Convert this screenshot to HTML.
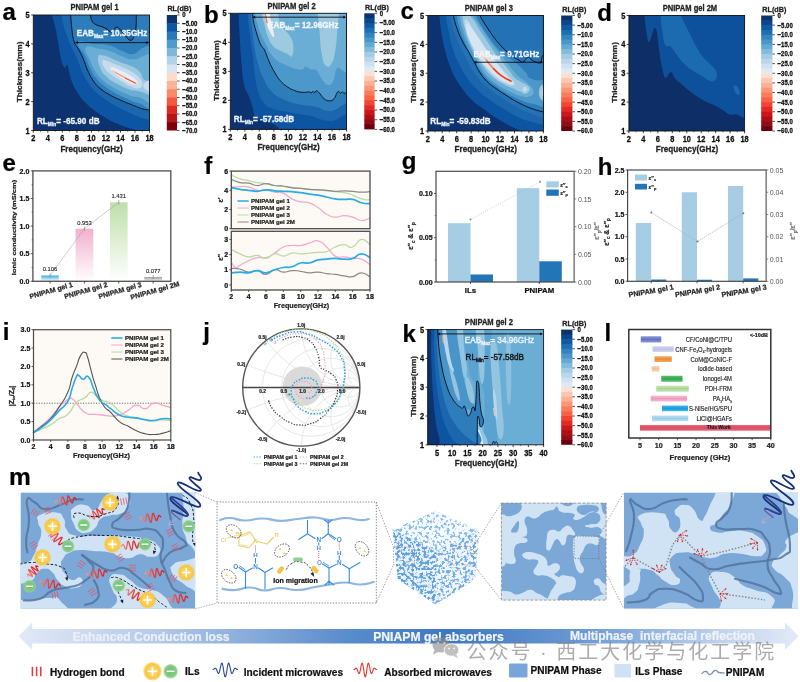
<!DOCTYPE html>
<html lang="en"><head><meta charset="utf-8"><title>PNIPAM gel absorbers figure</title>
<style>
html,body{margin:0;padding:0;background:#fff;}
body{width:800px;height:682px;overflow:hidden;}
svg{display:block;font-family:"Liberation Sans","Noto Sans CJK SC",sans-serif;}
</style></head><body>
<svg width="800" height="682" viewBox="0 0 800 682">
<defs>
<filter id="soft" x="-2%" y="-2%" width="104%" height="104%"><feGaussianBlur stdDeviation="0.45"/></filter>
</defs>
<rect width="800" height="682" fill="#fff"/>
<g filter="url(#soft)">
<g>
<clipPath id="ca"><rect x="33.3" y="15" width="116.2" height="115.5"/></clipPath>
<g clip-path="url(#ca)">
<rect x="33.3" y="15" width="116.2" height="115.5" fill="#0a3070" stroke="none" stroke-width="1" />
<path d="M52 2.7 C23.6 6 51.3 9.3 52 15.1 C52.7 21 53.2 17.7 54.7 24.7 C56.3 31.6 56.2 32.4 57.9 41.2 C59.5 50 59.3 51 60.8 57.7 C62.3 64.3 62.1 63.5 63.4 66.1 C64.6 68.6 64.5 67.5 65.6 67.2 C66.6 66.9 66.4 63.6 67.4 65 C68.4 66.4 67.9 67.4 69.2 72.3 C70.6 77.2 70.1 77.5 72.5 83.3 C75 89.1 75 88.8 78.4 93.9 C81.8 99.1 81.1 98.2 85.4 102.6 C89.6 106.9 88.4 106 94.1 110.3 C99.9 114.6 100.1 114.8 107 118.7 C113.8 122.5 113 122 119.8 124.7 C126.7 127.5 125.8 127.1 132.6 129.1 C139.5 131.2 138.6 131.9 145.5 132.4 C152.3 132.9 154.9 165.6 158.3 131 C161.7 96.4 186.6 36.9 158.3 2.7 C130 -31.5 80.3 -0.7 52 2.7Z" fill="#0d54a2" />
<path d="M61.2 2.7 C35.4 6 60.8 8.8 61.5 15.1 C62.3 21.5 62.3 20.5 63.9 26.5 C65.5 32.5 65.6 32.1 67.6 37.5 C69.5 42.9 69 41.8 71.2 46.7 C73.4 51.5 73.6 50.9 75.8 55.8 C78 60.7 77.5 60.1 79.5 65 C81.4 69.9 80.7 69.3 83.2 74.1 C85.6 79 85.7 78.9 88.7 83.3 C91.6 87.7 90.2 86.7 94.1 90.6 C98.1 94.6 97.9 94.1 103.3 98 C108.7 101.9 108 101.6 114.3 105.3 C120.7 109 120.3 108.5 127.1 111.7 C134 114.9 134.1 115 140 117.2 C145.8 119.4 144.2 118.7 149.1 120 C154 121.2 155.9 153.1 158.3 121.8 C160.7 90.5 184.2 34.4 158.3 2.7 C132.4 -29.1 87 -0.7 61.2 2.7Z" fill="#1a66ae" />
<path d="M70.5 2.7 C47.1 6 70.3 8.3 70.7 15.1 C71 22 70.9 21.4 71.8 28.3 C72.7 35.3 72.2 35.5 74 41.2 C75.8 46.8 76.1 44.8 78.6 49.4 C81 54 80.7 52.9 83.2 58.6 C85.6 64.2 85 64.6 87.7 70.5 C90.4 76.3 90.1 75.9 93.2 80.6 C96.4 85.2 95.5 84.2 99.6 87.9 C103.8 91.6 103.4 91.1 108.8 94.3 C114.2 97.5 113.9 97.1 119.8 99.8 C125.7 102.5 124.9 102 130.8 104.4 C136.7 106.7 136.9 107.1 141.8 108.6 C146.7 110.1 144.7 109.1 149.1 109.9 C153.5 110.7 155.9 140.3 158.3 111.7 C160.7 83.1 181.7 31.7 158.3 2.7 C134.9 -26.4 93.9 -0.7 70.5 2.7Z" fill="#2f7dbb" />
<path d="M90.5 2.7 C79.8 5.6 90.1 10.9 90.5 15.1 C90.8 19.4 90.7 18.8 92 21 C93.2 23.2 93.5 23.3 96 24.7 C98.4 26 99.8 25.8 102.4 26.9 C105 27.9 105.1 28 107 29.2 C108.9 30.4 109.1 31.8 110.6 32 C112.1 32.2 112.1 31.2 113.4 30.2 C114.7 29.1 114.6 27.6 116.1 27.4 C117.6 27.2 117.7 27.3 119.8 29.2 C121.9 31.2 123 33.1 125.3 35.7 C127.7 38.2 128 39.8 129.9 40.2 C131.8 40.7 132.1 40.3 133.6 37.5 C135 34.7 135.3 33.5 135.9 28.3 C136.6 23.1 136.2 21.1 136.3 15.1 C136.4 9.1 147 5.6 136.3 2.7 C125.6 -0.2 101.2 -0.2 90.5 2.7Z" fill="#1a66ae" />
<path d="M78 42.1 C75.6 45.3 81.7 48.7 85 55.8 C88.3 62.9 87.6 62.8 90.5 68.7 C93.4 74.5 92.6 73.4 96 77.8 C99.4 82.2 98.9 81.5 103.3 85.1 C107.7 88.8 106.6 88.1 112.5 91.6 C118.3 95 118 94.8 125.3 98 C132.6 101.2 131.2 101.3 140 103.5 C148.8 105.7 153.4 121.9 158.3 106.2 C163.2 90.6 160.7 61 158.3 44.8 C155.9 28.7 153.5 44.8 149.1 45.7 C144.7 46.7 146.2 46.3 141.8 48.5 C137.4 50.7 138 53.4 132.6 54 C127.3 54.6 128 53 121.6 50.7 C115.3 48.3 116.1 47 108.8 45.2 C101.5 43.4 102.4 44.7 94.1 43.9 C85.9 43.1 80.5 38.9 78 42.1Z" fill="#4d98ca" />
<path d="M85.9 47.6 C83.5 50.9 87.8 54.7 90.5 61.3 C93.2 67.9 92.6 67.2 96 72.3 C99.4 77.4 98.9 76.7 103.3 80.6 C107.7 84.5 106.6 83.6 112.5 87 C118.3 90.4 118.5 90.7 125.3 93.4 C132.2 96.1 129.3 95.3 138.1 97.1 C146.9 98.8 152.9 111.5 158.3 99.8 C163.7 88.1 160.7 65.3 158.3 53.1 C155.9 40.9 153.5 53 149.1 54 C144.7 55 146.2 55.3 141.8 56.7 C137.4 58.2 138 59.6 132.6 59.5 C127.3 59.3 127.5 58.4 121.6 56.2 C115.8 54 116.5 53.2 110.6 51.2 C104.8 49.3 106.2 49.8 99.6 48.9 C93 47.9 88.3 44.2 85.9 47.6Z" fill="#6baed6" />
<path d="M98.2 56.7 C97.4 60.3 98.2 63.3 100.6 68.7 C102.9 74 102.8 73 107 76.9 C111.1 80.8 110.3 80 116.1 83.3 C122 86.6 122.6 87 129 89.2 C135.3 91.4 132.2 89.7 140 91.6 C147.8 93.4 153.4 98.3 158.3 96.1 C163.2 93.9 161.7 87.5 158.3 83.3 C154.9 79.2 150.4 83.5 145.5 80.6 C140.6 77.6 143.4 76 140 72.3 C136.5 68.7 137.5 69.4 132.6 66.8 C127.8 64.3 127.5 65.1 121.6 62.8 C115.8 60.4 115.5 60 110.6 58 C105.8 56.1 106.6 55.8 103.3 55.5 C100 55.1 98.9 53.2 98.2 56.7Z" fill="#9ecae1" />
<path d="M102.4 61.3 C101.9 63.4 102.5 64.8 105.1 68.7 C107.8 72.5 108.1 72.2 112.5 75.6 C116.9 79 116.8 78.5 121.6 81.5 C126.5 84.4 126.4 84.8 130.8 86.6 C135.2 88.5 135.1 88.8 138.1 88.4 C141.2 88.1 141.7 87.7 142.2 85.1 C142.7 82.6 142.5 82.2 140 78.7 C137.4 75.3 137 75.2 132.6 72.3 C128.2 69.4 128.4 69.9 123.5 67.7 C118.6 65.5 118.7 65.9 114.3 64.1 C109.9 62.3 110.2 61.7 107 61 C103.8 60.2 102.9 59.3 102.4 61.3Z" fill="#c6dbef" />
<path d="M110.6 68.3 C110.8 69.7 111.3 70.2 113.9 72.7 C116.6 75.1 116.7 74.8 120.7 77.4 C124.7 80.1 125.1 80.6 129 82.6 C132.9 84.5 133 84.7 135.4 84.8 C137.7 84.9 137.9 84.5 137.8 82.9 C137.6 81.4 137.6 81.3 134.8 78.9 C132.1 76.6 131.8 76.6 127.5 74.1 C123.3 71.7 122.7 71.5 118.9 69.8 C115.1 68 115.6 67.9 113.4 67.6 C111.2 67.2 110.5 66.9 110.6 68.3Z" fill="#e6eff8" />
<path d="M144 83.3 C146.2 81.1 155.4 77.3 158.3 79.6 C161.2 82 160.5 93 158.3 95.2 C156.1 97.4 150.2 93 147.3 90.6 C144.4 88.3 141.8 85.5 144 83.3Z" fill="#c6dbef" />
<path d="M112.84 71.03 L136.3 83.68" stroke="#f9c6ae" stroke-width="1.8" stroke-linecap="round" fill="none"/>
<path d="M115.23 72.5 L135.76 83.31" stroke="#f6906a" stroke-width="0.9" stroke-linecap="round" fill="none"/>
<path d="M125.31 78.18 L135.39 83.13" stroke="#ea5535" stroke-width="1.0" stroke-linecap="round" fill="none"/>
<path d="M70.7 15.1 C71 18.7 70.9 21.4 71.8 28.3 C72.7 35.3 72.2 35.5 74 41.2 C75.8 46.8 76.1 44.8 78.6 49.4 C81 54 80.7 52.9 83.2 58.6 C85.6 64.2 85 64.6 87.7 70.5 C90.4 76.3 90.1 75.9 93.2 80.6 C96.4 85.2 95.5 84.2 99.6 87.9 C103.8 91.6 103.4 91.1 108.8 94.3 C114.2 97.5 113.9 97.1 119.8 99.8 C125.7 102.5 124.9 102 130.8 104.4 C136.7 106.7 136.9 107.1 141.8 108.6 C146.7 110.1 147.2 109.5 149.1 109.9" fill="none" stroke="#0a0a14" stroke-width="0.9" stroke-linejoin="round" stroke-linecap="round" />
<path d="M90.5 15.1 C90.8 16.5 90.7 18.8 92 21 C93.2 23.2 93.5 23.3 96 24.7 C98.4 26 99.8 25.8 102.4 26.9 C105 27.9 105.1 28 107 29.2 C108.9 30.4 109.1 31.8 110.6 32 C112.1 32.2 112.1 31.2 113.4 30.2 C114.7 29.1 114.6 27.6 116.1 27.4 C117.6 27.2 117.7 27.3 119.8 29.2 C121.9 31.2 123 33.1 125.3 35.7 C127.7 38.2 128 39.8 129.9 40.2 C131.8 40.7 132.1 40.3 133.6 37.5 C135 34.7 135.3 33.5 135.9 28.3 C136.6 23.1 136.2 18.2 136.3 15.1" fill="none" stroke="#0a0a14" stroke-width="0.9" stroke-linejoin="round" stroke-linecap="round" />
</g>
<line x1="76.19" y1="42.62" x2="148.22" y2="42.62" stroke="#0a0a14" stroke-width="0.9" />
<polygon points="75.09,42.62 78.02,41.12 78.02,44.12" fill="#0a0a14" />
<polygon points="149.13,42.62 146.2,41.12 146.2,44.12" fill="#0a0a14" />
<text transform="translate(76.74 36.21) scale(0.87 1)" font-size="9.4" font-weight="bold" fill="#f2f6fb" stroke="#f2f6fb" stroke-width="0.3" text-anchor="start">EAB<tspan font-size="5.6" dy="1.96">Max</tspan><tspan dy="-1.96">&#8203;</tspan>= 10.35GHz</text>
<text transform="translate(36.96 123.64) scale(0.87 1)" font-size="9.4" font-weight="bold" fill="#f2f6fb" stroke="#f2f6fb" stroke-width="0.3" text-anchor="start">RL<tspan font-size="5.6" dy="1.96">Min</tspan><tspan dy="-1.96">&#8203;</tspan>= -65.90 dB</text>
<rect x="33.3" y="15" width="116.2" height="115.5" fill="none" stroke="#111" stroke-width="0.9" />
<line x1="33.3" y1="130.5" x2="33.3" y2="132.7" stroke="#111" stroke-width="0.8" />
<text transform="translate(33.3 141.4) scale(0.86 1)" font-size="8.6" font-weight="bold" fill="#111" stroke="#111" stroke-width="0.3" text-anchor="middle">2</text>
<line x1="47.82" y1="130.5" x2="47.82" y2="132.7" stroke="#111" stroke-width="0.8" />
<text transform="translate(47.82 141.4) scale(0.86 1)" font-size="8.6" font-weight="bold" fill="#111" stroke="#111" stroke-width="0.3" text-anchor="middle">4</text>
<line x1="62.35" y1="130.5" x2="62.35" y2="132.7" stroke="#111" stroke-width="0.8" />
<text transform="translate(62.35 141.4) scale(0.86 1)" font-size="8.6" font-weight="bold" fill="#111" stroke="#111" stroke-width="0.3" text-anchor="middle">6</text>
<line x1="76.88" y1="130.5" x2="76.88" y2="132.7" stroke="#111" stroke-width="0.8" />
<text transform="translate(76.88 141.4) scale(0.86 1)" font-size="8.6" font-weight="bold" fill="#111" stroke="#111" stroke-width="0.3" text-anchor="middle">8</text>
<line x1="91.4" y1="130.5" x2="91.4" y2="132.7" stroke="#111" stroke-width="0.8" />
<text transform="translate(91.4 141.4) scale(0.86 1)" font-size="8.6" font-weight="bold" fill="#111" stroke="#111" stroke-width="0.3" text-anchor="middle">10</text>
<line x1="105.92" y1="130.5" x2="105.92" y2="132.7" stroke="#111" stroke-width="0.8" />
<text transform="translate(105.92 141.4) scale(0.86 1)" font-size="8.6" font-weight="bold" fill="#111" stroke="#111" stroke-width="0.3" text-anchor="middle">12</text>
<line x1="120.45" y1="130.5" x2="120.45" y2="132.7" stroke="#111" stroke-width="0.8" />
<text transform="translate(120.45 141.4) scale(0.86 1)" font-size="8.6" font-weight="bold" fill="#111" stroke="#111" stroke-width="0.3" text-anchor="middle">14</text>
<line x1="134.97" y1="130.5" x2="134.97" y2="132.7" stroke="#111" stroke-width="0.8" />
<text transform="translate(134.97 141.4) scale(0.86 1)" font-size="8.6" font-weight="bold" fill="#111" stroke="#111" stroke-width="0.3" text-anchor="middle">16</text>
<line x1="149.5" y1="130.5" x2="149.5" y2="132.7" stroke="#111" stroke-width="0.8" />
<text transform="translate(149.5 141.4) scale(0.86 1)" font-size="8.6" font-weight="bold" fill="#111" stroke="#111" stroke-width="0.3" text-anchor="middle">18</text>
<line x1="40.56" y1="130.5" x2="40.56" y2="131.8" stroke="#111" stroke-width="0.6" />
<line x1="55.09" y1="130.5" x2="55.09" y2="131.8" stroke="#111" stroke-width="0.6" />
<line x1="69.61" y1="130.5" x2="69.61" y2="131.8" stroke="#111" stroke-width="0.6" />
<line x1="84.14" y1="130.5" x2="84.14" y2="131.8" stroke="#111" stroke-width="0.6" />
<line x1="98.66" y1="130.5" x2="98.66" y2="131.8" stroke="#111" stroke-width="0.6" />
<line x1="113.19" y1="130.5" x2="113.19" y2="131.8" stroke="#111" stroke-width="0.6" />
<line x1="127.71" y1="130.5" x2="127.71" y2="131.8" stroke="#111" stroke-width="0.6" />
<line x1="142.24" y1="130.5" x2="142.24" y2="131.8" stroke="#111" stroke-width="0.6" />
<line x1="31.1" y1="130.5" x2="33.3" y2="130.5" stroke="#111" stroke-width="0.8" />
<text transform="translate(29.7 133.5) scale(0.86 1)" font-size="8.6" font-weight="bold" fill="#111" stroke="#111" stroke-width="0.3" text-anchor="end">1</text>
<line x1="31.1" y1="101.62" x2="33.3" y2="101.62" stroke="#111" stroke-width="0.8" />
<text transform="translate(29.7 104.62) scale(0.86 1)" font-size="8.6" font-weight="bold" fill="#111" stroke="#111" stroke-width="0.3" text-anchor="end">2</text>
<line x1="31.1" y1="72.75" x2="33.3" y2="72.75" stroke="#111" stroke-width="0.8" />
<text transform="translate(29.7 75.75) scale(0.86 1)" font-size="8.6" font-weight="bold" fill="#111" stroke="#111" stroke-width="0.3" text-anchor="end">3</text>
<line x1="31.1" y1="43.88" x2="33.3" y2="43.88" stroke="#111" stroke-width="0.8" />
<text transform="translate(29.7 46.88) scale(0.86 1)" font-size="8.6" font-weight="bold" fill="#111" stroke="#111" stroke-width="0.3" text-anchor="end">4</text>
<line x1="31.1" y1="15" x2="33.3" y2="15" stroke="#111" stroke-width="0.8" />
<text transform="translate(29.7 18) scale(0.86 1)" font-size="8.6" font-weight="bold" fill="#111" stroke="#111" stroke-width="0.3" text-anchor="end">5</text>
<text transform="translate(91.6 151.5) scale(0.87 1)" font-size="9.3" font-weight="bold" fill="#222" stroke="#222" stroke-width="0.3" text-anchor="middle">Frequency(GHz)</text>
<text transform="translate(21.5 71.95) scale(0.84 1) rotate(-90)" font-size="8.3" font-weight="bold" fill="#222" stroke="#222" stroke-width="0.3" text-anchor="middle">Thickness(mm)</text>
<text transform="translate(94.6 10.2) scale(0.86 1)" font-size="8.8" font-weight="bold" fill="#222" stroke="#222" stroke-width="0.3" text-anchor="middle">PNIPAM gel 1</text>
<text x="2.4" y="20" font-size="24" font-weight="bold" fill="#000" text-anchor="start"  stroke="#000" stroke-width="0.22">a</text>
<rect x="166.8" y="15" width="10.2" height="8.85" fill="#08306b" stroke="none" stroke-width="1" />
<rect x="166.8" y="23.25" width="10.2" height="8.85" fill="#0b57a3" stroke="none" stroke-width="1" />
<rect x="166.8" y="31.5" width="10.2" height="8.85" fill="#2a7aba" stroke="none" stroke-width="1" />
<rect x="166.8" y="39.75" width="10.2" height="8.85" fill="#4f9bcb" stroke="none" stroke-width="1" />
<rect x="166.8" y="48" width="10.2" height="8.85" fill="#7db8da" stroke="none" stroke-width="1" />
<rect x="166.8" y="56.25" width="10.2" height="8.85" fill="#b3d3e8" stroke="none" stroke-width="1" />
<rect x="166.8" y="64.5" width="10.2" height="8.85" fill="#d6e5f4" stroke="none" stroke-width="1" />
<rect x="166.8" y="72.75" width="10.2" height="8.85" fill="#fddbc9" stroke="none" stroke-width="1" />
<rect x="166.8" y="81" width="10.2" height="8.85" fill="#fcb499" stroke="none" stroke-width="1" />
<rect x="166.8" y="89.25" width="10.2" height="8.85" fill="#fb8a6a" stroke="none" stroke-width="1" />
<rect x="166.8" y="97.5" width="10.2" height="8.85" fill="#f6583e" stroke="none" stroke-width="1" />
<rect x="166.8" y="105.75" width="10.2" height="8.85" fill="#dd2a25" stroke="none" stroke-width="1" />
<rect x="166.8" y="114" width="10.2" height="8.85" fill="#b51218" stroke="none" stroke-width="1" />
<rect x="166.8" y="122.25" width="10.2" height="8.25" fill="#7a0510" stroke="none" stroke-width="1" />
<line x1="177" y1="15" x2="179.6" y2="15" stroke="#111" stroke-width="0.7" />
<text transform="translate(182.2 17.4) scale(0.88 1)" font-size="6.8" font-weight="bold" fill="#111" stroke="#111" stroke-width="0.3" text-anchor="start">0</text>
<line x1="177" y1="23.25" x2="179.6" y2="23.25" stroke="#111" stroke-width="0.7" />
<text transform="translate(182.2 25.65) scale(0.88 1)" font-size="6.8" font-weight="bold" fill="#111" stroke="#111" stroke-width="0.3" text-anchor="start">−5.00</text>
<line x1="177" y1="31.5" x2="179.6" y2="31.5" stroke="#111" stroke-width="0.7" />
<text transform="translate(182.2 33.9) scale(0.88 1)" font-size="6.8" font-weight="bold" fill="#111" stroke="#111" stroke-width="0.3" text-anchor="start">−10.0</text>
<line x1="177" y1="39.75" x2="179.6" y2="39.75" stroke="#111" stroke-width="0.7" />
<text transform="translate(182.2 42.15) scale(0.88 1)" font-size="6.8" font-weight="bold" fill="#111" stroke="#111" stroke-width="0.3" text-anchor="start">−15.0</text>
<line x1="177" y1="48" x2="179.6" y2="48" stroke="#111" stroke-width="0.7" />
<text transform="translate(182.2 50.4) scale(0.88 1)" font-size="6.8" font-weight="bold" fill="#111" stroke="#111" stroke-width="0.3" text-anchor="start">−20.0</text>
<line x1="177" y1="56.25" x2="179.6" y2="56.25" stroke="#111" stroke-width="0.7" />
<text transform="translate(182.2 58.65) scale(0.88 1)" font-size="6.8" font-weight="bold" fill="#111" stroke="#111" stroke-width="0.3" text-anchor="start">−25.0</text>
<line x1="177" y1="64.5" x2="179.6" y2="64.5" stroke="#111" stroke-width="0.7" />
<text transform="translate(182.2 66.9) scale(0.88 1)" font-size="6.8" font-weight="bold" fill="#111" stroke="#111" stroke-width="0.3" text-anchor="start">−30.0</text>
<line x1="177" y1="72.75" x2="179.6" y2="72.75" stroke="#111" stroke-width="0.7" />
<text transform="translate(182.2 75.15) scale(0.88 1)" font-size="6.8" font-weight="bold" fill="#111" stroke="#111" stroke-width="0.3" text-anchor="start">−35.0</text>
<line x1="177" y1="81" x2="179.6" y2="81" stroke="#111" stroke-width="0.7" />
<text transform="translate(182.2 83.4) scale(0.88 1)" font-size="6.8" font-weight="bold" fill="#111" stroke="#111" stroke-width="0.3" text-anchor="start">−40.0</text>
<line x1="177" y1="89.25" x2="179.6" y2="89.25" stroke="#111" stroke-width="0.7" />
<text transform="translate(182.2 91.65) scale(0.88 1)" font-size="6.8" font-weight="bold" fill="#111" stroke="#111" stroke-width="0.3" text-anchor="start">−45.0</text>
<line x1="177" y1="97.5" x2="179.6" y2="97.5" stroke="#111" stroke-width="0.7" />
<text transform="translate(182.2 99.9) scale(0.88 1)" font-size="6.8" font-weight="bold" fill="#111" stroke="#111" stroke-width="0.3" text-anchor="start">−50.0</text>
<line x1="177" y1="105.75" x2="179.6" y2="105.75" stroke="#111" stroke-width="0.7" />
<text transform="translate(182.2 108.15) scale(0.88 1)" font-size="6.8" font-weight="bold" fill="#111" stroke="#111" stroke-width="0.3" text-anchor="start">−55.0</text>
<line x1="177" y1="114" x2="179.6" y2="114" stroke="#111" stroke-width="0.7" />
<text transform="translate(182.2 116.4) scale(0.88 1)" font-size="6.8" font-weight="bold" fill="#111" stroke="#111" stroke-width="0.3" text-anchor="start">−60.0</text>
<line x1="177" y1="122.25" x2="179.6" y2="122.25" stroke="#111" stroke-width="0.7" />
<text transform="translate(182.2 124.65) scale(0.88 1)" font-size="6.8" font-weight="bold" fill="#111" stroke="#111" stroke-width="0.3" text-anchor="start">−65.0</text>
<line x1="177" y1="130.5" x2="179.6" y2="130.5" stroke="#111" stroke-width="0.7" />
<text transform="translate(182.2 132.9) scale(0.88 1)" font-size="6.8" font-weight="bold" fill="#111" stroke="#111" stroke-width="0.3" text-anchor="start">−70.0</text>
<text transform="translate(179.4 11.2) scale(0.9 1)" font-size="8" font-weight="bold" fill="#222" stroke="#222" stroke-width="0.3" text-anchor="middle">RL(dB)</text>
</g>
<g>
<clipPath id="cb"><rect x="230.3" y="13.3" width="116.2" height="116.1"/></clipPath>
<g clip-path="url(#cb)">
<rect x="230.3" y="13.3" width="116.2" height="116.1" fill="#0a3070" stroke="none" stroke-width="1" />
<path d="M238.7 0.7 C207.2 4.1 238.5 4.2 238.7 13.5 C239 22.8 238.9 22.3 239.7 35.5 C240.4 48.7 240.3 49.8 241.5 63 C242.7 76.2 242.3 76.2 244.2 85 C246.2 93.8 246.6 90.1 248.8 96 C251 101.8 250.8 101.6 252.5 107 C254.2 112.3 252.8 112.7 255.2 116.1 C257.7 119.6 257.5 118.1 261.7 119.8 C265.8 121.5 265.9 119.9 270.8 122.6 C275.7 125.2 277.5 126.2 280 129.9 C282.4 133.5 259.5 134.6 280 136.3 C300.5 138 336.4 172.5 357 136.3 C377.5 100.1 388.5 36.8 357 0.7 C325.4 -35.5 270.3 -2.8 238.7 0.7Z" fill="#0d54a2" />
<path d="M247.9 0.7 C218.8 4.1 247.6 5.7 247.9 13.5 C248.3 21.3 248 19.2 249.2 30 C250.4 40.7 250.9 41.1 252.5 53.8 C254.1 66.5 253.5 66.9 255.2 77.6 C257 88.4 256.5 87.3 258.9 94.1 C261.4 101 260.7 99.4 264.4 103.3 C268.1 107.2 267 106.6 272.7 108.8 C278.3 111 278.6 110.2 285.5 111.6 C292.3 112.9 291.5 112.7 298.3 113.9 C305.2 115.2 304.3 114.5 311.1 116.1 C318 117.8 317.6 119.1 324 120.2 C330.3 121.2 329.1 121.7 335 120.2 C340.8 118.6 340.1 116.4 346 114.3 C351.8 112.3 354 142.8 357 112.5 C359.9 82.2 386 30.5 357 0.7 C327.9 -29.1 277 -2.8 247.9 0.7Z" fill="#1a66ae" />
<path d="M250.7 0.7 C222.3 4.1 250.3 6.2 250.7 13.5 C251.1 20.8 251.1 18.9 252.1 28.2 C253.2 37.4 253 38.5 254.7 48.3 C256.4 58.1 255.9 56.5 258.4 64.8 C260.8 73.1 260.5 72.6 263.9 79.5 C267.2 86.3 266.5 85.6 270.8 90.5 C275.1 95.4 274.6 94.6 280 97.8 C285.4 101 284.6 100.4 291 102.4 C297.3 104.3 297 103.9 303.8 105.1 C310.7 106.4 310.8 105.5 316.6 107 C322.5 108.4 320.9 109.9 325.8 110.6 C330.7 111.4 329.6 111.7 335 109.7 C340.3 107.8 340.1 105.5 346 103.3 C351.8 101.1 354 128.8 357 101.5 C359.9 74.1 385.3 27.6 357 0.7 C328.6 -26.2 279 -2.8 250.7 0.7Z" fill="#2f7dbb" />
<path d="M252.5 0.7 C228.1 3.7 252.3 8.8 252.5 13.5 C252.7 18.2 252.6 16.6 253.4 20.8 C254.3 25.1 254.4 26.3 256.2 31.8 C257.9 37.4 258.8 40.5 260.7 44.7 C262.7 48.8 262.5 45.9 264.4 49.8 C266.3 53.6 266.6 55.9 269 61.2 C271.3 66.4 271.9 67.7 274.5 72.1 C277.1 76.6 277 77 280 80.4 C283 83.8 283.9 84.5 287.3 86.8 C290.7 89.2 291.2 89.2 294.6 90.5 C298.1 91.8 298.6 92 302 92.3 C305.4 92.7 307.2 91.8 309.3 91.9 C311.4 92.1 310.3 93.2 311.1 93 C312 92.9 312.1 91.5 313 91.4 C313.8 91.3 314 92.8 314.8 92.7 C315.7 92.5 315.4 90.5 316.6 90.8 C317.9 91.2 318.6 92.3 320.3 94.1 C322 96 321.8 97.1 324 98.7 C326.1 100.3 327.1 100.9 329.5 100.9 C331.8 100.9 332.3 100.5 334.1 98.7 C335.8 96.9 335.7 94.9 336.8 93.2 C337.9 91.5 337.8 91.4 338.6 91.4 C339.5 91.4 339.6 93.1 340.5 93.2 C341.3 93.4 341.4 91.9 342.3 91.9 C343.2 92 343.3 93.3 344.1 93.4 C345 93.5 343 92.6 346 92.3 C349 92.1 354.4 113.7 357 92.3 C359.5 70.9 381.3 22.1 357 0.7 C332.6 -20.7 276.9 -2.3 252.5 0.7Z" fill="#4d98ca" />
<path d="M255.2 0.7 C231.5 3.7 254.8 8.4 255.2 13.5 C255.7 18.6 255.8 18 257.1 22.7 C258.4 27.4 258.6 28.5 260.7 33.7 C262.9 38.8 263.9 40 266.2 44.7 C268.6 49.4 268 50 270.8 53.8 C273.6 57.7 274.7 58.6 278.2 61.2 C281.6 63.7 281.6 63.1 285.5 64.8 C289.3 66.5 290.8 67.4 294.6 68.5 C298.5 69.6 299.4 69.8 302 69.4 C304.5 69 303.5 66.7 305.6 66.7 C307.8 66.7 308.6 68.5 311.1 69.4 C313.7 70.3 314.1 68 316.6 70.3 C319.2 72.7 319.6 76.1 322.1 79.5 C324.7 82.9 325.1 84.6 327.6 85 C330.2 85.4 331 85.2 333.1 81.3 C335.3 77.5 334.7 71 336.8 68.5 C338.9 65.9 340.2 69.5 342.3 70.3 C344.4 71.2 342.5 71.7 346 72.1 C349.4 72.6 354.4 88.8 357 72.1 C359.5 55.5 380.7 17.3 357 0.7 C333.2 -16 279 -2.3 255.2 0.7Z" fill="#6baed6" />
<path d="M261.7 4.3 C257.8 6.5 261 8.8 261.7 13.5 C262.3 18.2 262.9 18.9 264.4 24.5 C265.9 30.1 265.9 32.2 268.1 37.3 C270.2 42.5 270.8 43.4 273.6 46.5 C276.4 49.6 276.8 48.8 280 50.5 C283.2 52.2 284.5 52.5 287.3 53.8 C290.1 55.1 290.5 58.2 291.9 56 C293.3 53.9 293.7 49.4 293.2 44.7 C292.6 39.9 291.7 39 289.5 35.5 C287.4 32 286.2 32.3 284 29.6 C281.9 27 281.7 27.9 280.4 24.1 C279 20.4 278.7 18.1 278.2 13.5 C277.6 8.9 282 6.5 278.2 4.3 C274.3 2.2 265.5 2.2 261.7 4.3Z" fill="#9ecae1" />
<path d="M319.9 4.3 C315.9 11.6 319.4 23.5 319.9 35.5 C320.5 47.5 320.8 48.6 322.1 55.7 C323.5 62.7 323.7 63.8 325.8 65.7 C327.9 67.7 329.2 67.1 331.3 63.9 C333.4 60.7 333.6 59.9 335 52 C336.3 44.1 336.7 41.1 337.2 30 C337.7 18.9 341.2 10.3 337.2 4.3 C333.2 -1.7 324 -2.9 319.9 4.3Z" fill="#9ecae1" />
<path d="M264 4.3 C262.8 6.5 263.9 9.2 264.4 13.5 C264.9 17.8 264.7 18 266.2 22.7 C267.7 27.4 269 30.5 270.8 33.7 C272.7 36.9 273.8 38.1 274.1 36.4 C274.5 34.7 273.4 31.7 272.3 26.3 C271.2 21 270.2 18.6 269.5 13.5 C268.9 8.4 270.8 6.5 269.5 4.3 C268.3 2.2 265.2 2.2 264 4.3Z" fill="#e6eff8" />
<path d="M265.32 13.87 L266.97 22.66" stroke="#f47a50" stroke-width="1.4" stroke-linecap="round" fill="none"/>
<path d="M252.5 13.5 C252.7 15.2 252.6 16.6 253.4 20.8 C254.3 25.1 254.4 26.3 256.2 31.8 C257.9 37.4 258.8 40.5 260.7 44.7 C262.7 48.8 262.5 45.9 264.4 49.8 C266.3 53.6 266.6 55.9 269 61.2 C271.3 66.4 271.9 67.7 274.5 72.1 C277.1 76.6 277 77 280 80.4 C283 83.8 283.9 84.5 287.3 86.8 C290.7 89.2 291.2 89.2 294.6 90.5 C298.1 91.8 298.6 92 302 92.3 C305.4 92.7 307.2 91.8 309.3 91.9 C311.4 92.1 310.3 93.2 311.1 93 C312 92.9 312.1 91.5 313 91.4 C313.8 91.3 314 92.8 314.8 92.7 C315.7 92.5 315.4 90.5 316.6 90.8 C317.9 91.2 318.6 92.3 320.3 94.1 C322 96 321.8 97.1 324 98.7 C326.1 100.3 327.1 100.9 329.5 100.9 C331.8 100.9 332.3 100.5 334.1 98.7 C335.8 96.9 335.7 94.9 336.8 93.2 C337.9 91.5 337.8 91.4 338.6 91.4 C339.5 91.4 339.6 93.1 340.5 93.2 C341.3 93.4 341.4 91.9 342.3 91.9 C343.2 92 343.3 93.3 344.1 93.4 C345 93.5 345.5 92.6 346 92.3" fill="none" stroke="#0a0a14" stroke-width="0.9" stroke-linejoin="round" stroke-linecap="round" />
</g>
<line x1="253.41" y1="17.16" x2="345.05" y2="17.16" stroke="#0a0a14" stroke-width="0.9" />
<polygon points="252.49,17.16 255.06,15.76 255.06,18.56" fill="#0a0a14" />
<polygon points="345.97,17.16 343.4,15.76 343.4,18.56" fill="#0a0a14" />
<text transform="translate(268.07 27.79) scale(0.87 1)" font-size="9.4" font-weight="bold" fill="#f2f6fb" stroke="#f2f6fb" stroke-width="0.3" text-anchor="start">EAB<tspan font-size="5.6" dy="1.96">Max</tspan><tspan dy="-1.96">&#8203;</tspan>= 12.96GHz</text>
<text transform="translate(233.8 122) scale(0.87 1)" font-size="9.4" font-weight="bold" fill="#f2f6fb" stroke="#f2f6fb" stroke-width="0.3" text-anchor="start">RL<tspan font-size="5.6" dy="1.96">Min</tspan><tspan dy="-1.96">&#8203;</tspan>= -57.58dB</text>
<rect x="230.3" y="13.3" width="116.2" height="116.1" fill="none" stroke="#111" stroke-width="0.9" />
<line x1="230.3" y1="129.4" x2="230.3" y2="131.6" stroke="#111" stroke-width="0.8" />
<text transform="translate(230.3 140.3) scale(0.86 1)" font-size="8.6" font-weight="bold" fill="#111" stroke="#111" stroke-width="0.3" text-anchor="middle">2</text>
<line x1="244.83" y1="129.4" x2="244.83" y2="131.6" stroke="#111" stroke-width="0.8" />
<text transform="translate(244.83 140.3) scale(0.86 1)" font-size="8.6" font-weight="bold" fill="#111" stroke="#111" stroke-width="0.3" text-anchor="middle">4</text>
<line x1="259.35" y1="129.4" x2="259.35" y2="131.6" stroke="#111" stroke-width="0.8" />
<text transform="translate(259.35 140.3) scale(0.86 1)" font-size="8.6" font-weight="bold" fill="#111" stroke="#111" stroke-width="0.3" text-anchor="middle">6</text>
<line x1="273.88" y1="129.4" x2="273.88" y2="131.6" stroke="#111" stroke-width="0.8" />
<text transform="translate(273.88 140.3) scale(0.86 1)" font-size="8.6" font-weight="bold" fill="#111" stroke="#111" stroke-width="0.3" text-anchor="middle">8</text>
<line x1="288.4" y1="129.4" x2="288.4" y2="131.6" stroke="#111" stroke-width="0.8" />
<text transform="translate(288.4 140.3) scale(0.86 1)" font-size="8.6" font-weight="bold" fill="#111" stroke="#111" stroke-width="0.3" text-anchor="middle">10</text>
<line x1="302.93" y1="129.4" x2="302.93" y2="131.6" stroke="#111" stroke-width="0.8" />
<text transform="translate(302.93 140.3) scale(0.86 1)" font-size="8.6" font-weight="bold" fill="#111" stroke="#111" stroke-width="0.3" text-anchor="middle">12</text>
<line x1="317.45" y1="129.4" x2="317.45" y2="131.6" stroke="#111" stroke-width="0.8" />
<text transform="translate(317.45 140.3) scale(0.86 1)" font-size="8.6" font-weight="bold" fill="#111" stroke="#111" stroke-width="0.3" text-anchor="middle">14</text>
<line x1="331.98" y1="129.4" x2="331.98" y2="131.6" stroke="#111" stroke-width="0.8" />
<text transform="translate(331.98 140.3) scale(0.86 1)" font-size="8.6" font-weight="bold" fill="#111" stroke="#111" stroke-width="0.3" text-anchor="middle">16</text>
<line x1="346.5" y1="129.4" x2="346.5" y2="131.6" stroke="#111" stroke-width="0.8" />
<text transform="translate(346.5 140.3) scale(0.86 1)" font-size="8.6" font-weight="bold" fill="#111" stroke="#111" stroke-width="0.3" text-anchor="middle">18</text>
<line x1="237.56" y1="129.4" x2="237.56" y2="130.7" stroke="#111" stroke-width="0.6" />
<line x1="252.09" y1="129.4" x2="252.09" y2="130.7" stroke="#111" stroke-width="0.6" />
<line x1="266.61" y1="129.4" x2="266.61" y2="130.7" stroke="#111" stroke-width="0.6" />
<line x1="281.14" y1="129.4" x2="281.14" y2="130.7" stroke="#111" stroke-width="0.6" />
<line x1="295.66" y1="129.4" x2="295.66" y2="130.7" stroke="#111" stroke-width="0.6" />
<line x1="310.19" y1="129.4" x2="310.19" y2="130.7" stroke="#111" stroke-width="0.6" />
<line x1="324.71" y1="129.4" x2="324.71" y2="130.7" stroke="#111" stroke-width="0.6" />
<line x1="339.24" y1="129.4" x2="339.24" y2="130.7" stroke="#111" stroke-width="0.6" />
<line x1="228.1" y1="129.4" x2="230.3" y2="129.4" stroke="#111" stroke-width="0.8" />
<text transform="translate(226.7 132.4) scale(0.86 1)" font-size="8.6" font-weight="bold" fill="#111" stroke="#111" stroke-width="0.3" text-anchor="end">1</text>
<line x1="228.1" y1="100.38" x2="230.3" y2="100.38" stroke="#111" stroke-width="0.8" />
<text transform="translate(226.7 103.38) scale(0.86 1)" font-size="8.6" font-weight="bold" fill="#111" stroke="#111" stroke-width="0.3" text-anchor="end">2</text>
<line x1="228.1" y1="71.35" x2="230.3" y2="71.35" stroke="#111" stroke-width="0.8" />
<text transform="translate(226.7 74.35) scale(0.86 1)" font-size="8.6" font-weight="bold" fill="#111" stroke="#111" stroke-width="0.3" text-anchor="end">3</text>
<line x1="228.1" y1="42.33" x2="230.3" y2="42.33" stroke="#111" stroke-width="0.8" />
<text transform="translate(226.7 45.33) scale(0.86 1)" font-size="8.6" font-weight="bold" fill="#111" stroke="#111" stroke-width="0.3" text-anchor="end">4</text>
<line x1="228.1" y1="13.3" x2="230.3" y2="13.3" stroke="#111" stroke-width="0.8" />
<text transform="translate(226.7 16.3) scale(0.86 1)" font-size="8.6" font-weight="bold" fill="#111" stroke="#111" stroke-width="0.3" text-anchor="end">5</text>
<text transform="translate(288.6 150.4) scale(0.87 1)" font-size="9.3" font-weight="bold" fill="#222" stroke="#222" stroke-width="0.3" text-anchor="middle">Frequency(GHz)</text>
<text transform="translate(218.5 70.55) scale(0.84 1) rotate(-90)" font-size="8.3" font-weight="bold" fill="#222" stroke="#222" stroke-width="0.3" text-anchor="middle">Thickness(mm)</text>
<text transform="translate(291.6 8.5) scale(0.86 1)" font-size="8.8" font-weight="bold" fill="#222" stroke="#222" stroke-width="0.3" text-anchor="middle">PNIPAM gel 2</text>
<text x="204" y="23.3" font-size="24" font-weight="bold" fill="#000" text-anchor="start"  stroke="#000" stroke-width="0.22">b</text>
<rect x="364.3" y="13.3" width="10.3" height="5.44" fill="#08306b" stroke="none" stroke-width="1" />
<rect x="364.3" y="18.14" width="10.3" height="5.44" fill="#08458a" stroke="none" stroke-width="1" />
<rect x="364.3" y="22.98" width="10.3" height="5.44" fill="#0f5aa3" stroke="none" stroke-width="1" />
<rect x="364.3" y="27.81" width="10.3" height="5.44" fill="#1f6eb3" stroke="none" stroke-width="1" />
<rect x="364.3" y="32.65" width="10.3" height="5.44" fill="#3383be" stroke="none" stroke-width="1" />
<rect x="364.3" y="37.49" width="10.3" height="5.44" fill="#4997c9" stroke="none" stroke-width="1" />
<rect x="364.3" y="42.33" width="10.3" height="5.44" fill="#64a9d3" stroke="none" stroke-width="1" />
<rect x="364.3" y="47.16" width="10.3" height="5.44" fill="#82bbdb" stroke="none" stroke-width="1" />
<rect x="364.3" y="52" width="10.3" height="5.44" fill="#a2cce2" stroke="none" stroke-width="1" />
<rect x="364.3" y="56.84" width="10.3" height="5.44" fill="#bbd6eb" stroke="none" stroke-width="1" />
<rect x="364.3" y="61.67" width="10.3" height="5.44" fill="#cfe1f2" stroke="none" stroke-width="1" />
<rect x="364.3" y="66.51" width="10.3" height="5.44" fill="#deebf7" stroke="none" stroke-width="1" />
<rect x="364.3" y="71.35" width="10.3" height="5.44" fill="#fee0d2" stroke="none" stroke-width="1" />
<rect x="364.3" y="76.19" width="10.3" height="5.44" fill="#fdc8b3" stroke="none" stroke-width="1" />
<rect x="364.3" y="81.03" width="10.3" height="5.44" fill="#fcb094" stroke="none" stroke-width="1" />
<rect x="364.3" y="85.86" width="10.3" height="5.44" fill="#fc9676" stroke="none" stroke-width="1" />
<rect x="364.3" y="90.7" width="10.3" height="5.44" fill="#fb7c5c" stroke="none" stroke-width="1" />
<rect x="364.3" y="95.54" width="10.3" height="5.44" fill="#f96145" stroke="none" stroke-width="1" />
<rect x="364.3" y="100.38" width="10.3" height="5.44" fill="#f14431" stroke="none" stroke-width="1" />
<rect x="364.3" y="105.21" width="10.3" height="5.44" fill="#df2b25" stroke="none" stroke-width="1" />
<rect x="364.3" y="110.05" width="10.3" height="5.44" fill="#c8171c" stroke="none" stroke-width="1" />
<rect x="364.3" y="114.89" width="10.3" height="5.44" fill="#af1117" stroke="none" stroke-width="1" />
<rect x="364.3" y="119.73" width="10.3" height="5.44" fill="#8e0a12" stroke="none" stroke-width="1" />
<rect x="364.3" y="124.56" width="10.3" height="4.84" fill="#67000d" stroke="none" stroke-width="1" />
<line x1="374.6" y1="13.3" x2="377.2" y2="13.3" stroke="#111" stroke-width="0.7" />
<text transform="translate(379.8 15.7) scale(0.88 1)" font-size="6.8" font-weight="bold" fill="#111" stroke="#111" stroke-width="0.3" text-anchor="start">0</text>
<line x1="374.6" y1="22.98" x2="377.2" y2="22.98" stroke="#111" stroke-width="0.7" />
<text transform="translate(379.8 25.38) scale(0.88 1)" font-size="6.8" font-weight="bold" fill="#111" stroke="#111" stroke-width="0.3" text-anchor="start">−5.00</text>
<line x1="374.6" y1="32.65" x2="377.2" y2="32.65" stroke="#111" stroke-width="0.7" />
<text transform="translate(379.8 35.05) scale(0.88 1)" font-size="6.8" font-weight="bold" fill="#111" stroke="#111" stroke-width="0.3" text-anchor="start">−10.0</text>
<line x1="374.6" y1="42.33" x2="377.2" y2="42.33" stroke="#111" stroke-width="0.7" />
<text transform="translate(379.8 44.73) scale(0.88 1)" font-size="6.8" font-weight="bold" fill="#111" stroke="#111" stroke-width="0.3" text-anchor="start">−15.0</text>
<line x1="374.6" y1="52" x2="377.2" y2="52" stroke="#111" stroke-width="0.7" />
<text transform="translate(379.8 54.4) scale(0.88 1)" font-size="6.8" font-weight="bold" fill="#111" stroke="#111" stroke-width="0.3" text-anchor="start">−20.0</text>
<line x1="374.6" y1="61.67" x2="377.2" y2="61.67" stroke="#111" stroke-width="0.7" />
<text transform="translate(379.8 64.08) scale(0.88 1)" font-size="6.8" font-weight="bold" fill="#111" stroke="#111" stroke-width="0.3" text-anchor="start">−25.0</text>
<line x1="374.6" y1="71.35" x2="377.2" y2="71.35" stroke="#111" stroke-width="0.7" />
<text transform="translate(379.8 73.75) scale(0.88 1)" font-size="6.8" font-weight="bold" fill="#111" stroke="#111" stroke-width="0.3" text-anchor="start">−30.0</text>
<line x1="374.6" y1="81.03" x2="377.2" y2="81.03" stroke="#111" stroke-width="0.7" />
<text transform="translate(379.8 83.43) scale(0.88 1)" font-size="6.8" font-weight="bold" fill="#111" stroke="#111" stroke-width="0.3" text-anchor="start">−35.0</text>
<line x1="374.6" y1="90.7" x2="377.2" y2="90.7" stroke="#111" stroke-width="0.7" />
<text transform="translate(379.8 93.1) scale(0.88 1)" font-size="6.8" font-weight="bold" fill="#111" stroke="#111" stroke-width="0.3" text-anchor="start">−40.0</text>
<line x1="374.6" y1="100.38" x2="377.2" y2="100.38" stroke="#111" stroke-width="0.7" />
<text transform="translate(379.8 102.78) scale(0.88 1)" font-size="6.8" font-weight="bold" fill="#111" stroke="#111" stroke-width="0.3" text-anchor="start">−45.0</text>
<line x1="374.6" y1="110.05" x2="377.2" y2="110.05" stroke="#111" stroke-width="0.7" />
<text transform="translate(379.8 112.45) scale(0.88 1)" font-size="6.8" font-weight="bold" fill="#111" stroke="#111" stroke-width="0.3" text-anchor="start">−50.0</text>
<line x1="374.6" y1="119.73" x2="377.2" y2="119.73" stroke="#111" stroke-width="0.7" />
<text transform="translate(379.8 122.13) scale(0.88 1)" font-size="6.8" font-weight="bold" fill="#111" stroke="#111" stroke-width="0.3" text-anchor="start">−55.0</text>
<line x1="374.6" y1="129.4" x2="377.2" y2="129.4" stroke="#111" stroke-width="0.7" />
<text transform="translate(379.8 131.8) scale(0.88 1)" font-size="6.8" font-weight="bold" fill="#111" stroke="#111" stroke-width="0.3" text-anchor="start">−60.0</text>
<text transform="translate(376.95 9.5) scale(0.9 1)" font-size="8" font-weight="bold" fill="#222" stroke="#222" stroke-width="0.3" text-anchor="middle">RL(dB)</text>
</g>
<g>
<clipPath id="cc"><rect x="427.8" y="15.5" width="115.6" height="115.5"/></clipPath>
<g clip-path="url(#cc)">
<rect x="427.8" y="15.5" width="115.6" height="115.5" fill="#0a3070" stroke="none" stroke-width="1" />
<path d="M439.5 2.7 C408.7 6.1 439 7.7 439.5 15.5 C440 23.3 439.9 22.7 441.3 32 C442.8 41.3 442.8 41.5 445 50.3 C447.2 59.1 446.9 57.7 449.6 65 C452.3 72.3 451.7 71.5 455.1 77.8 C458.5 84.2 458 82.9 462.4 88.8 C466.8 94.7 465.9 94.4 471.6 99.8 C477.2 105.2 476.9 104.1 483.5 109 C490.1 113.9 489.5 113.7 496.3 118.1 C503.2 122.5 502.3 121.8 509.1 125.5 C516 129.1 518.6 128.5 522 131.9 C525.4 135.3 513.2 136.6 522 138.3 C530.8 140 546.2 174.5 555 138.3 C563.8 102.1 585.8 38.8 555 2.7 C524.2 -33.5 470.3 -0.8 439.5 2.7Z" fill="#0d54a2" />
<path d="M445.9 2.7 C416.8 6.1 445.2 7.7 445.9 15.5 C446.6 23.3 446.7 22.7 448.7 32 C450.6 41.3 450.6 42 453.2 50.3 C455.9 58.6 455.1 55.8 458.7 63.2 C462.4 70.5 461.9 70.5 467 77.8 C472.1 85.1 471.6 84.5 478 90.6 C484.3 96.8 483.5 95.6 490.8 100.7 C498.1 105.9 497.7 105.2 505.5 109.9 C513.3 114.5 512.3 114.7 520.1 118.1 C528 121.6 528.4 121 534.8 122.7 C541.2 124.4 538.6 123.8 544 124.6 C549.3 125.3 552 158 555 125.5 C557.9 93 584 35.4 555 2.7 C525.9 -30.1 475 -0.8 445.9 2.7Z" fill="#1a66ae" />
<path d="M450.1 2.7 C422.2 6.1 449.1 8.2 450.1 15.5 C451.1 22.8 451.3 22.3 453.8 30.2 C456.2 38 456.1 37.5 459.3 44.8 C462.5 52.2 462.1 50.8 465.7 57.7 C469.3 64.5 468.7 64.1 472.9 70.5 C477 76.8 476.6 76.3 481.3 81.5 C486 86.6 485.1 85.4 490.4 89.7 C495.8 94 495.1 93.4 501.4 97.6 C507.8 101.9 507.3 101.8 514.3 105.7 C521.2 109.6 519.6 109 527.5 112.3 C535.4 115.5 536.6 116.2 544 117.8 C551.3 119.3 552 148.8 555 118.1 C557.9 87.4 582.9 33.5 555 2.7 C527 -28.1 478.1 -0.8 450.1 2.7Z" fill="#2472b5" />
<path d="M453.2 2.7 C426.1 6.1 452.3 8.7 453.2 15.5 C454.2 22.3 454.5 21.5 456.9 28.3 C459.4 35.2 459.2 34.8 462.4 41.2 C465.6 47.5 465.6 46.5 468.8 52.2 C472 57.8 471.4 56.9 474.3 62.2 C477.3 67.6 476.4 67.2 479.8 72.3 C483.2 77.4 482.8 77.1 487.1 81.5 C491.5 85.9 490.9 84.9 496.3 88.8 C501.7 92.7 501 92.2 507.3 96.1 C513.7 100.1 513.3 100.1 520.1 103.5 C527 106.9 526.6 106.7 533 109 C539.3 111.3 538.1 111.1 544 112.1 C549.8 113.1 552 141.8 555 112.6 C557.9 83.5 582.1 32 555 2.7 C527.8 -26.7 480.4 -0.8 453.2 2.7Z" fill="#2f7dbb" />
<path d="M456.9 6.3 C451.8 8.8 456.2 9.6 456.9 15.5 C457.6 21.4 457.5 21 459.7 28.3 C461.9 35.7 462 35.7 465.2 43 C468.3 50.3 468.1 49.5 471.6 55.8 C475 62.2 474.3 61.2 478 66.8 C481.7 72.4 480.9 72 485.3 76.9 C489.7 81.8 489.1 81 494.5 85.1 C499.9 89.3 499.1 88.8 505.5 92.5 C511.8 96.1 511 95.9 518.3 98.9 C525.6 101.9 523.2 101.9 533 103.8 C542.7 105.8 549.1 111.7 555 106.2 C560.8 100.8 560.8 90.4 555 83.3 C549.1 76.2 540.8 82.6 533 79.6 C525.2 76.7 529.5 76.2 525.6 72.3 C521.7 68.4 522.2 68.4 518.3 65 C514.4 61.6 514.9 62.4 511 59.5 C507.1 56.6 507.6 57.4 503.6 54 C499.7 50.6 500.2 51.1 496.3 46.7 C492.4 42.3 492.9 42.9 489 37.5 C485.1 32.1 485.1 32.4 481.7 26.5 C478.2 20.6 477.6 20.9 476.2 15.5 C474.7 10.1 481.3 8.8 476.2 6.3 C471 3.9 462 3.9 456.9 6.3Z" fill="#4d98ca" />
<path d="M459.7 6.3 C456 8.8 458.9 9.6 459.7 15.5 C460.4 21.4 460.2 21 462.4 28.3 C464.6 35.7 464.7 35.7 467.9 43 C471.1 50.3 470.7 49 474.3 55.8 C478 62.7 477.7 62.8 481.7 68.7 C485.6 74.5 484.6 73.4 489 77.8 C493.4 82.2 492.8 81.6 498.1 85.1 C503.5 88.7 503.3 88.2 509.1 91 C515 93.8 514.8 94.3 520.1 95.8 C525.5 97.2 525.8 97.8 529.3 96.5 C532.8 95.2 533.8 94.5 533.3 91 C532.8 87.5 531 86.8 527.5 83.3 C524 79.8 523.6 80.7 520.1 77.8 C516.7 74.9 518.1 76.2 514.6 72.3 C511.2 68.4 511.2 68 507.3 63.2 C503.4 58.3 503.9 58.9 500 54 C496.1 49.1 496.6 50.2 492.6 44.8 C488.7 39.4 489.2 39.7 485.3 33.8 C481.4 28 481.2 27.7 478 22.8 C474.8 17.9 474.6 19.9 473.4 15.5 C472.2 11.1 477.1 8.8 473.4 6.3 C469.7 3.9 463.3 3.9 459.7 6.3Z" fill="#6baed6" />
<path d="M462.4 6.3 C460.2 8.8 461.8 9.6 462.4 15.5 C463 21.4 462.8 21 464.8 28.3 C466.7 35.7 466.7 35.7 469.7 43 C472.8 50.3 472.5 49.5 476.2 55.8 C479.8 62.2 479.3 61.4 483.5 66.8 C487.6 72.2 486.8 71.6 491.7 76 C496.6 80.4 496.2 80 501.8 83.3 C507.4 86.6 507.4 86 512.8 88.3 C518.2 90.6 517.7 91.2 522 91.9 C526.3 92.7 527.4 92.6 528.9 91 C530.5 89.4 530.2 88.6 527.8 86.1 C525.5 83.5 523.7 83.7 520.1 81.5 C516.6 79.3 517.6 80.7 514.6 77.8 C511.7 74.9 512.6 74.9 509.1 70.5 C505.7 66.1 505.7 66.2 501.8 61.3 C497.9 56.4 498.4 57.5 494.5 52.2 C490.6 46.8 491.1 47 487.1 41.2 C483.2 35.3 483.2 35.5 479.8 30.2 C476.4 24.8 476.8 24.9 474.3 21 C471.9 17.1 471.6 19.4 470.7 15.5 C469.7 11.6 472.9 8.8 470.7 6.3 C468.5 3.9 464.6 3.9 462.4 6.3Z" fill="#9ecae1" />
<path d="M464.8 21 C464.5 24.4 464.9 27 467 33.8 C469 40.7 469.1 39.8 472.5 46.7 C475.9 53.5 475.9 53.6 479.8 59.5 C483.7 65.4 482.8 63.8 487.1 68.7 C491.5 73.5 491.4 73.9 496.3 77.8 C501.2 81.7 501.1 81.3 505.5 83.3 C509.9 85.4 510.5 85.7 512.8 85.5 C515.1 85.3 515.1 84.9 514.1 82.6 C513.1 80.3 512.4 80.6 509.1 76.9 C505.9 73.2 505.7 73.3 501.8 68.7 C497.9 64 498.4 64.4 494.5 59.5 C490.6 54.6 491.1 55.7 487.1 50.3 C483.2 44.9 483.7 45.2 479.8 39.3 C475.9 33.5 475.7 33.2 472.5 28.3 C469.3 23.4 470 23 467.9 21 C465.9 19 465 17.6 464.8 21Z" fill="#c6dbef" />
<path d="M466.4 26.5 C466.5 29.9 466.7 31.6 468.8 37.5 C470.9 43.4 470.9 42.4 474.3 48.5 C477.7 54.6 477.7 54.9 481.7 60.4 C485.6 65.9 484.6 64.5 489 69 C493.4 73.6 493.5 73.9 498.1 77.4 C502.8 81 502.7 80.7 506.4 82.4 C510.1 84.1 510.3 84 511.9 83.9 C513.5 83.7 513.7 83.9 512.4 81.8 C511.2 79.8 510.6 80.1 507.3 76.3 C504 72.6 503.9 72.5 500 67.7 C496.1 63 496.6 63.7 492.6 58.6 C488.7 53.4 489.2 54.1 485.3 48.5 C481.4 42.9 481.7 42.9 478 37.5 C474.3 32.1 474.1 31.7 471.6 28.3 C469 24.9 469.8 25.2 468.5 24.7 C467.1 24.2 466.3 23.1 466.4 26.5Z" fill="#d6e4f3" />
<ellipse cx="524.91" cy="89.18" rx="4.2" ry="4.6" fill="#9ecae1" stroke="none" stroke-width="1" />
<ellipse cx="524.91" cy="89.18" rx="2.2" ry="2.6" fill="#c6dbef" stroke="none" stroke-width="1" />
<ellipse cx="544.33" cy="92.48" rx="5.5" ry="8.5" fill="#9ecae1" stroke="none" stroke-width="1" />
<ellipse cx="544.7" cy="92.48" rx="3" ry="5.5" fill="#c6dbef" stroke="none" stroke-width="1" />
<path d="M479.8 2.7 C462.3 5.7 478.5 10.4 479.8 15.5 C481.1 20.6 482.3 20 485.3 24.7 C488.3 29.4 489.2 31 492.6 35.7 C496.1 40.4 496.6 41 500 44.8 C503.4 48.7 503.9 49.2 507.3 52.2 C510.7 55.1 511.6 55.6 514.6 57.7 C517.6 59.7 518.2 59.8 520.1 61 C522.1 62.1 521.6 62.8 522.9 62.4 C524.2 62.1 524.4 60.8 525.6 59.5 C526.8 58.2 526.8 56.8 528 56.7 C529.2 56.7 529.4 58.1 530.8 59.1 C532.1 60.2 531.7 60.5 533.9 61.3 C536.1 62.2 538.4 63.9 540.3 62.8 C542.2 61.7 541.3 58.8 542.1 56.7 C543 54.7 541 54.6 544 54 C547 53.3 552.4 66 555 54 C557.5 42 572.5 14.6 555 2.7 C537.4 -9.3 497.4 -0.3 479.8 2.7Z" fill="#2472b5" />
<path d="M481.3 52.5 C482.6 54.5 483 55.6 486.2 59.9 C489.5 64.2 489.4 64.3 493.6 68.7 C497.7 73 497.2 72.7 501.8 76 C506.5 79.3 508.5 79.7 511 81.1" fill="none" stroke="#f9c4aa" stroke-width="2.2" stroke-linejoin="round" stroke-linecap="round" />
<path d="M486.2 59.9 C488.2 62.2 489.4 64.3 493.6 68.7 C497.7 73 497.2 72.7 501.8 76 C506.5 79.3 508.5 79.7 511 81.1" fill="none" stroke="#f47a50" stroke-width="1.3" stroke-linejoin="round" stroke-linecap="round" />
<path d="M493.6 68.7 C495.8 70.6 497.2 72.7 501.8 76 C506.5 79.3 508.5 79.7 511 81.1" fill="none" stroke="#e23822" stroke-width="1.3" stroke-linejoin="round" stroke-linecap="round" />
<path d="M453.2 15.5 C454.2 18.9 454.5 21.5 456.9 28.3 C459.4 35.2 459.2 34.8 462.4 41.2 C465.6 47.5 465.6 46.5 468.8 52.2 C472 57.8 471.4 56.9 474.3 62.2 C477.3 67.6 476.4 67.2 479.8 72.3 C483.2 77.4 482.8 77.1 487.1 81.5 C491.5 85.9 490.9 84.9 496.3 88.8 C501.7 92.7 501 92.2 507.3 96.1 C513.7 100.1 513.3 100.1 520.1 103.5 C527 106.9 526.6 106.7 533 109 C539.3 111.3 541 111.3 544 112.1" fill="none" stroke="#0a0a14" stroke-width="0.9" stroke-linejoin="round" stroke-linecap="round" />
<path d="M479.8 15.5 C480.9 17.3 482.8 20.6 485.3 24.7 C487.9 28.7 489.7 31.6 492.6 35.7 C495.6 39.7 497 41.5 500 44.8 C502.9 48.1 504.4 49.6 507.3 52.2 C510.2 54.7 512.1 55.9 514.6 57.7 C517.2 59.4 518.5 60 520.1 61 C521.8 61.9 521.8 62.7 522.9 62.4 C524 62.1 524.6 60.6 525.6 59.5 C526.7 58.4 527 56.8 528 56.7 C529 56.7 529.6 58.2 530.8 59.1 C531.9 60 532 60.6 533.9 61.3 C535.8 62.1 538.7 63.7 540.3 62.8 C542 61.9 541.4 58.5 542.1 56.7 C542.9 55 543.6 54.5 544 54" fill="none" stroke="#0a0a14" stroke-width="0.9" stroke-linejoin="round" stroke-linecap="round" />
</g>
<line x1="474.69" y1="62.24" x2="542.13" y2="62.24" stroke="#0a0a14" stroke-width="0.9" />
<polygon points="473.59,62.24 476.34,60.84 476.34,63.64" fill="#0a0a14" />
<polygon points="543.05,62.24 540.3,60.84 540.3,63.64" fill="#0a0a14" />
<text transform="translate(473.4 56.74) scale(0.87 1)" font-size="9.4" font-weight="bold" fill="#f2f6fb" stroke="#f2f6fb" stroke-width="0.3" text-anchor="start">EAB<tspan font-size="5.6" dy="1.96">Max</tspan><tspan dy="-1.96">&#8203;</tspan>= 9.71GHz</text>
<text transform="translate(430.33 124) scale(0.87 1)" font-size="9.4" font-weight="bold" fill="#f2f6fb" stroke="#f2f6fb" stroke-width="0.3" text-anchor="start">RL<tspan font-size="5.6" dy="1.96">Min</tspan><tspan dy="-1.96">&#8203;</tspan>= -59.83dB</text>
<rect x="427.8" y="15.5" width="115.6" height="115.5" fill="none" stroke="#111" stroke-width="0.9" />
<line x1="427.8" y1="131" x2="427.8" y2="133.2" stroke="#111" stroke-width="0.8" />
<text transform="translate(427.8 141.9) scale(0.86 1)" font-size="8.6" font-weight="bold" fill="#111" stroke="#111" stroke-width="0.3" text-anchor="middle">2</text>
<line x1="442.25" y1="131" x2="442.25" y2="133.2" stroke="#111" stroke-width="0.8" />
<text transform="translate(442.25 141.9) scale(0.86 1)" font-size="8.6" font-weight="bold" fill="#111" stroke="#111" stroke-width="0.3" text-anchor="middle">4</text>
<line x1="456.7" y1="131" x2="456.7" y2="133.2" stroke="#111" stroke-width="0.8" />
<text transform="translate(456.7 141.9) scale(0.86 1)" font-size="8.6" font-weight="bold" fill="#111" stroke="#111" stroke-width="0.3" text-anchor="middle">6</text>
<line x1="471.15" y1="131" x2="471.15" y2="133.2" stroke="#111" stroke-width="0.8" />
<text transform="translate(471.15 141.9) scale(0.86 1)" font-size="8.6" font-weight="bold" fill="#111" stroke="#111" stroke-width="0.3" text-anchor="middle">8</text>
<line x1="485.6" y1="131" x2="485.6" y2="133.2" stroke="#111" stroke-width="0.8" />
<text transform="translate(485.6 141.9) scale(0.86 1)" font-size="8.6" font-weight="bold" fill="#111" stroke="#111" stroke-width="0.3" text-anchor="middle">10</text>
<line x1="500.05" y1="131" x2="500.05" y2="133.2" stroke="#111" stroke-width="0.8" />
<text transform="translate(500.05 141.9) scale(0.86 1)" font-size="8.6" font-weight="bold" fill="#111" stroke="#111" stroke-width="0.3" text-anchor="middle">12</text>
<line x1="514.5" y1="131" x2="514.5" y2="133.2" stroke="#111" stroke-width="0.8" />
<text transform="translate(514.5 141.9) scale(0.86 1)" font-size="8.6" font-weight="bold" fill="#111" stroke="#111" stroke-width="0.3" text-anchor="middle">14</text>
<line x1="528.95" y1="131" x2="528.95" y2="133.2" stroke="#111" stroke-width="0.8" />
<text transform="translate(528.95 141.9) scale(0.86 1)" font-size="8.6" font-weight="bold" fill="#111" stroke="#111" stroke-width="0.3" text-anchor="middle">16</text>
<line x1="543.4" y1="131" x2="543.4" y2="133.2" stroke="#111" stroke-width="0.8" />
<text transform="translate(543.4 141.9) scale(0.86 1)" font-size="8.6" font-weight="bold" fill="#111" stroke="#111" stroke-width="0.3" text-anchor="middle">18</text>
<line x1="435.03" y1="131" x2="435.03" y2="132.3" stroke="#111" stroke-width="0.6" />
<line x1="449.48" y1="131" x2="449.48" y2="132.3" stroke="#111" stroke-width="0.6" />
<line x1="463.93" y1="131" x2="463.93" y2="132.3" stroke="#111" stroke-width="0.6" />
<line x1="478.38" y1="131" x2="478.38" y2="132.3" stroke="#111" stroke-width="0.6" />
<line x1="492.82" y1="131" x2="492.82" y2="132.3" stroke="#111" stroke-width="0.6" />
<line x1="507.27" y1="131" x2="507.27" y2="132.3" stroke="#111" stroke-width="0.6" />
<line x1="521.73" y1="131" x2="521.73" y2="132.3" stroke="#111" stroke-width="0.6" />
<line x1="536.17" y1="131" x2="536.17" y2="132.3" stroke="#111" stroke-width="0.6" />
<line x1="425.6" y1="131" x2="427.8" y2="131" stroke="#111" stroke-width="0.8" />
<text transform="translate(424.2 134) scale(0.86 1)" font-size="8.6" font-weight="bold" fill="#111" stroke="#111" stroke-width="0.3" text-anchor="end">1</text>
<line x1="425.6" y1="102.12" x2="427.8" y2="102.12" stroke="#111" stroke-width="0.8" />
<text transform="translate(424.2 105.12) scale(0.86 1)" font-size="8.6" font-weight="bold" fill="#111" stroke="#111" stroke-width="0.3" text-anchor="end">2</text>
<line x1="425.6" y1="73.25" x2="427.8" y2="73.25" stroke="#111" stroke-width="0.8" />
<text transform="translate(424.2 76.25) scale(0.86 1)" font-size="8.6" font-weight="bold" fill="#111" stroke="#111" stroke-width="0.3" text-anchor="end">3</text>
<line x1="425.6" y1="44.38" x2="427.8" y2="44.38" stroke="#111" stroke-width="0.8" />
<text transform="translate(424.2 47.38) scale(0.86 1)" font-size="8.6" font-weight="bold" fill="#111" stroke="#111" stroke-width="0.3" text-anchor="end">4</text>
<line x1="425.6" y1="15.5" x2="427.8" y2="15.5" stroke="#111" stroke-width="0.8" />
<text transform="translate(424.2 18.5) scale(0.86 1)" font-size="8.6" font-weight="bold" fill="#111" stroke="#111" stroke-width="0.3" text-anchor="end">5</text>
<text transform="translate(485.8 152) scale(0.87 1)" font-size="9.3" font-weight="bold" fill="#222" stroke="#222" stroke-width="0.3" text-anchor="middle">Frequency(GHz)</text>
<text transform="translate(416 72.45) scale(0.84 1) rotate(-90)" font-size="8.3" font-weight="bold" fill="#222" stroke="#222" stroke-width="0.3" text-anchor="middle">Thickness(mm)</text>
<text transform="translate(488.8 10.7) scale(0.86 1)" font-size="8.8" font-weight="bold" fill="#222" stroke="#222" stroke-width="0.3" text-anchor="middle">PNIPAM gel 3</text>
<text x="400.4" y="18.5" font-size="24" font-weight="bold" fill="#000" text-anchor="start"  stroke="#000" stroke-width="0.22">c</text>
<rect x="561.2" y="15.5" width="11.2" height="5.41" fill="#08306b" stroke="none" stroke-width="1" />
<rect x="561.2" y="20.31" width="11.2" height="5.41" fill="#08458a" stroke="none" stroke-width="1" />
<rect x="561.2" y="25.12" width="11.2" height="5.41" fill="#0f5aa3" stroke="none" stroke-width="1" />
<rect x="561.2" y="29.94" width="11.2" height="5.41" fill="#1f6eb3" stroke="none" stroke-width="1" />
<rect x="561.2" y="34.75" width="11.2" height="5.41" fill="#3383be" stroke="none" stroke-width="1" />
<rect x="561.2" y="39.56" width="11.2" height="5.41" fill="#4997c9" stroke="none" stroke-width="1" />
<rect x="561.2" y="44.38" width="11.2" height="5.41" fill="#64a9d3" stroke="none" stroke-width="1" />
<rect x="561.2" y="49.19" width="11.2" height="5.41" fill="#82bbdb" stroke="none" stroke-width="1" />
<rect x="561.2" y="54" width="11.2" height="5.41" fill="#a2cce2" stroke="none" stroke-width="1" />
<rect x="561.2" y="58.81" width="11.2" height="5.41" fill="#bbd6eb" stroke="none" stroke-width="1" />
<rect x="561.2" y="63.62" width="11.2" height="5.41" fill="#cfe1f2" stroke="none" stroke-width="1" />
<rect x="561.2" y="68.44" width="11.2" height="5.41" fill="#deebf7" stroke="none" stroke-width="1" />
<rect x="561.2" y="73.25" width="11.2" height="5.41" fill="#fee0d2" stroke="none" stroke-width="1" />
<rect x="561.2" y="78.06" width="11.2" height="5.41" fill="#fdc8b3" stroke="none" stroke-width="1" />
<rect x="561.2" y="82.88" width="11.2" height="5.41" fill="#fcb094" stroke="none" stroke-width="1" />
<rect x="561.2" y="87.69" width="11.2" height="5.41" fill="#fc9676" stroke="none" stroke-width="1" />
<rect x="561.2" y="92.5" width="11.2" height="5.41" fill="#fb7c5c" stroke="none" stroke-width="1" />
<rect x="561.2" y="97.31" width="11.2" height="5.41" fill="#f96145" stroke="none" stroke-width="1" />
<rect x="561.2" y="102.12" width="11.2" height="5.41" fill="#f14431" stroke="none" stroke-width="1" />
<rect x="561.2" y="106.94" width="11.2" height="5.41" fill="#df2b25" stroke="none" stroke-width="1" />
<rect x="561.2" y="111.75" width="11.2" height="5.41" fill="#c8171c" stroke="none" stroke-width="1" />
<rect x="561.2" y="116.56" width="11.2" height="5.41" fill="#af1117" stroke="none" stroke-width="1" />
<rect x="561.2" y="121.38" width="11.2" height="5.41" fill="#8e0a12" stroke="none" stroke-width="1" />
<rect x="561.2" y="126.19" width="11.2" height="4.81" fill="#67000d" stroke="none" stroke-width="1" />
<line x1="572.4" y1="15.5" x2="575" y2="15.5" stroke="#111" stroke-width="0.7" />
<text transform="translate(577.6 17.9) scale(0.88 1)" font-size="6.8" font-weight="bold" fill="#111" stroke="#111" stroke-width="0.3" text-anchor="start">0</text>
<line x1="572.4" y1="25.12" x2="575" y2="25.12" stroke="#111" stroke-width="0.7" />
<text transform="translate(577.6 27.52) scale(0.88 1)" font-size="6.8" font-weight="bold" fill="#111" stroke="#111" stroke-width="0.3" text-anchor="start">−5.00</text>
<line x1="572.4" y1="34.75" x2="575" y2="34.75" stroke="#111" stroke-width="0.7" />
<text transform="translate(577.6 37.15) scale(0.88 1)" font-size="6.8" font-weight="bold" fill="#111" stroke="#111" stroke-width="0.3" text-anchor="start">−10.0</text>
<line x1="572.4" y1="44.38" x2="575" y2="44.38" stroke="#111" stroke-width="0.7" />
<text transform="translate(577.6 46.77) scale(0.88 1)" font-size="6.8" font-weight="bold" fill="#111" stroke="#111" stroke-width="0.3" text-anchor="start">−15.0</text>
<line x1="572.4" y1="54" x2="575" y2="54" stroke="#111" stroke-width="0.7" />
<text transform="translate(577.6 56.4) scale(0.88 1)" font-size="6.8" font-weight="bold" fill="#111" stroke="#111" stroke-width="0.3" text-anchor="start">−20.0</text>
<line x1="572.4" y1="63.62" x2="575" y2="63.62" stroke="#111" stroke-width="0.7" />
<text transform="translate(577.6 66.03) scale(0.88 1)" font-size="6.8" font-weight="bold" fill="#111" stroke="#111" stroke-width="0.3" text-anchor="start">−25.0</text>
<line x1="572.4" y1="73.25" x2="575" y2="73.25" stroke="#111" stroke-width="0.7" />
<text transform="translate(577.6 75.65) scale(0.88 1)" font-size="6.8" font-weight="bold" fill="#111" stroke="#111" stroke-width="0.3" text-anchor="start">−30.0</text>
<line x1="572.4" y1="82.88" x2="575" y2="82.88" stroke="#111" stroke-width="0.7" />
<text transform="translate(577.6 85.28) scale(0.88 1)" font-size="6.8" font-weight="bold" fill="#111" stroke="#111" stroke-width="0.3" text-anchor="start">−35.0</text>
<line x1="572.4" y1="92.5" x2="575" y2="92.5" stroke="#111" stroke-width="0.7" />
<text transform="translate(577.6 94.9) scale(0.88 1)" font-size="6.8" font-weight="bold" fill="#111" stroke="#111" stroke-width="0.3" text-anchor="start">−40.0</text>
<line x1="572.4" y1="102.12" x2="575" y2="102.12" stroke="#111" stroke-width="0.7" />
<text transform="translate(577.6 104.53) scale(0.88 1)" font-size="6.8" font-weight="bold" fill="#111" stroke="#111" stroke-width="0.3" text-anchor="start">−45.0</text>
<line x1="572.4" y1="111.75" x2="575" y2="111.75" stroke="#111" stroke-width="0.7" />
<text transform="translate(577.6 114.15) scale(0.88 1)" font-size="6.8" font-weight="bold" fill="#111" stroke="#111" stroke-width="0.3" text-anchor="start">−50.0</text>
<line x1="572.4" y1="121.38" x2="575" y2="121.38" stroke="#111" stroke-width="0.7" />
<text transform="translate(577.6 123.78) scale(0.88 1)" font-size="6.8" font-weight="bold" fill="#111" stroke="#111" stroke-width="0.3" text-anchor="start">−55.0</text>
<line x1="572.4" y1="131" x2="575" y2="131" stroke="#111" stroke-width="0.7" />
<text transform="translate(577.6 133.4) scale(0.88 1)" font-size="6.8" font-weight="bold" fill="#111" stroke="#111" stroke-width="0.3" text-anchor="start">−60.0</text>
<text transform="translate(574.3 11.7) scale(0.9 1)" font-size="8" font-weight="bold" fill="#222" stroke="#222" stroke-width="0.3" text-anchor="middle">RL(dB)</text>
</g>
<g>
<clipPath id="cd"><rect x="628.9" y="15.5" width="115.7" height="115.5"/></clipPath>
<g clip-path="url(#cd)">
<rect x="628.9" y="15.5" width="115.7" height="115.5" fill="#0a2e66" stroke="none" stroke-width="1" />
<path d="M644.6 2.7 C622.6 5.2 644.4 10.4 644.6 15.5 C644.9 20.6 645.1 23 645.9 28.3 C646.7 33.6 647.4 41 648.7 42.1 C649.9 43.2 651.2 36.6 652.3 33.8 C653.5 31.1 653.6 28.7 654.5 28.3 C655.4 28 656.1 28.3 656.9 32 C657.8 35.7 657.8 40.1 658.7 46.7 C659.7 53.3 660.2 58.8 661.5 65 C662.8 71.2 663.7 76 665.2 77.8 C666.6 79.6 667.5 75.2 668.8 74.1 C670.1 73 670.3 71.4 671.6 72.3 C672.9 73.2 673.2 76.3 675.2 78.7 C677.3 81.1 678.9 81.8 681.7 84.2 C684.4 86.6 686 88.3 689 90.6 C691.9 93 693 93.9 696.3 96.1 C699.6 98.3 701.4 99.6 705.5 101.6 C709.5 103.7 712.8 104.4 716.5 106.2 C720.1 108.1 721.2 109.2 723.8 110.8 C726.4 112.5 726.7 113.7 729.3 114.5 C731.9 115.2 733.6 113.7 736.6 114.5 C739.6 115.2 740.7 117 744.3 118.1 C748 119.2 752.8 143.1 755 120 C757.1 96.9 777 26.1 755 2.7 C732.9 -20.8 666.7 0.1 644.6 2.7Z" fill="#0b519c" />
<path d="M660.6 4.5 C655.7 7.1 660.1 9.1 660.6 15.5 C661 21.9 661.3 25.2 662.4 32 C663.5 38.8 663.2 41.4 665.2 44.8 C667.1 48.2 668.1 44.5 670.7 46.7 C673.2 48.8 673.2 50.1 676.2 54 C679.1 57.8 679.6 59.3 683.5 63.2 C687.3 67 688.4 67.5 692.6 70.5 C696.9 73.5 698 73.6 701.8 76 C705.7 78.3 706.2 79.5 709.1 80.6 C712.1 81.6 712.9 82.5 714.6 80.6 C716.4 78.6 717.3 76 716.5 72.3 C715.6 68.7 714 68.4 711 65 C708 61.6 707.1 61.9 703.6 57.7 C700.2 53.4 699.3 51.8 696.3 46.7 C693.3 41.5 693.4 40.8 690.8 35.7 C688.2 30.5 687.5 29.4 685.3 24.7 C683.1 20 682.2 20.2 681.3 15.5 C680.3 10.8 686.1 7.1 681.3 4.5 C676.5 1.9 665.4 1.9 660.6 4.5Z" fill="#1d6ab0" />
<ellipse cx="736.64" cy="90.1" rx="2.2" ry="5.2" fill="#1d6ab0" transform="rotate(-25 736.64 90.1)"/>
</g>
<rect x="628.9" y="15.5" width="115.7" height="115.5" fill="none" stroke="#111" stroke-width="0.9" />
<line x1="628.9" y1="131" x2="628.9" y2="133.2" stroke="#111" stroke-width="0.8" />
<text transform="translate(628.9 141.9) scale(0.86 1)" font-size="8.6" font-weight="bold" fill="#111" stroke="#111" stroke-width="0.3" text-anchor="middle">2</text>
<line x1="643.36" y1="131" x2="643.36" y2="133.2" stroke="#111" stroke-width="0.8" />
<text transform="translate(643.36 141.9) scale(0.86 1)" font-size="8.6" font-weight="bold" fill="#111" stroke="#111" stroke-width="0.3" text-anchor="middle">4</text>
<line x1="657.83" y1="131" x2="657.83" y2="133.2" stroke="#111" stroke-width="0.8" />
<text transform="translate(657.83 141.9) scale(0.86 1)" font-size="8.6" font-weight="bold" fill="#111" stroke="#111" stroke-width="0.3" text-anchor="middle">6</text>
<line x1="672.29" y1="131" x2="672.29" y2="133.2" stroke="#111" stroke-width="0.8" />
<text transform="translate(672.29 141.9) scale(0.86 1)" font-size="8.6" font-weight="bold" fill="#111" stroke="#111" stroke-width="0.3" text-anchor="middle">8</text>
<line x1="686.75" y1="131" x2="686.75" y2="133.2" stroke="#111" stroke-width="0.8" />
<text transform="translate(686.75 141.9) scale(0.86 1)" font-size="8.6" font-weight="bold" fill="#111" stroke="#111" stroke-width="0.3" text-anchor="middle">10</text>
<line x1="701.21" y1="131" x2="701.21" y2="133.2" stroke="#111" stroke-width="0.8" />
<text transform="translate(701.21 141.9) scale(0.86 1)" font-size="8.6" font-weight="bold" fill="#111" stroke="#111" stroke-width="0.3" text-anchor="middle">12</text>
<line x1="715.67" y1="131" x2="715.67" y2="133.2" stroke="#111" stroke-width="0.8" />
<text transform="translate(715.67 141.9) scale(0.86 1)" font-size="8.6" font-weight="bold" fill="#111" stroke="#111" stroke-width="0.3" text-anchor="middle">14</text>
<line x1="730.14" y1="131" x2="730.14" y2="133.2" stroke="#111" stroke-width="0.8" />
<text transform="translate(730.14 141.9) scale(0.86 1)" font-size="8.6" font-weight="bold" fill="#111" stroke="#111" stroke-width="0.3" text-anchor="middle">16</text>
<line x1="744.6" y1="131" x2="744.6" y2="133.2" stroke="#111" stroke-width="0.8" />
<text transform="translate(744.6 141.9) scale(0.86 1)" font-size="8.6" font-weight="bold" fill="#111" stroke="#111" stroke-width="0.3" text-anchor="middle">18</text>
<line x1="636.13" y1="131" x2="636.13" y2="132.3" stroke="#111" stroke-width="0.6" />
<line x1="650.59" y1="131" x2="650.59" y2="132.3" stroke="#111" stroke-width="0.6" />
<line x1="665.06" y1="131" x2="665.06" y2="132.3" stroke="#111" stroke-width="0.6" />
<line x1="679.52" y1="131" x2="679.52" y2="132.3" stroke="#111" stroke-width="0.6" />
<line x1="693.98" y1="131" x2="693.98" y2="132.3" stroke="#111" stroke-width="0.6" />
<line x1="708.44" y1="131" x2="708.44" y2="132.3" stroke="#111" stroke-width="0.6" />
<line x1="722.91" y1="131" x2="722.91" y2="132.3" stroke="#111" stroke-width="0.6" />
<line x1="737.37" y1="131" x2="737.37" y2="132.3" stroke="#111" stroke-width="0.6" />
<line x1="626.7" y1="131" x2="628.9" y2="131" stroke="#111" stroke-width="0.8" />
<text transform="translate(625.3 134) scale(0.86 1)" font-size="8.6" font-weight="bold" fill="#111" stroke="#111" stroke-width="0.3" text-anchor="end">1</text>
<line x1="626.7" y1="102.12" x2="628.9" y2="102.12" stroke="#111" stroke-width="0.8" />
<text transform="translate(625.3 105.12) scale(0.86 1)" font-size="8.6" font-weight="bold" fill="#111" stroke="#111" stroke-width="0.3" text-anchor="end">2</text>
<line x1="626.7" y1="73.25" x2="628.9" y2="73.25" stroke="#111" stroke-width="0.8" />
<text transform="translate(625.3 76.25) scale(0.86 1)" font-size="8.6" font-weight="bold" fill="#111" stroke="#111" stroke-width="0.3" text-anchor="end">3</text>
<line x1="626.7" y1="44.38" x2="628.9" y2="44.38" stroke="#111" stroke-width="0.8" />
<text transform="translate(625.3 47.38) scale(0.86 1)" font-size="8.6" font-weight="bold" fill="#111" stroke="#111" stroke-width="0.3" text-anchor="end">4</text>
<line x1="626.7" y1="15.5" x2="628.9" y2="15.5" stroke="#111" stroke-width="0.8" />
<text transform="translate(625.3 18.5) scale(0.86 1)" font-size="8.6" font-weight="bold" fill="#111" stroke="#111" stroke-width="0.3" text-anchor="end">5</text>
<text transform="translate(686.95 152) scale(0.87 1)" font-size="9.3" font-weight="bold" fill="#222" stroke="#222" stroke-width="0.3" text-anchor="middle">Frequency(GHz)</text>
<text transform="translate(617.1 72.45) scale(0.84 1) rotate(-90)" font-size="8.3" font-weight="bold" fill="#222" stroke="#222" stroke-width="0.3" text-anchor="middle">Thickness(mm)</text>
<text transform="translate(689.95 10.7) scale(0.86 1)" font-size="8.8" font-weight="bold" fill="#222" stroke="#222" stroke-width="0.3" text-anchor="middle">PNIPAM gel 2M</text>
<text x="597.3" y="20.7" font-size="24" font-weight="bold" fill="#000" text-anchor="start"  stroke="#000" stroke-width="0.22">d</text>
<rect x="761.2" y="15.5" width="11.2" height="5.41" fill="#08306b" stroke="none" stroke-width="1" />
<rect x="761.2" y="20.31" width="11.2" height="5.41" fill="#08458a" stroke="none" stroke-width="1" />
<rect x="761.2" y="25.12" width="11.2" height="5.41" fill="#0f5aa3" stroke="none" stroke-width="1" />
<rect x="761.2" y="29.94" width="11.2" height="5.41" fill="#1f6eb3" stroke="none" stroke-width="1" />
<rect x="761.2" y="34.75" width="11.2" height="5.41" fill="#3383be" stroke="none" stroke-width="1" />
<rect x="761.2" y="39.56" width="11.2" height="5.41" fill="#4997c9" stroke="none" stroke-width="1" />
<rect x="761.2" y="44.38" width="11.2" height="5.41" fill="#64a9d3" stroke="none" stroke-width="1" />
<rect x="761.2" y="49.19" width="11.2" height="5.41" fill="#82bbdb" stroke="none" stroke-width="1" />
<rect x="761.2" y="54" width="11.2" height="5.41" fill="#a2cce2" stroke="none" stroke-width="1" />
<rect x="761.2" y="58.81" width="11.2" height="5.41" fill="#bbd6eb" stroke="none" stroke-width="1" />
<rect x="761.2" y="63.62" width="11.2" height="5.41" fill="#cfe1f2" stroke="none" stroke-width="1" />
<rect x="761.2" y="68.44" width="11.2" height="5.41" fill="#deebf7" stroke="none" stroke-width="1" />
<rect x="761.2" y="73.25" width="11.2" height="5.41" fill="#fee0d2" stroke="none" stroke-width="1" />
<rect x="761.2" y="78.06" width="11.2" height="5.41" fill="#fdc8b3" stroke="none" stroke-width="1" />
<rect x="761.2" y="82.88" width="11.2" height="5.41" fill="#fcb094" stroke="none" stroke-width="1" />
<rect x="761.2" y="87.69" width="11.2" height="5.41" fill="#fc9676" stroke="none" stroke-width="1" />
<rect x="761.2" y="92.5" width="11.2" height="5.41" fill="#fb7c5c" stroke="none" stroke-width="1" />
<rect x="761.2" y="97.31" width="11.2" height="5.41" fill="#f96145" stroke="none" stroke-width="1" />
<rect x="761.2" y="102.12" width="11.2" height="5.41" fill="#f14431" stroke="none" stroke-width="1" />
<rect x="761.2" y="106.94" width="11.2" height="5.41" fill="#df2b25" stroke="none" stroke-width="1" />
<rect x="761.2" y="111.75" width="11.2" height="5.41" fill="#c8171c" stroke="none" stroke-width="1" />
<rect x="761.2" y="116.56" width="11.2" height="5.41" fill="#af1117" stroke="none" stroke-width="1" />
<rect x="761.2" y="121.38" width="11.2" height="5.41" fill="#8e0a12" stroke="none" stroke-width="1" />
<rect x="761.2" y="126.19" width="11.2" height="4.81" fill="#67000d" stroke="none" stroke-width="1" />
<line x1="772.4" y1="15.5" x2="775" y2="15.5" stroke="#111" stroke-width="0.7" />
<text transform="translate(777.6 17.9) scale(0.88 1)" font-size="6.8" font-weight="bold" fill="#111" stroke="#111" stroke-width="0.3" text-anchor="start">0</text>
<line x1="772.4" y1="25.12" x2="775" y2="25.12" stroke="#111" stroke-width="0.7" />
<text transform="translate(777.6 27.52) scale(0.88 1)" font-size="6.8" font-weight="bold" fill="#111" stroke="#111" stroke-width="0.3" text-anchor="start">−5.00</text>
<line x1="772.4" y1="34.75" x2="775" y2="34.75" stroke="#111" stroke-width="0.7" />
<text transform="translate(777.6 37.15) scale(0.88 1)" font-size="6.8" font-weight="bold" fill="#111" stroke="#111" stroke-width="0.3" text-anchor="start">−10.0</text>
<line x1="772.4" y1="44.38" x2="775" y2="44.38" stroke="#111" stroke-width="0.7" />
<text transform="translate(777.6 46.77) scale(0.88 1)" font-size="6.8" font-weight="bold" fill="#111" stroke="#111" stroke-width="0.3" text-anchor="start">−15.0</text>
<line x1="772.4" y1="54" x2="775" y2="54" stroke="#111" stroke-width="0.7" />
<text transform="translate(777.6 56.4) scale(0.88 1)" font-size="6.8" font-weight="bold" fill="#111" stroke="#111" stroke-width="0.3" text-anchor="start">−20.0</text>
<line x1="772.4" y1="63.62" x2="775" y2="63.62" stroke="#111" stroke-width="0.7" />
<text transform="translate(777.6 66.03) scale(0.88 1)" font-size="6.8" font-weight="bold" fill="#111" stroke="#111" stroke-width="0.3" text-anchor="start">−25.0</text>
<line x1="772.4" y1="73.25" x2="775" y2="73.25" stroke="#111" stroke-width="0.7" />
<text transform="translate(777.6 75.65) scale(0.88 1)" font-size="6.8" font-weight="bold" fill="#111" stroke="#111" stroke-width="0.3" text-anchor="start">−30.0</text>
<line x1="772.4" y1="82.88" x2="775" y2="82.88" stroke="#111" stroke-width="0.7" />
<text transform="translate(777.6 85.28) scale(0.88 1)" font-size="6.8" font-weight="bold" fill="#111" stroke="#111" stroke-width="0.3" text-anchor="start">−35.0</text>
<line x1="772.4" y1="92.5" x2="775" y2="92.5" stroke="#111" stroke-width="0.7" />
<text transform="translate(777.6 94.9) scale(0.88 1)" font-size="6.8" font-weight="bold" fill="#111" stroke="#111" stroke-width="0.3" text-anchor="start">−40.0</text>
<line x1="772.4" y1="102.12" x2="775" y2="102.12" stroke="#111" stroke-width="0.7" />
<text transform="translate(777.6 104.53) scale(0.88 1)" font-size="6.8" font-weight="bold" fill="#111" stroke="#111" stroke-width="0.3" text-anchor="start">−45.0</text>
<line x1="772.4" y1="111.75" x2="775" y2="111.75" stroke="#111" stroke-width="0.7" />
<text transform="translate(777.6 114.15) scale(0.88 1)" font-size="6.8" font-weight="bold" fill="#111" stroke="#111" stroke-width="0.3" text-anchor="start">−50.0</text>
<line x1="772.4" y1="121.38" x2="775" y2="121.38" stroke="#111" stroke-width="0.7" />
<text transform="translate(777.6 123.78) scale(0.88 1)" font-size="6.8" font-weight="bold" fill="#111" stroke="#111" stroke-width="0.3" text-anchor="start">−55.0</text>
<line x1="772.4" y1="131" x2="775" y2="131" stroke="#111" stroke-width="0.7" />
<text transform="translate(777.6 133.4) scale(0.88 1)" font-size="6.8" font-weight="bold" fill="#111" stroke="#111" stroke-width="0.3" text-anchor="start">−60.0</text>
<text transform="translate(774.3 11.7) scale(0.9 1)" font-size="8" font-weight="bold" fill="#222" stroke="#222" stroke-width="0.3" text-anchor="middle">RL(dB)</text>
</g>
<g>
<clipPath id="ck"><rect x="427.8" y="329.6" width="115.8" height="115.2"/></clipPath>
<g clip-path="url(#ck)">
<rect x="427.8" y="329.6" width="115.8" height="115.2" fill="#6aaed6" stroke="none" stroke-width="1" />
<path d="M438.6 327.5 C442.6 322.4 451.8 320.2 456.9 327.5 C462 334.8 458.9 346.3 460.6 358.7 C462.3 371.1 461.9 371.2 464.2 380.7 C466.6 390.1 468.1 392.6 470.7 399 C473.2 405.4 477.2 406.2 475.2 408.1 C473.3 410.1 468.2 410.4 462.4 407.2 C456.6 404 455 402.7 450.5 394.4 C446 386.1 445.6 382 443.2 371.5 C440.7 361 440.9 359.8 439.9 349.5 C438.8 339.2 434.6 332.6 438.6 327.5Z" fill="#4a94c8" />
<path d="M462.4 327.5 C465.2 323.6 472.6 322.4 476.2 327.5 C479.7 332.6 477.2 337.1 477.6 349.5 C478 361.9 478.3 373 478 380.7 C477.6 388.3 477.8 383.3 476.2 382.5 C474.5 381.6 473.2 382.5 471 377 C468.9 371.4 468.6 366.4 467 358.7 C465.4 351 465.3 351.3 464.2 344 C463.2 336.7 459.6 331.3 462.4 327.5Z" fill="#5aa2d0" />
<path d="M483.5 327.5 C485.1 320.2 489.4 320.2 491.2 327.5 C493 334.8 490.6 342.8 491.2 358.7 C491.7 374.5 492.2 379.9 493.6 395.3 C495 410.7 496.8 413.2 497.2 424.6 C497.7 436.1 498.2 439.8 495.4 444.4 C492.6 449.1 487.9 450.8 485.3 444.4 C482.8 438.1 484.6 428.8 484.4 417.3 C484.2 405.8 485 403.4 484.4 395.3 C483.8 387.2 481.7 391 481.7 382.5 C481.7 373.9 484 371.5 484.4 358.7 C484.8 345.8 481.9 334.8 483.5 327.5Z" fill="#5aa2d0" />
<path d="M442.2 327.5 C442.3 322.4 443.4 320.2 445.4 327.5 C447.3 334.8 448.5 348.7 450.5 358.7 C452.5 368.6 453.8 367.4 453.8 370 C453.8 372.7 452.5 374.8 450.5 370 C448.4 365.2 446.9 359.4 445 349.5 C443.1 339.6 442.2 332.6 442.2 327.5Z" fill="#b8d6eb" />
<path d="M456.9 327.5 C457.3 320.2 460.7 322.4 462.4 327.5 C464.1 332.6 463.2 339.6 464.2 349.5 C465.3 359.4 467 363.6 467 370 C467 376.4 465.7 379.6 464.2 377 C462.7 374.3 462.3 370.2 460.6 358.7 C458.9 347.1 456.5 334.8 456.9 327.5Z" fill="#93c4e0" />
<path d="M449.6 367.8 C450 366.1 452 369.6 454.2 375.2 C456.3 380.7 457.5 385.7 458.7 391.6 C460 397.6 460.3 400 459.7 400.8 C459 401.7 457.7 399.6 456 395.3 C454.3 391 453.8 388.9 452.3 382.5 C450.8 376.1 449.1 369.5 449.6 367.8Z" fill="#93c4e0" />
<path d="M476.2 327.5 C477.4 322.4 481.5 320.2 483.5 327.5 C485.5 334.8 484.6 346.2 484.6 358.7 C484.6 371.1 484.5 376.5 483.5 381 C482.5 385.5 481.5 385.3 480.2 377.9 C478.9 370.5 478.9 361.3 478 349.5 C477 337.7 474.9 332.6 476.2 327.5Z" fill="#93c4e0" />
<path d="M465.5 377 C466.4 374.8 468.6 377.4 470.7 382.5 C472.7 387.6 474.2 394.3 474.3 399 C474.4 403.7 472.7 404.4 471 402.6 C469.3 400.9 468.3 397.6 467 391.6 C465.7 385.7 464.7 379.1 465.5 377Z" fill="#93c4e0" />
<path d="M490.8 345.8 C491.9 338.1 494.2 336.7 496.3 344 C498.5 351.3 498.7 362.9 500 377 C501.3 391.1 501 391.6 501.8 404.5 C502.7 417.3 504.5 424.6 503.6 432 C502.8 439.3 500.3 442.4 498.1 436 C496 429.6 496 418.2 494.5 404.5 C493 390.7 492.6 390.7 491.7 377 C490.9 363.3 489.7 353.5 490.8 345.8Z" fill="#93c4e0" />
<path d="M493 391.6 C493.2 387.4 494.6 389.3 495.6 395.3 C496.6 401.3 497.4 413 497.2 417.3 C497.1 421.6 495.8 419.6 494.8 413.6 C493.9 407.7 492.8 395.9 493 391.6Z" fill="#b8d6eb" />
<path d="M506.4 340.3 C507.3 329.6 509.1 329.6 510.2 340.3 C511.4 351 511.4 371.1 511.2 386.1 C510.9 401.2 510.3 404.8 509.1 404.8 C508 404.8 507 401.2 506.4 386.1 C505.8 371.1 505.5 351 506.4 340.3Z" fill="#8cc0de" />
<path d="M478 424.6 C479.5 421.6 481.3 427.3 483.5 432 C485.7 436.7 489 441.8 487.5 444.8 C486 447.8 479.3 449.5 477.1 444.8 C474.8 440.1 476.5 427.6 478 424.6Z" fill="#93c4e0" />
<path d="M478 430.1 C478.9 428 480.2 432.2 481.3 435.6 C482.4 439.1 483.5 442.7 482.6 444.8 C481.7 446.9 478.5 448.2 477.4 444.8 C476.4 441.4 477.1 432.3 478 430.1Z" fill="#e6eff8" />
<path d="M442.79 335.75 L443.34 342.53" stroke="#f8b090" stroke-width="1.2" stroke-linecap="round" fill="none"/>
<path d="M493.56 408.14 L494.48 415.48" stroke="#f9c9b0" stroke-width="1.0" stroke-linecap="round" fill="none"/>
<path d="M423 327.5 C425.7 306.4 434.8 326.7 437.7 329.7 C440.5 332.7 438.1 338.7 438.6 344 C439.1 349.3 439.6 353.3 440.4 358.7 C441.3 364 442 368.3 443.2 373.3 C444.3 378.4 445.5 382.1 446.8 386.1 C448.2 390.2 448.8 392.1 450.5 395.3 C452.2 398.5 454.1 401.4 456 403.6 C457.8 405.7 459.3 406.4 460.6 407.2 C461.9 408.1 462.3 408.4 463 408.1 C463.6 407.9 463.7 405.6 464.2 405.9 C464.8 406.3 465.4 408.2 466.1 410 C466.7 411.8 467.1 415.2 467.9 415.8 C468.7 416.5 469.5 415.1 470.3 413.6 C471.1 412.2 471.4 409.3 472.1 408.1 C472.8 407 473.4 406.8 474 407.2 C474.5 407.6 474.8 412.5 475.2 410.3 C475.6 408.2 475.9 400.4 476.2 395.3 C476.4 390.2 476.2 385 476.5 382.5 C476.9 380 477.5 381.1 478 381.6 C478.4 382.1 478.6 382.7 478.9 385.2 C479.2 387.8 479.2 392.1 479.5 395.3 C479.7 398.5 479.6 399.4 480 402.8 C480.4 406.2 480.8 410.7 481.5 413.8 C482.1 417 483.3 417.9 483.5 420.1 C483.7 422.2 483 424.4 482.4 425.6 C481.7 426.7 480.6 427.6 480 426.3 C479.4 425 479.5 420.3 479.1 418.6 C478.6 416.9 478 415.2 477.6 416.9 C477.3 418.7 477.4 422.8 477.3 427.9 C477.2 433 487 441.7 477.1 444.8 C467.1 447.9 432.9 466.3 423 444.8 C413.1 423.3 420.3 348.6 423 327.5Z" fill="#2f7dbb" />
<path d="M423 327.5 C426 300 432.6 323.6 435.8 327.5 C439 331.3 436.1 334.6 436.7 344 C437.4 353.4 437.5 358 438.6 367.8 C439.6 377.7 439.4 376.7 441.3 386.1 C443.3 395.6 443.8 399.6 446.8 408.1 C449.8 416.7 450.3 416.8 454.2 422.8 C458 428.8 459 429.5 463.3 433.8 C467.6 438.1 469.2 438.5 472.5 441.1 C475.7 443.8 488.8 444.2 477.3 445.2 C465.7 446.1 435.7 472.6 423 445.2 C410.3 417.7 420 355 423 327.5Z" fill="#1a66ae" />
<path d="M423 327.5 C425.4 300 430.5 322.4 433.1 327.5 C435.6 332.6 433.4 337.9 434 349.5 C434.6 361 434.5 364.2 435.8 377 C437.1 389.8 437.4 393.4 439.5 404.5 C441.6 415.6 442 416.5 445 424.6 C448 432.8 449.7 434.5 452.3 439.3 C455 444.1 463.2 443.8 456.4 445.2 C449.5 446.5 430.8 472.6 423 445.2 C415.2 417.7 420.6 355 423 327.5Z" fill="#0d54a2" />
<path d="M423 327.5 C424.7 300 428.4 320.2 430.3 327.5 C432.3 334.8 430.6 342.8 431.2 358.7 C431.9 374.5 432 380.3 433.1 395.3 C434.1 410.3 434.5 411.2 435.8 422.8 C437.2 434.4 441.8 439.9 438.8 445.2 C435.8 450.4 426.7 472.6 423 445.2 C419.3 417.7 421.3 355 423 327.5Z" fill="#0a3070" />
<path d="M437.7 329.7 C437.8 332.3 438.1 338.7 438.6 344 C439.1 349.3 439.6 353.3 440.4 358.7 C441.3 364 442 368.3 443.2 373.3 C444.3 378.4 445.5 382.1 446.8 386.1 C448.2 390.2 448.8 392.1 450.5 395.3 C452.2 398.5 454.1 401.4 456 403.6 C457.8 405.7 459.3 406.4 460.6 407.2 C461.9 408.1 462.3 408.4 463 408.1 C463.6 407.9 463.7 405.6 464.2 405.9 C464.8 406.3 465.4 408.2 466.1 410 C466.7 411.8 467.1 415.2 467.9 415.8 C468.7 416.5 469.5 415.1 470.3 413.6 C471.1 412.2 471.4 409.3 472.1 408.1 C472.8 407 473.4 406.8 474 407.2 C474.5 407.6 474.8 412.5 475.2 410.3 C475.6 408.2 475.9 400.4 476.2 395.3 C476.4 390.2 476.2 385 476.5 382.5 C476.9 380 477.5 381.1 478 381.6 C478.4 382.1 478.6 382.7 478.9 385.2 C479.2 387.8 479.2 392.1 479.5 395.3 C479.7 398.5 479.6 399.4 480 402.8 C480.4 406.2 480.8 410.7 481.5 413.8 C482.1 417 483.3 417.9 483.5 420.1 C483.7 422.2 483 424.4 482.4 425.6 C481.7 426.7 480.6 427.6 480 426.3 C479.4 425 479.5 420.3 479.1 418.6 C478.6 416.9 478 415.2 477.6 416.9 C477.3 418.7 477.4 422.8 477.3 427.9 C477.2 433 477.1 441.7 477.1 444.8" fill="none" stroke="#0a0a14" stroke-width="0.9" stroke-linejoin="round" stroke-linecap="round" />
<path d="M492.3 444.4 C492.5 443.9 493.1 441.3 493.6 441.1 C494 441 494.4 443.6 494.8 443.7 C495.3 443.8 495.8 441.4 496.3 441.5 C496.8 441.6 497.5 443.9 497.8 444.4" fill="none" stroke="#0a0a14" stroke-width="0.8" stroke-linejoin="round" stroke-linecap="round" />
</g>
<line x1="438.4" y1="333.91" x2="541.77" y2="333.91" stroke="#0a0a14" stroke-width="0.9" />
<polygon points="437.3,333.91 440.05,332.51 440.05,335.31" fill="#0a0a14" />
<polygon points="542.87,333.91 540.12,332.51 540.12,335.31" fill="#0a0a14" />
<text transform="translate(464.79 343.44) scale(0.87 1)" font-size="9.4" font-weight="normal" fill="#eef3fa" stroke="#eef3fa" stroke-width="0.42" text-anchor="start">EAB<tspan font-size="5.6" dy="1.96">Max</tspan><tspan dy="-1.96">&#8203;</tspan>= 34.96GHz</text>
<text transform="translate(465.52 359.94) scale(0.87 1)" font-size="9.4" font-weight="normal" fill="#1a1a1a" stroke="#1a1a1a" stroke-width="0.48" text-anchor="start">RL<tspan font-size="5.6" dy="1.96">Min</tspan><tspan dy="-1.96">&#8203;</tspan>= -57.58dB</text>
<rect x="427.8" y="329.6" width="115.8" height="115.2" fill="none" stroke="#111" stroke-width="0.9" />
<line x1="436.94" y1="444.8" x2="436.94" y2="447" stroke="#111" stroke-width="0.8" />
<text transform="translate(436.94 455.7) scale(0.86 1)" font-size="8.6" font-weight="bold" fill="#111" stroke="#111" stroke-width="0.3" text-anchor="middle">5</text>
<line x1="452.18" y1="444.8" x2="452.18" y2="447" stroke="#111" stroke-width="0.8" />
<text transform="translate(452.18 455.7) scale(0.86 1)" font-size="8.6" font-weight="bold" fill="#111" stroke="#111" stroke-width="0.3" text-anchor="middle">10</text>
<line x1="467.42" y1="444.8" x2="467.42" y2="447" stroke="#111" stroke-width="0.8" />
<text transform="translate(467.42 455.7) scale(0.86 1)" font-size="8.6" font-weight="bold" fill="#111" stroke="#111" stroke-width="0.3" text-anchor="middle">15</text>
<line x1="482.65" y1="444.8" x2="482.65" y2="447" stroke="#111" stroke-width="0.8" />
<text transform="translate(482.65 455.7) scale(0.86 1)" font-size="8.6" font-weight="bold" fill="#111" stroke="#111" stroke-width="0.3" text-anchor="middle">20</text>
<line x1="497.89" y1="444.8" x2="497.89" y2="447" stroke="#111" stroke-width="0.8" />
<text transform="translate(497.89 455.7) scale(0.86 1)" font-size="8.6" font-weight="bold" fill="#111" stroke="#111" stroke-width="0.3" text-anchor="middle">25</text>
<line x1="513.13" y1="444.8" x2="513.13" y2="447" stroke="#111" stroke-width="0.8" />
<text transform="translate(513.13 455.7) scale(0.86 1)" font-size="8.6" font-weight="bold" fill="#111" stroke="#111" stroke-width="0.3" text-anchor="middle">30</text>
<line x1="528.36" y1="444.8" x2="528.36" y2="447" stroke="#111" stroke-width="0.8" />
<text transform="translate(528.36 455.7) scale(0.86 1)" font-size="8.6" font-weight="bold" fill="#111" stroke="#111" stroke-width="0.3" text-anchor="middle">35</text>
<line x1="543.6" y1="444.8" x2="543.6" y2="447" stroke="#111" stroke-width="0.8" />
<text transform="translate(543.6 455.7) scale(0.86 1)" font-size="8.6" font-weight="bold" fill="#111" stroke="#111" stroke-width="0.3" text-anchor="middle">40</text>
<line x1="444.56" y1="444.8" x2="444.56" y2="446.1" stroke="#111" stroke-width="0.6" />
<line x1="459.8" y1="444.8" x2="459.8" y2="446.1" stroke="#111" stroke-width="0.6" />
<line x1="475.03" y1="444.8" x2="475.03" y2="446.1" stroke="#111" stroke-width="0.6" />
<line x1="490.27" y1="444.8" x2="490.27" y2="446.1" stroke="#111" stroke-width="0.6" />
<line x1="505.51" y1="444.8" x2="505.51" y2="446.1" stroke="#111" stroke-width="0.6" />
<line x1="520.74" y1="444.8" x2="520.74" y2="446.1" stroke="#111" stroke-width="0.6" />
<line x1="535.98" y1="444.8" x2="535.98" y2="446.1" stroke="#111" stroke-width="0.6" />
<line x1="425.6" y1="444.8" x2="427.8" y2="444.8" stroke="#111" stroke-width="0.8" />
<text transform="translate(424.2 447.8) scale(0.86 1)" font-size="8.6" font-weight="bold" fill="#111" stroke="#111" stroke-width="0.3" text-anchor="end">1</text>
<line x1="425.6" y1="416" x2="427.8" y2="416" stroke="#111" stroke-width="0.8" />
<text transform="translate(424.2 419) scale(0.86 1)" font-size="8.6" font-weight="bold" fill="#111" stroke="#111" stroke-width="0.3" text-anchor="end">2</text>
<line x1="425.6" y1="387.2" x2="427.8" y2="387.2" stroke="#111" stroke-width="0.8" />
<text transform="translate(424.2 390.2) scale(0.86 1)" font-size="8.6" font-weight="bold" fill="#111" stroke="#111" stroke-width="0.3" text-anchor="end">3</text>
<line x1="425.6" y1="358.4" x2="427.8" y2="358.4" stroke="#111" stroke-width="0.8" />
<text transform="translate(424.2 361.4) scale(0.86 1)" font-size="8.6" font-weight="bold" fill="#111" stroke="#111" stroke-width="0.3" text-anchor="end">4</text>
<line x1="425.6" y1="329.6" x2="427.8" y2="329.6" stroke="#111" stroke-width="0.8" />
<text transform="translate(424.2 332.6) scale(0.86 1)" font-size="8.6" font-weight="bold" fill="#111" stroke="#111" stroke-width="0.3" text-anchor="end">5</text>
<text transform="translate(485.9 465.8) scale(0.87 1)" font-size="9.3" font-weight="bold" fill="#222" stroke="#222" stroke-width="0.3" text-anchor="middle">Frequency(GHz)</text>
<text transform="translate(416 386.4) scale(0.84 1) rotate(-90)" font-size="8.3" font-weight="bold" fill="#222" stroke="#222" stroke-width="0.3" text-anchor="middle">Thickness(mm)</text>
<text transform="translate(488.9 324.8) scale(0.86 1)" font-size="8.8" font-weight="bold" fill="#222" stroke="#222" stroke-width="0.3" text-anchor="middle">PNIPAM gel 2</text>
<text x="402.4" y="342" font-size="24" font-weight="bold" fill="#000" text-anchor="start"  stroke="#000" stroke-width="0.22">k</text>
<rect x="561.2" y="329.6" width="11.2" height="5.4" fill="#08306b" stroke="none" stroke-width="1" />
<rect x="561.2" y="334.4" width="11.2" height="5.4" fill="#08458a" stroke="none" stroke-width="1" />
<rect x="561.2" y="339.2" width="11.2" height="5.4" fill="#0f5aa3" stroke="none" stroke-width="1" />
<rect x="561.2" y="344" width="11.2" height="5.4" fill="#1f6eb3" stroke="none" stroke-width="1" />
<rect x="561.2" y="348.8" width="11.2" height="5.4" fill="#3383be" stroke="none" stroke-width="1" />
<rect x="561.2" y="353.6" width="11.2" height="5.4" fill="#4997c9" stroke="none" stroke-width="1" />
<rect x="561.2" y="358.4" width="11.2" height="5.4" fill="#64a9d3" stroke="none" stroke-width="1" />
<rect x="561.2" y="363.2" width="11.2" height="5.4" fill="#82bbdb" stroke="none" stroke-width="1" />
<rect x="561.2" y="368" width="11.2" height="5.4" fill="#a2cce2" stroke="none" stroke-width="1" />
<rect x="561.2" y="372.8" width="11.2" height="5.4" fill="#bbd6eb" stroke="none" stroke-width="1" />
<rect x="561.2" y="377.6" width="11.2" height="5.4" fill="#cfe1f2" stroke="none" stroke-width="1" />
<rect x="561.2" y="382.4" width="11.2" height="5.4" fill="#deebf7" stroke="none" stroke-width="1" />
<rect x="561.2" y="387.2" width="11.2" height="5.4" fill="#fee0d2" stroke="none" stroke-width="1" />
<rect x="561.2" y="392" width="11.2" height="5.4" fill="#fdc8b3" stroke="none" stroke-width="1" />
<rect x="561.2" y="396.8" width="11.2" height="5.4" fill="#fcb094" stroke="none" stroke-width="1" />
<rect x="561.2" y="401.6" width="11.2" height="5.4" fill="#fc9676" stroke="none" stroke-width="1" />
<rect x="561.2" y="406.4" width="11.2" height="5.4" fill="#fb7c5c" stroke="none" stroke-width="1" />
<rect x="561.2" y="411.2" width="11.2" height="5.4" fill="#f96145" stroke="none" stroke-width="1" />
<rect x="561.2" y="416" width="11.2" height="5.4" fill="#f14431" stroke="none" stroke-width="1" />
<rect x="561.2" y="420.8" width="11.2" height="5.4" fill="#df2b25" stroke="none" stroke-width="1" />
<rect x="561.2" y="425.6" width="11.2" height="5.4" fill="#c8171c" stroke="none" stroke-width="1" />
<rect x="561.2" y="430.4" width="11.2" height="5.4" fill="#af1117" stroke="none" stroke-width="1" />
<rect x="561.2" y="435.2" width="11.2" height="5.4" fill="#8e0a12" stroke="none" stroke-width="1" />
<rect x="561.2" y="440" width="11.2" height="4.8" fill="#67000d" stroke="none" stroke-width="1" />
<line x1="572.4" y1="329.6" x2="575" y2="329.6" stroke="#111" stroke-width="0.7" />
<text transform="translate(577.6 332) scale(0.88 1)" font-size="6.8" font-weight="bold" fill="#111" stroke="#111" stroke-width="0.3" text-anchor="start">0</text>
<line x1="572.4" y1="339.2" x2="575" y2="339.2" stroke="#111" stroke-width="0.7" />
<text transform="translate(577.6 341.6) scale(0.88 1)" font-size="6.8" font-weight="bold" fill="#111" stroke="#111" stroke-width="0.3" text-anchor="start">−5.00</text>
<line x1="572.4" y1="348.8" x2="575" y2="348.8" stroke="#111" stroke-width="0.7" />
<text transform="translate(577.6 351.2) scale(0.88 1)" font-size="6.8" font-weight="bold" fill="#111" stroke="#111" stroke-width="0.3" text-anchor="start">−10.0</text>
<line x1="572.4" y1="358.4" x2="575" y2="358.4" stroke="#111" stroke-width="0.7" />
<text transform="translate(577.6 360.8) scale(0.88 1)" font-size="6.8" font-weight="bold" fill="#111" stroke="#111" stroke-width="0.3" text-anchor="start">−15.0</text>
<line x1="572.4" y1="368" x2="575" y2="368" stroke="#111" stroke-width="0.7" />
<text transform="translate(577.6 370.4) scale(0.88 1)" font-size="6.8" font-weight="bold" fill="#111" stroke="#111" stroke-width="0.3" text-anchor="start">−20.0</text>
<line x1="572.4" y1="377.6" x2="575" y2="377.6" stroke="#111" stroke-width="0.7" />
<text transform="translate(577.6 380) scale(0.88 1)" font-size="6.8" font-weight="bold" fill="#111" stroke="#111" stroke-width="0.3" text-anchor="start">−25.0</text>
<line x1="572.4" y1="387.2" x2="575" y2="387.2" stroke="#111" stroke-width="0.7" />
<text transform="translate(577.6 389.6) scale(0.88 1)" font-size="6.8" font-weight="bold" fill="#111" stroke="#111" stroke-width="0.3" text-anchor="start">−30.0</text>
<line x1="572.4" y1="396.8" x2="575" y2="396.8" stroke="#111" stroke-width="0.7" />
<text transform="translate(577.6 399.2) scale(0.88 1)" font-size="6.8" font-weight="bold" fill="#111" stroke="#111" stroke-width="0.3" text-anchor="start">−35.0</text>
<line x1="572.4" y1="406.4" x2="575" y2="406.4" stroke="#111" stroke-width="0.7" />
<text transform="translate(577.6 408.8) scale(0.88 1)" font-size="6.8" font-weight="bold" fill="#111" stroke="#111" stroke-width="0.3" text-anchor="start">−40.0</text>
<line x1="572.4" y1="416" x2="575" y2="416" stroke="#111" stroke-width="0.7" />
<text transform="translate(577.6 418.4) scale(0.88 1)" font-size="6.8" font-weight="bold" fill="#111" stroke="#111" stroke-width="0.3" text-anchor="start">−45.0</text>
<line x1="572.4" y1="425.6" x2="575" y2="425.6" stroke="#111" stroke-width="0.7" />
<text transform="translate(577.6 428) scale(0.88 1)" font-size="6.8" font-weight="bold" fill="#111" stroke="#111" stroke-width="0.3" text-anchor="start">−50.0</text>
<line x1="572.4" y1="435.2" x2="575" y2="435.2" stroke="#111" stroke-width="0.7" />
<text transform="translate(577.6 437.6) scale(0.88 1)" font-size="6.8" font-weight="bold" fill="#111" stroke="#111" stroke-width="0.3" text-anchor="start">−55.0</text>
<line x1="572.4" y1="444.8" x2="575" y2="444.8" stroke="#111" stroke-width="0.7" />
<text transform="translate(577.6 447.2) scale(0.88 1)" font-size="6.8" font-weight="bold" fill="#111" stroke="#111" stroke-width="0.3" text-anchor="start">−60.0</text>
<text transform="translate(574.3 325.8) scale(0.9 1)" font-size="8" font-weight="bold" fill="#222" stroke="#222" stroke-width="0.3" text-anchor="middle">RL(dB)</text>
</g>
<g>
<defs><linearGradient id="ge1" x1="0" y1="0" x2="0" y2="1"><stop offset="0" stop-color="#3daee6" stop-opacity="1"/><stop offset="1" stop-color="#ffffff" stop-opacity="1"/></linearGradient><linearGradient id="ge2" x1="0" y1="0" x2="0" y2="1"><stop offset="0" stop-color="#f3b0ce" stop-opacity="1"/><stop offset="1" stop-color="#ffffff" stop-opacity="1"/></linearGradient><linearGradient id="ge3" x1="0" y1="0" x2="0" y2="1"><stop offset="0" stop-color="#bfdfaa" stop-opacity="1"/><stop offset="1" stop-color="#ffffff" stop-opacity="1"/></linearGradient><linearGradient id="ge4" x1="0" y1="0" x2="0" y2="1"><stop offset="0" stop-color="#9a9a9a" stop-opacity="1"/><stop offset="1" stop-color="#ffffff" stop-opacity="1"/></linearGradient></defs>
<rect x="41.3" y="275.45" width="17.5" height="5.85" fill="url(#ge1)" stroke="none" stroke-width="1" />
<rect x="75.6" y="228.69" width="17.7" height="52.61" fill="url(#ge2)" stroke="none" stroke-width="1" />
<rect x="110" y="202.31" width="17.6" height="78.99" fill="url(#ge3)" stroke="none" stroke-width="1" />
<rect x="144.3" y="277.05" width="17.7" height="4.25" fill="url(#ge4)" stroke="none" stroke-width="1" />
<polyline points="50.05,275.45 84.45,228.69 118.8,202.31" fill="none" stroke="#9a9a9a" stroke-width="0.5" stroke-linejoin="round" stroke-linecap="round" />
<line x1="50.05" y1="273.25" x2="50.05" y2="277.65" stroke="#777" stroke-width="0.6" />
<text x="50.05" y="271.45" font-size="5.8" font-weight="normal" fill="#111" text-anchor="middle"  stroke="#111" stroke-width="0.1">0.106</text>
<line x1="84.45" y1="226.49" x2="84.45" y2="230.89" stroke="#777" stroke-width="0.6" />
<text x="84.45" y="224.69" font-size="5.8" font-weight="normal" fill="#111" text-anchor="middle"  stroke="#111" stroke-width="0.1">0.953</text>
<line x1="118.8" y1="200.11" x2="118.8" y2="204.51" stroke="#777" stroke-width="0.6" />
<text x="118.8" y="198.31" font-size="5.8" font-weight="normal" fill="#111" text-anchor="middle"  stroke="#111" stroke-width="0.1">1.431</text>
<line x1="153.15" y1="274.85" x2="153.15" y2="279.25" stroke="#777" stroke-width="0.6" />
<text x="153.15" y="273.05" font-size="5.8" font-weight="normal" fill="#111" text-anchor="middle"  stroke="#111" stroke-width="0.1">0.077</text>
<rect x="32.9" y="170.9" width="137.9" height="110.4" fill="none" stroke="#5a5a5a" stroke-width="1.4" />
<line x1="30.7" y1="281.3" x2="32.9" y2="281.3" stroke="#333" stroke-width="0.8" />
<text x="29.3" y="283.9" font-size="7" font-weight="bold" fill="#111" text-anchor="end"  stroke="#111" stroke-width="0.22">0.0</text>
<line x1="31.6" y1="267.5" x2="32.9" y2="267.5" stroke="#333" stroke-width="0.6" />
<line x1="30.7" y1="253.7" x2="32.9" y2="253.7" stroke="#333" stroke-width="0.8" />
<text x="29.3" y="256.3" font-size="7" font-weight="bold" fill="#111" text-anchor="end"  stroke="#111" stroke-width="0.22">0.5</text>
<line x1="31.6" y1="239.9" x2="32.9" y2="239.9" stroke="#333" stroke-width="0.6" />
<line x1="30.7" y1="226.1" x2="32.9" y2="226.1" stroke="#333" stroke-width="0.8" />
<text x="29.3" y="228.7" font-size="7" font-weight="bold" fill="#111" text-anchor="end"  stroke="#111" stroke-width="0.22">1.0</text>
<line x1="31.6" y1="212.3" x2="32.9" y2="212.3" stroke="#333" stroke-width="0.6" />
<line x1="30.7" y1="198.5" x2="32.9" y2="198.5" stroke="#333" stroke-width="0.8" />
<text x="29.3" y="201.1" font-size="7" font-weight="bold" fill="#111" text-anchor="end"  stroke="#111" stroke-width="0.22">1.5</text>
<line x1="31.6" y1="184.7" x2="32.9" y2="184.7" stroke="#333" stroke-width="0.6" />
<line x1="30.7" y1="170.9" x2="32.9" y2="170.9" stroke="#333" stroke-width="0.8" />
<text x="29.3" y="173.5" font-size="7" font-weight="bold" fill="#111" text-anchor="end"  stroke="#111" stroke-width="0.22">2.0</text>
<line x1="50.05" y1="281.3" x2="50.05" y2="283.5" stroke="#333" stroke-width="0.8" />
<line x1="84.45" y1="281.3" x2="84.45" y2="283.5" stroke="#333" stroke-width="0.8" />
<line x1="118.8" y1="281.3" x2="118.8" y2="283.5" stroke="#333" stroke-width="0.8" />
<line x1="153.15" y1="281.3" x2="153.15" y2="283.5" stroke="#333" stroke-width="0.8" />
<text transform="translate(16 227.5) scale(0.8 1) rotate(-90)" font-size="7.5" font-weight="bold" fill="#222" stroke="#222" stroke-width="0.3" text-anchor="middle">Ionic conductivity (mS/cm)</text>
<text transform="translate(51.8 292.8) rotate(-16)" font-size="7" font-weight="bold" fill="#222" stroke="#222" stroke-width="0.22" text-anchor="middle">PNIPAM gel 1</text>
<text transform="translate(86.5 292.8) rotate(-16)" font-size="7" font-weight="bold" fill="#222" stroke="#222" stroke-width="0.22" text-anchor="middle">PNIPAM gel 2</text>
<text transform="translate(120.6 292.8) rotate(-16)" font-size="7" font-weight="bold" fill="#222" stroke="#222" stroke-width="0.22" text-anchor="middle">PNIPAM gel 3</text>
<text transform="translate(155.6 292.8) rotate(-16)" font-size="7" font-weight="bold" fill="#222" stroke="#222" stroke-width="0.22" text-anchor="middle">PNIPAM gel 2M</text>
<text x="2.6" y="170.8" font-size="24" font-weight="bold" fill="#000" text-anchor="start"  stroke="#000" stroke-width="0.22">e</text>
</g>
<g>
<rect x="231.3" y="171.1" width="138.7" height="57.6" fill="#fdf9f4" stroke="none" stroke-width="1" />
<rect x="231.3" y="231.3" width="138.7" height="58.7" fill="#fdf9f4" stroke="none" stroke-width="1" />
<clipPath id="cfa"><rect x="231.3" y="171.1" width="138.7" height="118.9"/></clipPath>
<g clip-path="url(#cfa)">
<path d="M231.3 174.9 C233.9 176.1 234.8 177.1 240 178.8 C245.2 180.5 243.4 179.5 248.6 180.7 C253.8 181.9 252.1 181.8 257.3 182.6 C262.5 183.5 260.8 182.7 266 183.6 C271.2 184.4 269.4 184.6 274.6 185.5 C279.8 186.4 278.1 185.9 283.3 186.5 C288.5 187 286.8 186.8 292 187.4 C297.2 188 295.4 187.8 300.6 188.4 C305.9 189 304.1 188.9 309.3 189.3 C314.5 189.8 312.8 189.4 318 189.8 C323.2 190.3 321.5 190.2 326.7 190.8 C331.9 191.4 330.1 191.2 335.3 191.7 C340.5 192.3 338.8 191.7 344 192.7 C349.2 193.7 347.5 193.2 352.7 195.1 C357.9 197 356.1 197.5 361.3 198.9 C366.5 200.4 367.4 199.6 370 199.9" fill="none" stroke="#b7dba0" stroke-width="1.25" stroke-linejoin="round" stroke-linecap="round" />
<path d="M231.3 179.3 C233.9 180.3 234.8 181.5 240 182.6 C245.2 183.8 243.4 182.2 248.6 183.1 C253.8 184 252.1 185.4 257.3 185.5 C262.5 185.6 260.8 183.6 266 183.6 C271.2 183.6 269.4 184.8 274.6 185.5 C279.8 186.2 278.1 185.3 283.3 186 C288.5 186.7 286.8 187.2 292 187.9 C297.2 188.6 295.4 187.9 300.6 188.4 C305.9 188.8 304.1 188.9 309.3 189.3 C314.5 189.8 312.8 189.5 318 189.8 C323.2 190.1 321.5 189.9 326.7 190.3 C331.9 190.7 330.1 191.1 335.3 191.3 C340.5 191.4 338.8 190.8 344 190.8 C349.2 190.8 347.5 190.8 352.7 191.3 C357.9 191.7 356.1 192.1 361.3 192.2 C366.5 192.4 367.4 191.9 370 191.7" fill="none" stroke="#8a8a8a" stroke-width="1.25" stroke-linejoin="round" stroke-linecap="round" />
<path d="M231.3 187.4 C233.9 187.1 234.8 186.6 240 186.5 C245.2 186.3 243.4 185.8 248.6 186.9 C253.8 188.1 252.1 189.3 257.3 190.3 C262.5 191.3 260.8 189.7 266 190.3 C271.2 190.9 269.4 191.4 274.6 192.2 C279.8 193.1 278.1 191.2 283.3 193.2 C288.5 195.2 286.8 196.3 292 198.9 C297.2 201.5 295.4 200.7 300.6 201.8 C305.9 203 304.1 201.1 309.3 202.8 C314.5 204.5 312.8 204.1 318 207.6 C323.2 211 321.5 211.4 326.7 214.3 C331.9 217.2 330.1 216.7 335.3 217.2 C340.5 217.6 338.8 215.7 344 215.7 C349.2 215.7 347.5 215.7 352.7 217.2 C357.9 218.6 356.1 220.3 361.3 220.5 C366.5 220.8 367.4 218.9 370 218.1" fill="none" stroke="#f3a9cb" stroke-width="1.25" stroke-linejoin="round" stroke-linecap="round" />
<path d="M231.3 187.4 C233.9 188 234.8 188.5 240 189.3 C245.2 190.2 243.4 189.7 248.6 190.3 C253.8 190.9 252.1 191.4 257.3 191.3 C262.5 191.1 260.8 190 266 189.8 C271.2 189.7 269.4 190.3 274.6 190.8 C279.8 191.2 278.1 191 283.3 191.3 C288.5 191.5 286.8 191.3 292 191.7 C297.2 192.2 295.4 192 300.6 192.7 C305.9 193.4 304.1 193.4 309.3 194.1 C314.5 194.9 312.8 194.2 318 195.1 C323.2 196 321.5 195.9 326.7 197 C331.9 198.2 330.1 198.2 335.3 198.9 C340.5 199.7 338.8 199.3 344 199.4 C349.2 199.6 347.5 198.4 352.7 199.4 C357.9 200.4 356.1 201.5 361.3 202.8 C366.5 204.1 367.4 203.5 370 203.7" fill="none" stroke="#29abe2" stroke-width="1.7" stroke-linejoin="round" stroke-linecap="round" />
<path d="M231.3 262.2 C232.6 263.8 233 266.6 235.6 267.5 C238.2 268.4 236.1 267.3 240 265.2 C243.9 263.2 243.4 263 248.6 260.7 C253.8 258.4 252.1 258.6 257.3 257.6 C262.5 256.7 260.8 259 266 257.6 C271.2 256.3 269.4 256.3 274.6 253.1 C279.8 249.9 278.1 249.3 283.3 247 C288.5 244.7 286.8 245.9 292 245.5 C297.2 245 295.4 246.2 300.6 245.5 C305.9 244.8 304.1 244.6 309.3 243.2 C314.5 241.8 312.8 239.8 318 240.9 C323.2 242.1 321.5 242.4 326.7 247 C331.9 251.6 330.1 253.2 335.3 256.1 C340.5 259.1 338.8 256.2 344 256.9 C349.2 257.6 347.5 257.7 352.7 258.4 C357.9 259.1 356.1 257.3 361.3 259.2 C366.5 261 367.4 262.9 370 264.5" fill="none" stroke="#f3a9cb" stroke-width="1.25" stroke-linejoin="round" stroke-linecap="round" />
<path d="M231.3 249.3 C233.9 250.6 234.8 251.6 240 253.8 C245.2 256.1 243.4 256.4 248.6 256.9 C253.8 257.3 252.1 254.9 257.3 255.4 C262.5 255.8 260.8 258.9 266 258.4 C271.2 257.9 269.4 254.5 274.6 253.8 C279.8 253.2 278.1 256.3 283.3 256.1 C288.5 255.9 286.8 253.8 292 253.1 C297.2 252.4 295.4 253.8 300.6 253.8 C305.9 253.8 304.1 253.5 309.3 253.1 C314.5 252.6 312.8 252.8 318 252.3 C323.2 251.9 321.5 253.2 326.7 251.6 C331.9 250 330.1 249.1 335.3 247 C340.5 244.9 338.8 244.7 344 244.7 C349.2 244.7 347.5 248.6 352.7 247 C357.9 245.4 356.1 240.1 361.3 239.4 C366.5 238.7 367.4 243.1 370 244.7" fill="none" stroke="#b7dba0" stroke-width="1.25" stroke-linejoin="round" stroke-linecap="round" />
<path d="M231.3 268.3 C233.9 268.5 234.8 267.9 240 269 C245.2 270.2 243.4 271.6 248.6 272.1 C253.8 272.5 252.1 269.9 257.3 270.6 C262.5 271.2 260.8 274.6 266 274.4 C271.2 274.1 269.4 270.5 274.6 269.8 C279.8 269.1 278.1 271.9 283.3 272.1 C288.5 272.3 286.8 270.8 292 270.6 C297.2 270.3 295.4 270.6 300.6 271.3 C305.9 272 304.1 272.6 309.3 272.8 C314.5 273.1 312.8 271.9 318 272.1 C323.2 272.3 321.5 272.9 326.7 273.6 C331.9 274.3 330.1 273.7 335.3 274.4 C340.5 275 338.8 275.2 344 275.9 C349.2 276.6 347.5 277.6 352.7 276.6 C357.9 275.7 356.1 272.8 361.3 272.8 C366.5 272.8 367.4 275.5 370 276.6" fill="none" stroke="#8a8a8a" stroke-width="1.25" stroke-linejoin="round" stroke-linecap="round" />
<path d="M231.3 272.8 C233.9 272.6 234.8 272.1 240 272.1 C245.2 272.1 243.4 273.3 248.6 272.8 C253.8 272.4 252.1 270.6 257.3 270.6 C262.5 270.6 260.8 273.1 266 272.8 C271.2 272.6 269.4 271.4 274.6 269.8 C279.8 268.2 278.1 268.4 283.3 267.5 C288.5 266.6 286.8 268.1 292 266.8 C297.2 265.4 295.4 264.1 300.6 263 C305.9 261.8 304.1 263.9 309.3 263 C314.5 262 312.8 261.1 318 259.9 C323.2 258.8 321.5 259.6 326.7 259.2 C331.9 258.7 330.1 258.4 335.3 258.4 C340.5 258.4 338.8 259.2 344 259.2 C349.2 259.2 347.5 260 352.7 258.4 C357.9 256.8 356.1 254.1 361.3 253.8 C366.5 253.6 367.4 256.5 370 257.6" fill="none" stroke="#29abe2" stroke-width="1.7" stroke-linejoin="round" stroke-linecap="round" />
</g>
<rect x="231.3" y="171.1" width="138.7" height="57.6" fill="none" stroke="#4a4a4a" stroke-width="1.3" />
<rect x="231.3" y="231.3" width="138.7" height="58.7" fill="none" stroke="#4a4a4a" stroke-width="1.3" />
<line x1="229.3" y1="228.7" x2="231.3" y2="228.7" stroke="#333" stroke-width="0.8" />
<text x="228.1" y="231.3" font-size="7" font-weight="bold" fill="#111" text-anchor="end"  stroke="#111" stroke-width="0.22">0</text>
<line x1="229.3" y1="209.5" x2="231.3" y2="209.5" stroke="#333" stroke-width="0.8" />
<text x="228.1" y="212.1" font-size="7" font-weight="bold" fill="#111" text-anchor="end"  stroke="#111" stroke-width="0.22">2</text>
<line x1="229.3" y1="190.3" x2="231.3" y2="190.3" stroke="#333" stroke-width="0.8" />
<text x="228.1" y="192.9" font-size="7" font-weight="bold" fill="#111" text-anchor="end"  stroke="#111" stroke-width="0.22">4</text>
<line x1="229.3" y1="171.1" x2="231.3" y2="171.1" stroke="#333" stroke-width="0.8" />
<text x="228.1" y="173.7" font-size="7" font-weight="bold" fill="#111" text-anchor="end"  stroke="#111" stroke-width="0.22">6</text>
<line x1="229.3" y1="285" x2="231.3" y2="285" stroke="#333" stroke-width="0.8" />
<text x="228.1" y="287.6" font-size="7" font-weight="bold" fill="#111" text-anchor="end"  stroke="#111" stroke-width="0.22">0</text>
<line x1="229.3" y1="269.8" x2="231.3" y2="269.8" stroke="#333" stroke-width="0.8" />
<text x="228.1" y="272.4" font-size="7" font-weight="bold" fill="#111" text-anchor="end"  stroke="#111" stroke-width="0.22">1</text>
<line x1="229.3" y1="254.6" x2="231.3" y2="254.6" stroke="#333" stroke-width="0.8" />
<text x="228.1" y="257.2" font-size="7" font-weight="bold" fill="#111" text-anchor="end"  stroke="#111" stroke-width="0.22">2</text>
<line x1="229.3" y1="239.4" x2="231.3" y2="239.4" stroke="#333" stroke-width="0.8" />
<text x="228.1" y="242" font-size="7" font-weight="bold" fill="#111" text-anchor="end"  stroke="#111" stroke-width="0.22">3</text>
<line x1="231.3" y1="290" x2="231.3" y2="292" stroke="#333" stroke-width="0.8" />
<text x="231.3" y="299" font-size="7" font-weight="bold" fill="#111" text-anchor="middle"  stroke="#111" stroke-width="0.22">2</text>
<line x1="248.64" y1="290" x2="248.64" y2="292" stroke="#333" stroke-width="0.8" />
<text x="248.64" y="299" font-size="7" font-weight="bold" fill="#111" text-anchor="middle"  stroke="#111" stroke-width="0.22">4</text>
<line x1="265.98" y1="290" x2="265.98" y2="292" stroke="#333" stroke-width="0.8" />
<text x="265.98" y="299" font-size="7" font-weight="bold" fill="#111" text-anchor="middle"  stroke="#111" stroke-width="0.22">6</text>
<line x1="283.31" y1="290" x2="283.31" y2="292" stroke="#333" stroke-width="0.8" />
<text x="283.31" y="299" font-size="7" font-weight="bold" fill="#111" text-anchor="middle"  stroke="#111" stroke-width="0.22">8</text>
<line x1="300.65" y1="290" x2="300.65" y2="292" stroke="#333" stroke-width="0.8" />
<text x="300.65" y="299" font-size="7" font-weight="bold" fill="#111" text-anchor="middle"  stroke="#111" stroke-width="0.22">10</text>
<line x1="317.99" y1="290" x2="317.99" y2="292" stroke="#333" stroke-width="0.8" />
<text x="317.99" y="299" font-size="7" font-weight="bold" fill="#111" text-anchor="middle"  stroke="#111" stroke-width="0.22">12</text>
<line x1="335.32" y1="290" x2="335.32" y2="292" stroke="#333" stroke-width="0.8" />
<text x="335.32" y="299" font-size="7" font-weight="bold" fill="#111" text-anchor="middle"  stroke="#111" stroke-width="0.22">14</text>
<line x1="352.66" y1="290" x2="352.66" y2="292" stroke="#333" stroke-width="0.8" />
<text x="352.66" y="299" font-size="7" font-weight="bold" fill="#111" text-anchor="middle"  stroke="#111" stroke-width="0.22">16</text>
<line x1="370" y1="290" x2="370" y2="292" stroke="#333" stroke-width="0.8" />
<text x="370" y="299" font-size="7" font-weight="bold" fill="#111" text-anchor="middle"  stroke="#111" stroke-width="0.22">18</text>
<text x="301.5" y="308" font-size="7.2" font-weight="bold" fill="#222" text-anchor="middle"  stroke="#222" stroke-width="0.22">Frequency(GHz)</text>
<text transform="translate(223.2 200) rotate(-90)" font-size="7" font-weight="bold" fill="#222" stroke="#222" stroke-width="0.22" text-anchor="middle">ε′</text>
<text transform="translate(223.2 257.5) rotate(-90)" font-size="7" font-weight="bold" fill="#222" stroke="#222" stroke-width="0.22" text-anchor="middle">ε″</text>
<line x1="237.5" y1="201" x2="248.7" y2="201" stroke="#29abe2" stroke-width="1.5" />
<text x="251" y="203.2" font-size="6.1" font-weight="bold" fill="#222" text-anchor="start"  stroke="#222" stroke-width="0.22">PNIPAM gel 1</text>
<line x1="237.5" y1="208" x2="248.7" y2="208" stroke="#f3a9cb" stroke-width="1" />
<text x="251" y="210.2" font-size="6.1" font-weight="bold" fill="#222" text-anchor="start"  stroke="#222" stroke-width="0.22">PNIPAM gel 2</text>
<line x1="237.5" y1="215" x2="248.7" y2="215" stroke="#b7dba0" stroke-width="1" />
<text x="251" y="217.2" font-size="6.1" font-weight="bold" fill="#222" text-anchor="start"  stroke="#222" stroke-width="0.22">PNIPAM gel 3</text>
<line x1="237.5" y1="222" x2="248.7" y2="222" stroke="#8a8a8a" stroke-width="1" />
<text x="251" y="224.2" font-size="6.1" font-weight="bold" fill="#222" text-anchor="start"  stroke="#222" stroke-width="0.22">PNIPAM gel 2M</text>
<text x="204.3" y="173.9" font-size="24" font-weight="bold" fill="#000" text-anchor="start"  stroke="#000" stroke-width="0.22">f</text>
</g>
<g>
<rect x="448" y="223.2" width="22.5" height="58.8" fill="#a6cde3" stroke="none" stroke-width="1" />
<rect x="470.5" y="274.47" width="22.5" height="7.53" fill="#2374b6" stroke="none" stroke-width="1" />
<rect x="516.8" y="188.13" width="22.5" height="93.87" fill="#a6cde3" stroke="none" stroke-width="1" />
<rect x="539.3" y="261.28" width="22.5" height="20.72" fill="#2374b6" stroke="none" stroke-width="1" />
<line x1="470.5" y1="219.5" x2="540" y2="181.8" stroke="#aaa" stroke-width="0.7" stroke-dasharray="0.8 1.6"/>
<circle cx="470.5" cy="219.5" r="1" fill="#888" stroke="none" stroke-width="1" />
<circle cx="540" cy="181.8" r="1" fill="#888" stroke="none" stroke-width="1" />
<rect x="436" y="171.3" width="138.3" height="110.7" fill="none" stroke="#4a4a4a" stroke-width="1.2" />
<line x1="434" y1="282" x2="436" y2="282" stroke="#333" stroke-width="0.8" />
<text x="432.6" y="284.6" font-size="7" font-weight="bold" fill="#111" text-anchor="end"  stroke="#111" stroke-width="0.22">0.00</text>
<line x1="434" y1="237.72" x2="436" y2="237.72" stroke="#333" stroke-width="0.8" />
<text x="432.6" y="240.32" font-size="7" font-weight="bold" fill="#111" text-anchor="end"  stroke="#111" stroke-width="0.22">0.05</text>
<line x1="434" y1="193.44" x2="436" y2="193.44" stroke="#333" stroke-width="0.8" />
<text x="432.6" y="196.04" font-size="7" font-weight="bold" fill="#111" text-anchor="end"  stroke="#111" stroke-width="0.22">0.10</text>
<line x1="434.8" y1="259.86" x2="436" y2="259.86" stroke="#333" stroke-width="0.6" />
<line x1="434.8" y1="215.58" x2="436" y2="215.58" stroke="#333" stroke-width="0.6" />
<line x1="574.3" y1="171.3" x2="574.3" y2="282" stroke="#8a8a8a" stroke-width="1.3" />
<line x1="574.3" y1="282" x2="576.3" y2="282" stroke="#666" stroke-width="0.8" />
<text x="577.9" y="284.6" font-size="7" font-weight="normal" fill="#555" text-anchor="start" >0.00</text>
<line x1="574.3" y1="254.32" x2="576.3" y2="254.32" stroke="#666" stroke-width="0.8" />
<text x="577.9" y="256.93" font-size="7" font-weight="normal" fill="#555" text-anchor="start" >0.05</text>
<line x1="574.3" y1="226.65" x2="576.3" y2="226.65" stroke="#666" stroke-width="0.8" />
<text x="577.9" y="229.25" font-size="7" font-weight="normal" fill="#555" text-anchor="start" >0.10</text>
<line x1="574.3" y1="198.98" x2="576.3" y2="198.98" stroke="#666" stroke-width="0.8" />
<text x="577.9" y="201.58" font-size="7" font-weight="normal" fill="#555" text-anchor="start" >0.15</text>
<line x1="574.3" y1="171.3" x2="576.3" y2="171.3" stroke="#666" stroke-width="0.8" />
<text x="577.9" y="173.9" font-size="7" font-weight="normal" fill="#555" text-anchor="start" >0.20</text>
<line x1="470.5" y1="282" x2="470.5" y2="284" stroke="#333" stroke-width="0.8" />
<line x1="539.3" y1="282" x2="539.3" y2="284" stroke="#333" stroke-width="0.8" />
<text x="470.5" y="293" font-size="7.8" font-weight="bold" fill="#111" text-anchor="middle"  stroke="#111" stroke-width="0.22">ILs</text>
<text x="539.3" y="293" font-size="7.8" font-weight="bold" fill="#111" text-anchor="middle"  stroke="#111" stroke-width="0.22">PNIPAM</text>
<text transform="translate(413 236) rotate(-90)" font-size="7" font-weight="bold" fill="#222" stroke="#222" stroke-width="0.22" text-anchor="middle">ε″<tspan font-size="4.5" dy="1.57">c</tspan><tspan dy="-1.57">&#8203;</tspan> &amp; ε″<tspan font-size="4.5" dy="1.57">p</tspan><tspan dy="-1.57">&#8203;</tspan></text>
<text transform="translate(599 231) rotate(-90)" font-size="6.8" font-weight="bold" fill="#777" stroke="#777" stroke-width="0.22" text-anchor="middle">ε″<tspan font-size="4.6" dy="1.61">p</tspan><tspan dy="-1.61">&#8203;</tspan>/ε″</text>
<rect x="546.3" y="181.3" width="12.5" height="6.2" fill="#a6cde3" stroke="none" stroke-width="1" />
<rect x="546.3" y="189.5" width="12.5" height="6.3" fill="#2374b6" stroke="none" stroke-width="1" />
<text x="560.2" y="186.7" font-size="5.6" font-weight="bold" fill="#222" text-anchor="start"  stroke="#222" stroke-width="0.22">ε″<tspan font-size="3.8" dy="1.33">c</tspan><tspan dy="-1.33">&#8203;</tspan></text>
<text x="560.2" y="195" font-size="5.6" font-weight="bold" fill="#222" text-anchor="start"  stroke="#222" stroke-width="0.22">ε″<tspan font-size="3.8" dy="1.33">p</tspan><tspan dy="-1.33">&#8203;</tspan></text>
<text x="401.8" y="169" font-size="24" font-weight="bold" fill="#000" text-anchor="start"  stroke="#000" stroke-width="0.22">g</text>
</g>
<g>
<rect x="635.8" y="222.98" width="15.4" height="58.32" fill="#a6cde3" stroke="none" stroke-width="1" />
<rect x="651.2" y="279.52" width="15.1" height="1.78" fill="#2374b6" stroke="none" stroke-width="1" />
<rect x="681.8" y="192.26" width="15.2" height="89.04" fill="#a6cde3" stroke="none" stroke-width="1" />
<rect x="697" y="279.74" width="15" height="1.56" fill="#2374b6" stroke="none" stroke-width="1" />
<rect x="728" y="186.03" width="15.2" height="95.27" fill="#a6cde3" stroke="none" stroke-width="1" />
<rect x="743.2" y="278.41" width="15.1" height="2.89" fill="#2374b6" stroke="none" stroke-width="1" />
<polyline points="651.3,212.5 697.5,241.5 743.3,213.3" fill="none" stroke="#aaa" stroke-width="0.7" stroke-linejoin="round" stroke-linecap="round" stroke-dasharray="0.8 1.6"/>
<circle cx="651.3" cy="212.5" r="1" fill="#777" stroke="none" stroke-width="1" />
<circle cx="697.5" cy="241.5" r="1" fill="#777" stroke="none" stroke-width="1" />
<circle cx="743.3" cy="213.3" r="1" fill="#777" stroke="none" stroke-width="1" />
<rect x="627.6" y="170" width="138.7" height="111.3" fill="none" stroke="#4a4a4a" stroke-width="1.2" />
<line x1="766.3" y1="170" x2="766.3" y2="281.3" stroke="#8a8a8a" stroke-width="1.3" />
<line x1="625.6" y1="281.3" x2="627.6" y2="281.3" stroke="#333" stroke-width="0.8" />
<text x="624.4" y="283.9" font-size="7" font-weight="bold" fill="#111" text-anchor="end"  stroke="#111" stroke-width="0.22">0.0</text>
<line x1="766.3" y1="281.3" x2="768.3" y2="281.3" stroke="#666" stroke-width="0.8" />
<text x="769.7" y="283.9" font-size="7" font-weight="normal" fill="#555" text-anchor="start" >0.00</text>
<line x1="625.6" y1="259.04" x2="627.6" y2="259.04" stroke="#333" stroke-width="0.8" />
<text x="624.4" y="261.64" font-size="7" font-weight="bold" fill="#111" text-anchor="end"  stroke="#111" stroke-width="0.22">0.5</text>
<line x1="766.3" y1="259.04" x2="768.3" y2="259.04" stroke="#666" stroke-width="0.8" />
<text x="769.7" y="261.64" font-size="7" font-weight="normal" fill="#555" text-anchor="start" >0.01</text>
<line x1="625.6" y1="236.78" x2="627.6" y2="236.78" stroke="#333" stroke-width="0.8" />
<text x="624.4" y="239.38" font-size="7" font-weight="bold" fill="#111" text-anchor="end"  stroke="#111" stroke-width="0.22">1.0</text>
<line x1="766.3" y1="236.78" x2="768.3" y2="236.78" stroke="#666" stroke-width="0.8" />
<text x="769.7" y="239.38" font-size="7" font-weight="normal" fill="#555" text-anchor="start" >0.02</text>
<line x1="625.6" y1="214.52" x2="627.6" y2="214.52" stroke="#333" stroke-width="0.8" />
<text x="624.4" y="217.12" font-size="7" font-weight="bold" fill="#111" text-anchor="end"  stroke="#111" stroke-width="0.22">1.5</text>
<line x1="766.3" y1="214.52" x2="768.3" y2="214.52" stroke="#666" stroke-width="0.8" />
<text x="769.7" y="217.12" font-size="7" font-weight="normal" fill="#555" text-anchor="start" >0.03</text>
<line x1="625.6" y1="192.26" x2="627.6" y2="192.26" stroke="#333" stroke-width="0.8" />
<text x="624.4" y="194.86" font-size="7" font-weight="bold" fill="#111" text-anchor="end"  stroke="#111" stroke-width="0.22">2.0</text>
<line x1="766.3" y1="192.26" x2="768.3" y2="192.26" stroke="#666" stroke-width="0.8" />
<text x="769.7" y="194.86" font-size="7" font-weight="normal" fill="#555" text-anchor="start" >0.04</text>
<line x1="625.6" y1="170" x2="627.6" y2="170" stroke="#333" stroke-width="0.8" />
<text x="624.4" y="172.6" font-size="7" font-weight="bold" fill="#111" text-anchor="end"  stroke="#111" stroke-width="0.22">2.5</text>
<line x1="766.3" y1="170" x2="768.3" y2="170" stroke="#666" stroke-width="0.8" />
<text x="769.7" y="172.6" font-size="7" font-weight="normal" fill="#555" text-anchor="start" >0.05</text>
<line x1="651.2" y1="281.3" x2="651.2" y2="283.3" stroke="#333" stroke-width="0.8" />
<line x1="697" y1="281.3" x2="697" y2="283.3" stroke="#333" stroke-width="0.8" />
<line x1="743.2" y1="281.3" x2="743.2" y2="283.3" stroke="#333" stroke-width="0.8" />
<text transform="translate(651.5 293.4) rotate(-10)" font-size="7.2" font-weight="bold" fill="#222" stroke="#222" stroke-width="0.22" text-anchor="middle">PNIPAM gel 1</text>
<text transform="translate(698 293.4) rotate(-10)" font-size="7.2" font-weight="bold" fill="#222" stroke="#222" stroke-width="0.22" text-anchor="middle">PNIPAM gel 2</text>
<text transform="translate(744.5 293.4) rotate(-10)" font-size="7.2" font-weight="bold" fill="#222" stroke="#222" stroke-width="0.22" text-anchor="middle">PNIPAM gel 3</text>
<text transform="translate(608.5 232) rotate(-90)" font-size="7" font-weight="bold" fill="#222" stroke="#222" stroke-width="0.22" text-anchor="middle">ε″<tspan font-size="4.5" dy="1.57">c</tspan><tspan dy="-1.57">&#8203;</tspan> &amp; ε″<tspan font-size="4.5" dy="1.57">p</tspan><tspan dy="-1.57">&#8203;</tspan></text>
<text transform="translate(795 231) rotate(-90)" font-size="6.8" font-weight="bold" fill="#777" stroke="#777" stroke-width="0.22" text-anchor="middle">ε″<tspan font-size="4.6" dy="1.61">p</tspan><tspan dy="-1.61">&#8203;</tspan>/ε″</text>
<rect x="635" y="174.5" width="12" height="6" fill="#a6cde3" stroke="none" stroke-width="1" />
<rect x="635" y="183.8" width="12" height="5.7" fill="#2374b6" stroke="none" stroke-width="1" />
<text x="648.6" y="179.8" font-size="5.6" font-weight="bold" fill="#222" text-anchor="start"  stroke="#222" stroke-width="0.22">ε″<tspan font-size="3.8" dy="1.33">c</tspan><tspan dy="-1.33">&#8203;</tspan></text>
<text x="648.6" y="188.8" font-size="5.6" font-weight="bold" fill="#222" text-anchor="start"  stroke="#222" stroke-width="0.22">ε″<tspan font-size="3.8" dy="1.33">p</tspan><tspan dy="-1.33">&#8203;</tspan></text>
<text x="597.7" y="175" font-size="24" font-weight="bold" fill="#000" text-anchor="start"  stroke="#000" stroke-width="0.22">h</text>
</g>
<g>
<rect x="33.5" y="329.7" width="137.3" height="110.3" fill="#fdf9f4" stroke="none" stroke-width="1" />
<line x1="33.5" y1="403.23" x2="170.8" y2="403.23" stroke="#333" stroke-width="0.7" stroke-dasharray="1.2 1.4"/>
<path d="M33.5 432.6 C36.1 431.5 36.9 431.4 42.1 429 C47.2 426.5 45.5 427.6 50.7 424.6 C55.8 421.5 54.1 421.8 59.2 418.7 C64.4 415.6 62.7 419.1 67.8 414.3 C73 409.4 71.3 407.5 76.4 402.5 C81.6 397.5 80.6 400.8 85 397.7 C89.4 394.6 87.6 392.8 91 392.2 C94.3 391.7 92.8 393.5 96.1 395.9 C99.5 398.3 97.8 398.1 102.2 400.3 C106.5 402.5 105.6 399.9 110.7 403.2 C115.9 406.5 114.2 407.5 119.3 411.3 C124.5 415.2 122.7 414.1 127.9 416.1 C133 418.1 131.3 416.8 136.5 417.9 C141.6 419 139.9 418.9 145.1 419.8 C150.2 420.7 148.5 420.9 153.6 420.9 C158.8 420.9 157.1 419.8 162.2 419.8 C167.4 419.8 168.2 420.6 170.8 420.9" fill="none" stroke="#b7dba0" stroke-width="1.3" stroke-linejoin="round" stroke-linecap="round" />
<path d="M33.5 431.9 C36.1 429.9 36.9 429.7 42.1 425.3 C47.2 420.9 45.5 422.7 50.7 417.2 C55.8 411.7 54.1 412.2 59.2 406.9 C64.4 401.6 64 402 67.8 399.6 C71.7 397.1 69.5 397.7 72.1 398.8 C74.7 399.9 73.8 400.3 76.4 403.2 C79 406.2 78.1 406 80.7 408.7 C83.3 411.5 82.4 410.8 85 412.4 C87.6 414.1 86.7 413.7 89.3 414.3 C91.9 414.8 89.7 414 93.6 414.3 C97.4 414.5 97 414.4 102.2 415 C107.3 415.6 105.6 416.1 110.7 416.1 C115.9 416.1 114.2 416.7 119.3 415 C124.5 413.3 122.7 413.6 127.9 410.6 C133 407.6 131.3 405.6 136.5 405.1 C141.6 404.5 139.9 409.3 145.1 408.7 C150.2 408.2 148.5 404.3 153.6 403.2 C158.8 402.1 157.1 403.7 162.2 405.1 C167.4 406.4 168.2 406.9 170.8 407.6" fill="none" stroke="#f3a9cb" stroke-width="1.3" stroke-linejoin="round" stroke-linecap="round" />
<path d="M33.5 432.6 C36.1 430.7 36.9 430.2 42.1 426 C47.2 421.8 45.5 424.4 50.7 418.7 C55.8 412.9 54.1 414.9 59.2 406.9 C64.4 399 64 401 67.8 392.2 C71.7 383.4 69.5 385.2 72.1 377.5 C74.7 369.8 73.8 373.1 76.4 366.5 C79 359.8 78.1 359.6 80.7 355.4 C83.3 351.2 82.9 351.9 85 352.5 C87 353 85.8 352 87.6 357.3 C89.4 362.6 88.7 361.9 91 370.1 C93.3 378.4 91.9 374.9 95.3 384.9 C98.6 394.8 97.5 395 102.2 403.2 C106.8 411.5 105.6 406.9 110.7 412.4 C115.9 417.9 114.2 417.5 119.3 421.6 C124.5 425.7 122.7 423.3 127.9 426 C133 428.8 131.3 428.5 136.5 430.8 C141.6 433.1 139.9 432.6 145.1 433.7 C150.2 434.9 148.5 434.6 153.6 434.5 C158.8 434.4 157.1 434.5 162.2 433.4 C167.4 432.3 168.2 431.6 170.8 430.8" fill="none" stroke="#555" stroke-width="1.1" stroke-linejoin="round" stroke-linecap="round" />
<path d="M33.5 432.6 C36.1 431 36.9 431 42.1 427.1 C47.2 423.3 45.5 424.7 50.7 419.8 C55.8 414.8 54.1 416.1 59.2 410.6 C64.4 405.1 64 408 67.8 401.4 C71.7 394.8 69.5 395.9 72.1 388.5 C74.7 381.1 74.3 380.6 76.4 376.8 C78.5 372.9 76.9 374.9 79 375.7 C81 376.4 80.4 379 83.3 379.3 C86.1 379.7 85.3 374 88.4 376.8 C91.5 379.5 90.7 382.2 93.6 388.5 C96.4 394.8 95.3 393.5 97.9 397.7 C100.4 401.9 99.6 400.3 102.2 402.5 C104.7 404.7 103.9 403.2 106.4 405.1 C109 406.9 106.9 405.8 110.7 408.7 C114.6 411.7 114.2 412.5 119.3 415 C124.5 417.5 122.7 416.3 127.9 417.2 C133 418.1 131.3 417.2 136.5 417.9 C141.6 418.7 139.9 419 145.1 419.8 C150.2 420.6 148.5 420.8 153.6 420.5 C158.8 420.2 157.1 419.1 162.2 418.7 C167.4 418.2 168.2 418.9 170.8 419" fill="none" stroke="#29abe2" stroke-width="1.6" stroke-linejoin="round" stroke-linecap="round" />
<rect x="33.5" y="329.7" width="137.3" height="110.3" fill="none" stroke="#4a4a4a" stroke-width="1.2" />
<line x1="31.5" y1="440" x2="33.5" y2="440" stroke="#333" stroke-width="0.8" />
<text x="30.3" y="442.6" font-size="7" font-weight="bold" fill="#111" text-anchor="end"  stroke="#111" stroke-width="0.22">0.0</text>
<line x1="31.5" y1="421.62" x2="33.5" y2="421.62" stroke="#333" stroke-width="0.8" />
<text x="30.3" y="424.22" font-size="7" font-weight="bold" fill="#111" text-anchor="end"  stroke="#111" stroke-width="0.22">0.5</text>
<line x1="31.5" y1="403.23" x2="33.5" y2="403.23" stroke="#333" stroke-width="0.8" />
<text x="30.3" y="405.83" font-size="7" font-weight="bold" fill="#111" text-anchor="end"  stroke="#111" stroke-width="0.22">1.0</text>
<line x1="31.5" y1="384.85" x2="33.5" y2="384.85" stroke="#333" stroke-width="0.8" />
<text x="30.3" y="387.45" font-size="7" font-weight="bold" fill="#111" text-anchor="end"  stroke="#111" stroke-width="0.22">1.5</text>
<line x1="31.5" y1="366.47" x2="33.5" y2="366.47" stroke="#333" stroke-width="0.8" />
<text x="30.3" y="369.07" font-size="7" font-weight="bold" fill="#111" text-anchor="end"  stroke="#111" stroke-width="0.22">2.0</text>
<line x1="31.5" y1="348.08" x2="33.5" y2="348.08" stroke="#333" stroke-width="0.8" />
<text x="30.3" y="350.68" font-size="7" font-weight="bold" fill="#111" text-anchor="end"  stroke="#111" stroke-width="0.22">2.5</text>
<line x1="31.5" y1="329.7" x2="33.5" y2="329.7" stroke="#333" stroke-width="0.8" />
<text x="30.3" y="332.3" font-size="7" font-weight="bold" fill="#111" text-anchor="end"  stroke="#111" stroke-width="0.22">3.0</text>
<line x1="33.5" y1="440" x2="33.5" y2="442" stroke="#333" stroke-width="0.8" />
<text x="33.5" y="449.2" font-size="7" font-weight="bold" fill="#111" text-anchor="middle"  stroke="#111" stroke-width="0.22">2</text>
<line x1="50.66" y1="440" x2="50.66" y2="442" stroke="#333" stroke-width="0.8" />
<text x="50.66" y="449.2" font-size="7" font-weight="bold" fill="#111" text-anchor="middle"  stroke="#111" stroke-width="0.22">4</text>
<line x1="67.83" y1="440" x2="67.83" y2="442" stroke="#333" stroke-width="0.8" />
<text x="67.83" y="449.2" font-size="7" font-weight="bold" fill="#111" text-anchor="middle"  stroke="#111" stroke-width="0.22">6</text>
<line x1="84.99" y1="440" x2="84.99" y2="442" stroke="#333" stroke-width="0.8" />
<text x="84.99" y="449.2" font-size="7" font-weight="bold" fill="#111" text-anchor="middle"  stroke="#111" stroke-width="0.22">8</text>
<line x1="102.15" y1="440" x2="102.15" y2="442" stroke="#333" stroke-width="0.8" />
<text x="102.15" y="449.2" font-size="7" font-weight="bold" fill="#111" text-anchor="middle"  stroke="#111" stroke-width="0.22">10</text>
<line x1="119.31" y1="440" x2="119.31" y2="442" stroke="#333" stroke-width="0.8" />
<text x="119.31" y="449.2" font-size="7" font-weight="bold" fill="#111" text-anchor="middle"  stroke="#111" stroke-width="0.22">12</text>
<line x1="136.48" y1="440" x2="136.48" y2="442" stroke="#333" stroke-width="0.8" />
<text x="136.48" y="449.2" font-size="7" font-weight="bold" fill="#111" text-anchor="middle"  stroke="#111" stroke-width="0.22">14</text>
<line x1="153.64" y1="440" x2="153.64" y2="442" stroke="#333" stroke-width="0.8" />
<text x="153.64" y="449.2" font-size="7" font-weight="bold" fill="#111" text-anchor="middle"  stroke="#111" stroke-width="0.22">16</text>
<line x1="170.8" y1="440" x2="170.8" y2="442" stroke="#333" stroke-width="0.8" />
<text x="170.8" y="449.2" font-size="7" font-weight="bold" fill="#111" text-anchor="middle"  stroke="#111" stroke-width="0.22">18</text>
<text x="101.5" y="458" font-size="7.4" font-weight="bold" fill="#222" text-anchor="middle"  stroke="#222" stroke-width="0.22">Frequency(GHz)</text>
<text transform="translate(14 396) rotate(-90)" font-size="7" font-weight="bold" fill="#222" stroke="#222" stroke-width="0.22" text-anchor="middle">|Z<tspan font-size="4.2" dy="1.47">in</tspan><tspan dy="-1.47">&#8203;</tspan>/Z<tspan font-size="4.2" dy="1.47">0</tspan><tspan dy="-1.47">&#8203;</tspan>|</text>
<line x1="111.3" y1="338" x2="122.5" y2="338" stroke="#29abe2" stroke-width="1.6" />
<text x="125" y="340.2" font-size="6.1" font-weight="bold" fill="#222" text-anchor="start"  stroke="#222" stroke-width="0.22">PNIPAM gel 1</text>
<line x1="111.3" y1="345" x2="122.5" y2="345" stroke="#f3a9cb" stroke-width="1" />
<text x="125" y="347.2" font-size="6.1" font-weight="bold" fill="#222" text-anchor="start"  stroke="#222" stroke-width="0.22">PNIPAM gel 2</text>
<line x1="111.3" y1="352" x2="122.5" y2="352" stroke="#b7dba0" stroke-width="1" />
<text x="125" y="354.2" font-size="6.1" font-weight="bold" fill="#222" text-anchor="start"  stroke="#222" stroke-width="0.22">PNIPAM gel 3</text>
<line x1="111.3" y1="359" x2="122.5" y2="359" stroke="#555" stroke-width="1" />
<text x="125" y="361.2" font-size="6.1" font-weight="bold" fill="#222" text-anchor="start"  stroke="#222" stroke-width="0.22">PNIPAM gel 2M</text>
<text x="2.8" y="340.2" font-size="24" font-weight="bold" fill="#000" text-anchor="start"  stroke="#000" stroke-width="0.22">i</text>
</g>
<g>
<clipPath id="cj"><circle cx="301.3" cy="387.5" r="58.6"/></clipPath>
<g clip-path="url(#cj)" fill="none" stroke="#e4e4e4" stroke-width="0.7">
<circle cx="311.07" cy="387.5" r="48.83" fill="none" stroke="#dcdcdc" stroke-width="0.7" />
<circle cx="320.83" cy="387.5" r="39.07" fill="none" stroke="#dcdcdc" stroke-width="0.7" />
<circle cx="330.6" cy="387.5" r="29.3" fill="none" stroke="#dcdcdc" stroke-width="0.7" />
<circle cx="340.37" cy="387.5" r="19.53" fill="none" stroke="#dcdcdc" stroke-width="0.7" />
<circle cx="350.13" cy="387.5" r="9.77" fill="none" stroke="#dcdcdc" stroke-width="0.7" />
<circle cx="359.9" cy="94.5" r="293" fill="none" stroke="#dcdcdc" stroke-width="0.7" />
<circle cx="359.9" cy="680.5" r="293" fill="none" stroke="#dcdcdc" stroke-width="0.7" />
<circle cx="359.9" cy="270.3" r="117.2" fill="none" stroke="#dcdcdc" stroke-width="0.7" />
<circle cx="359.9" cy="504.7" r="117.2" fill="none" stroke="#dcdcdc" stroke-width="0.7" />
<circle cx="359.9" cy="328.9" r="58.6" fill="none" stroke="#dcdcdc" stroke-width="0.7" />
<circle cx="359.9" cy="446.1" r="58.6" fill="none" stroke="#dcdcdc" stroke-width="0.7" />
<circle cx="359.9" cy="358.2" r="29.3" fill="none" stroke="#dcdcdc" stroke-width="0.7" />
<circle cx="359.9" cy="416.8" r="29.3" fill="none" stroke="#dcdcdc" stroke-width="0.7" />
<circle cx="359.9" cy="375.78" r="11.72" fill="none" stroke="#dcdcdc" stroke-width="0.7" />
<circle cx="359.9" cy="399.22" r="11.72" fill="none" stroke="#dcdcdc" stroke-width="0.7" />
</g>
<circle cx="302.5" cy="386.3" r="19.7" fill="#d4d4d4" stroke="none" stroke-width="0" fill-opacity="0.85"/>
<circle cx="301.3" cy="387.5" r="58.6" fill="none" stroke="#555" stroke-width="1.4" />
<line x1="242.7" y1="387.5" x2="359.9" y2="387.5" stroke="#444" stroke-width="1.3" />
<path d="M265 343.8 C268.3 341.2 267.5 340.4 275 336.2 C282.5 332.1 278.3 333.5 287.5 331.2 C296.7 329 292.5 329.1 302.5 329.5 C312.5 329.9 308.3 329 317.5 332.5 C326.7 336 322.9 334.2 330 340 C337.1 345.8 334.2 343.3 338.8 350 C343.3 356.7 341.7 352.5 343.8 360 C345.8 367.5 345 364.2 345 372.5 C345 380.8 345.8 376.7 343.8 385 C341.7 393.3 343.3 390.4 338.8 397.5 C334.2 404.6 336.7 402.1 330 406.2 C323.3 410.4 326.2 409.2 318.8 410 C311.2 410.8 314.2 410.8 307.5 408.8 C300.8 406.7 303.8 407.5 298.8 403.8 C293.8 400 296.2 400.4 292.5 397.5 C288.8 394.6 289.2 395.8 287.5 395" fill="none" stroke="#a9d48c" stroke-width="1.1" stroke-linejoin="round" stroke-linecap="butt" stroke-dasharray="1.3 1.5"/>
<path d="M275 342.5 C278.3 340.4 277.5 339.2 285 336.2 C292.5 333.3 290 334.2 297.5 333.8 C305 333.3 300.8 332.5 307.5 335 C314.2 337.5 312.5 336.2 317.5 341.2 C322.5 346.2 320.2 343.8 322.5 350 C324.8 356.2 323.7 353.3 324.5 360 C325.3 366.7 325.2 363.8 325 370 C324.8 376.2 325.4 372.9 323.8 378.8 C322.1 384.6 323.3 381.7 320 387.5 C316.7 393.3 318.3 392.5 313.8 396.2 C309.2 400 311.2 398.8 306.2 398.8 C301.2 398.8 302.2 399.2 298.8 396.2 C295.2 393.3 296.2 394.2 295.8 390 C295.3 385.8 294.8 386.7 297.5 383.8 C300.2 380.8 299.6 381.2 303.8 381.2 C307.9 381.2 307.5 380.8 310 383.8 C312.5 386.7 312.1 386.7 311.2 390 C310.4 393.3 308.8 392.5 307.5 393.8" fill="none" stroke="#f29cc2" stroke-width="1.1" stroke-linejoin="round" stroke-linecap="butt" stroke-dasharray="1.3 1.5"/>
<path d="M282.5 340 C285.8 339 285.8 337.8 292.5 337 C299.2 336.2 296.7 336.1 302.5 337.5 C308.3 338.9 305.8 337.9 310 341.2 C314.2 344.6 312.1 342.1 315 347.5 C317.9 352.9 317.1 351.2 318.8 357.5 C320.4 363.8 317.9 362.1 320 366.2 C322.1 370.4 321.2 367.5 325 370 C328.8 372.5 327.5 370.4 331.2 373.8 C335 377.1 334.2 374.6 336.2 380 C338.3 385.4 337.9 383.3 337.5 390 C337.1 396.7 337.9 393.3 335 400 C332.1 406.7 333.8 403.8 328.8 410 C323.8 416.2 326.2 414.2 320 418.8 C313.8 423.3 316.7 421.7 310 423.8 C303.3 425.8 306.7 425.4 300 425 C293.3 424.6 296.7 425.4 290 422.5 C283.3 419.6 285.8 420.8 280 416.2 C274.2 411.7 276.2 413.8 272.5 408.8 C268.8 403.8 270 403.8 268.8 401.2" fill="none" stroke="#3a3a3a" stroke-width="1.2" stroke-linejoin="round" stroke-linecap="butt" stroke-dasharray="1.3 1.5"/>
<path d="M271.2 340 C275 338.3 274.6 337.7 282.5 335 C290.4 332.3 286.7 332.4 295 332 C303.3 331.6 299.2 331.2 307.5 333.8 C315.8 336.2 311.7 334.9 320 339.5 C328.3 344.1 325.4 341.5 332.5 347.5 C339.6 353.5 337.2 350 341.2 357.5 C345.2 365 343.7 361.7 344.5 370 C345.3 378.3 344.8 375 343.8 382.5 C342.7 390 344.2 385.4 341.2 392.5 C338.3 399.6 340.4 397.5 335 403.8 C329.6 410 332.1 407.9 325 411.2 C317.9 414.6 320.4 413.8 313.8 413.8 C307.1 413.8 310.4 413.8 305 411.2 C299.6 408.8 301.2 410 297.5 406.2 C293.8 402.5 295.8 404.6 293.8 400 C291.7 395.4 291.5 397.5 291.2 392.5 C291 387.5 290.5 389.2 293 385 C295.5 380.8 294.3 382.3 298.8 380 C303.2 377.7 301.2 378 306.2 378 C311.2 378 310 377.7 313.8 380 C317.5 382.3 316.7 380.8 317.5 385 C318.3 389.2 318.3 388.3 316.2 392.5 C314.2 396.7 315 395.8 311.2 397.5 C307.5 399.2 307.1 397.5 305 397.5" fill="none" stroke="#1fa2e0" stroke-width="1.4" stroke-linejoin="round" stroke-linecap="butt" stroke-dasharray="1.5 1.5"/>
<circle cx="271.25" cy="340" r="1.3" fill="none" stroke="#1fa2e0" stroke-width="0.7" />
<circle cx="265" cy="343.75" r="1.2" fill="none" stroke="#888" stroke-width="0.6" />
<circle cx="275" cy="342.5" r="1.2" fill="none" stroke="#f29cc2" stroke-width="0.6" />
<circle cx="268.75" cy="401.25" r="0.9" fill="#444" stroke="none" stroke-width="1" />
<circle cx="287.5" cy="395" r="1.1" fill="#a9d48c" stroke="none" stroke-width="1" />
<circle cx="289.25" cy="394.5" r="1.1" fill="#1fa2e0" stroke="none" stroke-width="1" />
<text x="301.25" y="327.3" font-size="4.8" font-weight="bold" fill="#222" text-anchor="middle"  stroke="#222" stroke-width="0.22">1.0j</text>
<text x="262.5" y="338.8" font-size="4.8" font-weight="bold" fill="#222" text-anchor="middle"  stroke="#222" stroke-width="0.22">0.5j</text>
<text x="340.5" y="338.8" font-size="4.8" font-weight="bold" fill="#222" text-anchor="middle"  stroke="#222" stroke-width="0.22">2.0j</text>
<text x="241.25" y="365.55" font-size="4.8" font-weight="bold" fill="#222" text-anchor="middle"  stroke="#222" stroke-width="0.22">0.2j</text>
<text x="361.25" y="365.55" font-size="4.8" font-weight="bold" fill="#222" text-anchor="middle"  stroke="#222" stroke-width="0.22">5.0j</text>
<text x="241.25" y="413.8" font-size="4.8" font-weight="bold" fill="#222" text-anchor="middle"  stroke="#222" stroke-width="0.22">-0.2j</text>
<text x="361.25" y="413.8" font-size="4.8" font-weight="bold" fill="#222" text-anchor="middle"  stroke="#222" stroke-width="0.22">-5.0j</text>
<text x="262.5" y="440.55" font-size="4.8" font-weight="bold" fill="#222" text-anchor="middle"  stroke="#222" stroke-width="0.22">-0.5j</text>
<text x="340.5" y="440.55" font-size="4.8" font-weight="bold" fill="#222" text-anchor="middle"  stroke="#222" stroke-width="0.22">-2.0j</text>
<text x="301.25" y="452.3" font-size="4.8" font-weight="bold" fill="#222" text-anchor="middle"  stroke="#222" stroke-width="0.22">-1.0j</text>
<text x="262.5" y="393.05" font-size="4.8" font-weight="bold" fill="#222" text-anchor="middle"  stroke="#222" stroke-width="0.22">0.2</text>
<text x="283.75" y="393.05" font-size="4.8" font-weight="bold" fill="#222" text-anchor="middle"  stroke="#222" stroke-width="0.22">0.5</text>
<text x="302.5" y="393.05" font-size="4.8" font-weight="bold" fill="#222" text-anchor="middle"  stroke="#222" stroke-width="0.22">1.0</text>
<text x="321.25" y="393.05" font-size="4.8" font-weight="bold" fill="#222" text-anchor="middle"  stroke="#222" stroke-width="0.22">2.0</text>
<text x="342" y="393.05" font-size="4.8" font-weight="bold" fill="#222" text-anchor="middle"  stroke="#222" stroke-width="0.22">5.0</text>
<line x1="253.75" y1="457" x2="261.75" y2="457" stroke="#1fa2e0" stroke-width="1.2" stroke-dasharray="1.3 1.5"/>
<text x="263.75" y="458.9" font-size="5.3" font-weight="bold" fill="#222" text-anchor="start"  stroke="#222" stroke-width="0.22">PNIPAM gel 1</text>
<line x1="300" y1="457" x2="308" y2="457" stroke="#f29cc2" stroke-width="0.9" stroke-dasharray="1.3 1.5"/>
<text x="310" y="458.9" font-size="5.3" font-weight="bold" fill="#222" text-anchor="start"  stroke="#222" stroke-width="0.22">PNIPAM gel 2</text>
<line x1="253.75" y1="463.75" x2="261.75" y2="463.75" stroke="#a9d48c" stroke-width="0.9" stroke-dasharray="1.3 1.5"/>
<text x="263.75" y="465.65" font-size="5.3" font-weight="bold" fill="#222" text-anchor="start"  stroke="#222" stroke-width="0.22">PNIPAM gel 3</text>
<line x1="300" y1="463.75" x2="308" y2="463.75" stroke="#444" stroke-width="0.8" stroke-dasharray="1.3 1.5"/>
<text x="310" y="465.65" font-size="5.3" font-weight="bold" fill="#222" text-anchor="start"  stroke="#222" stroke-width="0.22">PNIPAM gel 2M</text>
<text x="203.2" y="340" font-size="24" font-weight="bold" fill="#000" text-anchor="start"  stroke="#000" stroke-width="0.22">j</text>
</g>
<g>
<defs><linearGradient id="gl0" x1="0" y1="0" x2="0" y2="1"><stop offset="0" stop-color="#8f9ad6"/><stop offset="0.5" stop-color="#6373c0"/><stop offset="1" stop-color="#8f9ad6"/></linearGradient><linearGradient id="gl1" x1="0" y1="0" x2="0" y2="1"><stop offset="0" stop-color="#d5d8ef"/><stop offset="0.5" stop-color="#bcc0e4"/><stop offset="1" stop-color="#d5d8ef"/></linearGradient><linearGradient id="gl2" x1="0" y1="0" x2="0" y2="1"><stop offset="0" stop-color="#f6aa64"/><stop offset="0.5" stop-color="#f08a32"/><stop offset="1" stop-color="#f6aa64"/></linearGradient><linearGradient id="gl3" x1="0" y1="0" x2="0" y2="1"><stop offset="0" stop-color="#f8d8b8"/><stop offset="0.5" stop-color="#f2c091"/><stop offset="1" stop-color="#f8d8b8"/></linearGradient><linearGradient id="gl4" x1="0" y1="0" x2="0" y2="1"><stop offset="0" stop-color="#5fc172"/><stop offset="0.5" stop-color="#2fa84a"/><stop offset="1" stop-color="#5fc172"/></linearGradient><linearGradient id="gl5" x1="0" y1="0" x2="0" y2="1"><stop offset="0" stop-color="#c8e6b8"/><stop offset="0.5" stop-color="#a9d692"/><stop offset="1" stop-color="#c8e6b8"/></linearGradient><linearGradient id="gl6" x1="0" y1="0" x2="0" y2="1"><stop offset="0" stop-color="#f6bdd4"/><stop offset="0.5" stop-color="#ee98bc"/><stop offset="1" stop-color="#f6bdd4"/></linearGradient><linearGradient id="gl7" x1="0" y1="0" x2="0" y2="1"><stop offset="0" stop-color="#4fb9ea"/><stop offset="0.5" stop-color="#169bdc"/><stop offset="1" stop-color="#4fb9ea"/></linearGradient><linearGradient id="gl8" x1="0" y1="0" x2="0" y2="1"><stop offset="0" stop-color="#bfe1f4"/><stop offset="0.5" stop-color="#98cdec"/><stop offset="1" stop-color="#bfe1f4"/></linearGradient><linearGradient id="gl9" x1="0" y1="0" x2="0" y2="1"><stop offset="0" stop-color="#e8687c"/><stop offset="0.5" stop-color="#dc4a62"/><stop offset="1" stop-color="#e8687c"/></linearGradient></defs>
<rect x="640.75" y="336.25" width="20.5" height="6.25" fill="url(#gl0)" stroke="none" stroke-width="1" />
<text transform="translate(732 341.98) scale(0.82 1)" font-size="7.2" font-weight="normal" fill="#1a1a1a" stroke="#1a1a1a" stroke-width="0.15" text-anchor="end">CF/CoNi@C/TPU</text>
<rect x="652.5" y="346.25" width="21.25" height="5.75" fill="url(#gl1)" stroke="none" stroke-width="1" />
<text transform="translate(732 351.73) scale(0.82 1)" font-size="7.2" font-weight="normal" fill="#1a1a1a" stroke="#1a1a1a" stroke-width="0.15" text-anchor="end">CNF-Fe<tspan font-size="4" dy="1.4">3</tspan><tspan dy="-1.4">&#8203;</tspan>O<tspan font-size="4" dy="1.4">4</tspan><tspan dy="-1.4">&#8203;</tspan>-hydrogels</text>
<rect x="654.5" y="356.25" width="17.25" height="5.75" fill="url(#gl2)" stroke="none" stroke-width="1" />
<text transform="translate(732 361.73) scale(0.82 1)" font-size="7.2" font-weight="normal" fill="#1a1a1a" stroke="#1a1a1a" stroke-width="0.15" text-anchor="end">CoM@CoNiC-F</text>
<rect x="651.75" y="366" width="7.5" height="5.75" fill="url(#gl3)" stroke="none" stroke-width="1" />
<text transform="translate(732 371.48) scale(0.82 1)" font-size="7.2" font-weight="normal" fill="#1a1a1a" stroke="#1a1a1a" stroke-width="0.15" text-anchor="end">Iodide-based</text>
<rect x="661.25" y="375.75" width="21.25" height="6" fill="url(#gl4)" stroke="none" stroke-width="1" />
<text transform="translate(732 381.35) scale(0.82 1)" font-size="7.2" font-weight="normal" fill="#1a1a1a" stroke="#1a1a1a" stroke-width="0.15" text-anchor="end">Ionogel-4M</text>
<rect x="656.25" y="385.75" width="32.5" height="6" fill="url(#gl5)" stroke="none" stroke-width="1" />
<text transform="translate(732 391.35) scale(0.82 1)" font-size="7.2" font-weight="normal" fill="#1a1a1a" stroke="#1a1a1a" stroke-width="0.15" text-anchor="end">PDH-FRM</text>
<rect x="650.75" y="395.75" width="36.25" height="5.75" fill="url(#gl6)" stroke="none" stroke-width="1" />
<text transform="translate(732 401.23) scale(0.82 1)" font-size="7.2" font-weight="normal" fill="#1a1a1a" stroke="#1a1a1a" stroke-width="0.15" text-anchor="end">PA<tspan font-size="4" dy="1.4">3</tspan><tspan dy="-1.4">&#8203;</tspan>HA<tspan font-size="4" dy="1.4">5</tspan><tspan dy="-1.4">&#8203;</tspan></text>
<rect x="662" y="405.5" width="26" height="5.75" fill="url(#gl7)" stroke="none" stroke-width="1" />
<text transform="translate(732 410.98) scale(0.82 1)" font-size="7.2" font-weight="normal" fill="#1a1a1a" stroke="#1a1a1a" stroke-width="0.15" text-anchor="end">S-NiSe/HG/SPU</text>
<rect x="652" y="415.5" width="36.25" height="5.75" fill="url(#gl8)" stroke="none" stroke-width="1" />
<text transform="translate(732 420.98) scale(0.82 1)" font-size="7.2" font-weight="normal" fill="#1a1a1a" stroke="#1a1a1a" stroke-width="0.15" text-anchor="end">LiCl@HGAFs</text>
<rect x="640" y="425" width="130.75" height="5.75" fill="url(#gl9)" stroke="none" stroke-width="1" />
<text x="718.75" y="429.25" font-size="5" font-weight="bold" fill="#222" text-anchor="middle"  stroke="#222" stroke-width="0.22">This Work</text>
<rect x="628.8" y="329.5" width="142" height="108.5" fill="none" stroke="#333" stroke-width="1.5" />
<text x="768" y="337" font-size="5.4" font-weight="bold" fill="#222" text-anchor="end"  stroke="#222" stroke-width="0.22">&lt;-10dB</text>
<line x1="640.01" y1="438" x2="640.01" y2="440.2" stroke="#333" stroke-width="0.8" />
<text x="640.01" y="448" font-size="7.2" font-weight="bold" fill="#222" text-anchor="middle"  stroke="#222" stroke-width="0.22">5</text>
<line x1="658.69" y1="438" x2="658.69" y2="440.2" stroke="#333" stroke-width="0.8" />
<text x="658.69" y="448" font-size="7.2" font-weight="bold" fill="#222" text-anchor="middle"  stroke="#222" stroke-width="0.22">10</text>
<line x1="677.38" y1="438" x2="677.38" y2="440.2" stroke="#333" stroke-width="0.8" />
<text x="677.38" y="448" font-size="7.2" font-weight="bold" fill="#222" text-anchor="middle"  stroke="#222" stroke-width="0.22">15</text>
<line x1="696.06" y1="438" x2="696.06" y2="440.2" stroke="#333" stroke-width="0.8" />
<text x="696.06" y="448" font-size="7.2" font-weight="bold" fill="#222" text-anchor="middle"  stroke="#222" stroke-width="0.22">20</text>
<line x1="714.75" y1="438" x2="714.75" y2="440.2" stroke="#333" stroke-width="0.8" />
<text x="714.75" y="448" font-size="7.2" font-weight="bold" fill="#222" text-anchor="middle"  stroke="#222" stroke-width="0.22">25</text>
<line x1="733.43" y1="438" x2="733.43" y2="440.2" stroke="#333" stroke-width="0.8" />
<text x="733.43" y="448" font-size="7.2" font-weight="bold" fill="#222" text-anchor="middle"  stroke="#222" stroke-width="0.22">30</text>
<line x1="752.12" y1="438" x2="752.12" y2="440.2" stroke="#333" stroke-width="0.8" />
<text x="752.12" y="448" font-size="7.2" font-weight="bold" fill="#222" text-anchor="middle"  stroke="#222" stroke-width="0.22">35</text>
<line x1="770.8" y1="438" x2="770.8" y2="440.2" stroke="#333" stroke-width="0.8" />
<text x="770.8" y="448" font-size="7.2" font-weight="bold" fill="#222" text-anchor="middle"  stroke="#222" stroke-width="0.22">40</text>
<text x="700" y="459.5" font-size="7.6" font-weight="bold" fill="#222" text-anchor="middle"  stroke="#222" stroke-width="0.22">Frequency (GHz)</text>
<text x="604.6" y="340.5" font-size="24" font-weight="bold" fill="#000" text-anchor="start"  stroke="#000" stroke-width="0.22">l</text>
</g>
<defs>
<radialGradient id="gy" cx="0.5" cy="0.5" r="0.5"><stop offset="0" stop-color="#ffe07a"/><stop offset="0.78" stop-color="#f8c640"/><stop offset="1" stop-color="#f8c640" stop-opacity="0.2"/></radialGradient>
<radialGradient id="gg" cx="0.5" cy="0.5" r="0.5"><stop offset="0" stop-color="#6cc070"/><stop offset="0.78" stop-color="#86cc88"/><stop offset="1" stop-color="#a5d8a5" stop-opacity="0.2"/></radialGradient>
<linearGradient id="gw" x1="0" y1="0" x2="1" y2="0"><stop offset="0" stop-color="#f39a90"/><stop offset="0.45" stop-color="#ea4038"/><stop offset="1" stop-color="#e01a1a"/></linearGradient>
<linearGradient id="garrow" x1="0" y1="0" x2="1" y2="0"><stop offset="0" stop-color="#e2e9f6"/><stop offset="0.18" stop-color="#b4c8e8"/><stop offset="0.42" stop-color="#5a8ccc"/><stop offset="0.55" stop-color="#3f78c0"/><stop offset="0.72" stop-color="#6a98d2"/><stop offset="0.9" stop-color="#c0d2ec"/><stop offset="1" stop-color="#e2eaf6"/></linearGradient>
<linearGradient id="gblue" x1="0" y1="1" x2="1" y2="0"><stop offset="0" stop-color="#9aa8d8"/><stop offset="0.3" stop-color="#2a4a9a"/><stop offset="1" stop-color="#15307a"/></linearGradient>
<filter id="spkT" x="0" y="0" width="100%" height="100%" color-interpolation-filters="sRGB"><feTurbulence type="fractalNoise" baseFrequency="0.34" numOctaves="2" seed="3" result="n"/><feColorMatrix in="n" type="matrix" values="0 0 0 0 0.53  0 0 0 0 0.74  0 0 0 0 0.93  0 0 0 8 -4.15"/><feComposite in2="SourceGraphic" operator="in"/></filter>
<filter id="spkL" x="0" y="0" width="100%" height="100%" color-interpolation-filters="sRGB"><feTurbulence type="fractalNoise" baseFrequency="0.34" numOctaves="2" seed="7" result="n"/><feColorMatrix in="n" type="matrix" values="0 0 0 0 0.38  0 0 0 0 0.63  0 0 0 0 0.88  0 0 0 8 -3.7"/><feComposite in2="SourceGraphic" operator="in"/></filter>
<filter id="spkR" x="0" y="0" width="100%" height="100%" color-interpolation-filters="sRGB"><feTurbulence type="fractalNoise" baseFrequency="0.34" numOctaves="2" seed="11" result="n"/><feColorMatrix in="n" type="matrix" values="0 0 0 0 0.45  0 0 0 0 0.68  0 0 0 0 0.90  0 0 0 8 -3.9"/><feComposite in2="SourceGraphic" operator="in"/></filter>
<filter id="glow" x="-20%" y="-20%" width="140%" height="140%"><feGaussianBlur stdDeviation="0.5"/></filter>
</defs>
<g>
<clipPath id="cm1"><rect x="20.5" y="492.4" width="174.8" height="116.4"/></clipPath>
<g clip-path="url(#cm1)">
<rect x="20.5" y="492.4" width="174.8" height="116.4" fill="#7ba8d8" stroke="none" stroke-width="1" />
<path d="M40 515 C45.4 512 49.1 511.4 56.2 512.5 C63.4 513.6 60.8 513.9 63.8 518.8 C66.8 523.6 62.9 523.7 66.2 528.8 C69.6 533.8 67.1 533.3 75 535.5 C82.9 537.7 82 536 92.5 536 C103 536 99.5 535.4 110 535.5 C120.5 535.6 117 535.3 127.5 536.2 C138 537.2 136 536.1 145 538.8 C154 541.4 153.4 540.5 157.5 545 C161.6 549.5 161 550.2 158.8 553.8 C156.5 557.3 155.6 556.6 150 556.8 C144.4 556.9 146 553.9 140 554.2 C134 554.6 136 557.2 130 558 C124 558.8 126 558.4 120 556.8 C114 555.1 117.5 554.1 110 552.5 C102.5 550.9 104 552 95 551.2 C86 550.5 87.5 549.6 80 550 C72.5 550.4 74.9 550.2 70 552.5 C65.1 554.8 66.4 553.4 63.8 557.5 C61.1 561.6 60.5 561 61.2 566.2 C62 571.5 62.9 570.9 66.2 575 C69.6 579.1 68.4 579.2 72.5 580 C76.6 580.8 77.2 576.4 80 577.5 C82.8 578.6 83.2 580.6 81.8 583.8 C80.2 586.9 80 587.2 75 588 C70 588.8 70.2 588.6 65 586.2 C59.8 583.9 61.2 584.1 57.5 580 C53.8 575.9 56.2 575.9 52.5 572.5 C48.8 569.1 49.5 568.8 45 568.8 C40.5 568.8 41.2 569.1 37.5 572.5 C33.8 575.9 36.2 576.9 32.5 580 C28.8 583.1 30.2 582.6 25 583 C19.8 583.4 18 586.6 15 581.2 C12 575.9 11.2 570.6 15 565 C18.8 559.4 21.9 565.5 27.5 562.5 C33.1 559.5 30.8 560.2 33.8 555 C36.8 549.8 35.2 551.8 37.5 545 C39.8 538.2 41 539.2 41.2 532.5 C41.5 525.8 38.6 527.8 38.2 522.5 C37.9 517.2 34.6 518 40 515Z" fill="#d0e3f4" />
<path d="M73.8 507.5 C77.9 504.5 78.6 504.2 85 505 C91.4 505.8 89.8 511.5 95 510 C100.2 508.5 98 505 102.5 500 C107 495 104 495.5 110 493.2 C116 491 116.7 491.2 122.5 492.5 C128.3 493.8 127.6 493 129.2 497.5 C130.9 502 130.8 502.6 128 507.5 C125.2 512.4 125.4 511.4 120 513.8 C114.6 516.1 115.8 513.9 110 515.5 C104.2 517.1 104.8 515.4 100.5 519 C96.2 522.6 99.4 523.5 95.5 527.5 C91.6 531.5 92.5 531.4 87.5 532.5 C82.5 533.6 82.9 533.9 78.8 531.2 C74.6 528.6 76 528.6 73.8 523.8 C71.5 518.9 71.2 519.9 71.2 515 C71.2 510.1 69.6 510.5 73.8 507.5Z" fill="#d0e3f4" />
<path d="M185 485 C190.7 477.5 197.2 465.9 202.5 485 C207.8 504.1 206.1 530.6 202.5 548.8 C198.9 566.9 195.8 549.6 190.5 545.5 C185.2 541.4 187.4 541.1 185 535 C182.6 528.9 182.9 532.5 182.5 525 C182.1 517.5 182.8 522 183.5 510 C184.2 498 179.3 492.5 185 485Z" fill="#d0e3f4" />
<path d="M172.5 565.5 C175.9 562.7 173.5 562.1 182.5 561.2 C191.5 560.4 196.5 553.5 202.5 562.5 C208.5 571.5 206.2 583.6 202.5 591.2 C198.8 598.9 196 590.5 190 588 C184 585.5 187 586.1 182.5 583 C178 579.9 178.4 581.2 175 577.5 C171.6 573.8 172 574.1 171.2 570.5 C170.5 566.9 169.1 568.3 172.5 565.5Z" fill="#d0e3f4" />
<path d="M110 577.5 C112.2 572.9 114 573.8 120 574.5 C126 575.2 124 576.1 130 580 C136 583.9 133.2 584.5 140 587.5 C146.8 590.5 145.8 587.8 152.5 590 C159.2 592.2 157.2 590.5 162.5 595 C167.8 599.5 166.6 598.2 170 605 C173.4 611.8 190.6 613.8 173.8 617.5 C156.9 621.2 130.8 622.8 113.8 617.5 C96.7 612.2 117.4 608.2 117 600 C116.6 591.8 114.6 596.8 112.5 590 C110.4 583.2 107.8 582.1 110 577.5Z" fill="#d0e3f4" />
<path d="M15 603 C21 597.8 24.5 601.5 35 600 C45.5 598.5 42.5 597.9 50 598 C57.5 598.1 55.6 594.6 60 600.5 C64.3 606.4 78 612.4 64.5 617.5 C51 622.6 29.9 621.9 15 617.5 C0.1 613.1 9 608.2 15 603Z" fill="#d0e3f4" />
<path d="M27.5 552.5 C27.1 548.8 25.8 549.8 26.2 540 C26.7 530.2 28.8 532 29 520 C29.2 508 25.2 505.2 27 500 C28.8 494.8 29.6 499.7 35 502.5 C40.4 505.3 37.5 508.5 45 509.2 C52.5 510 51.8 507.8 60 505 C68.2 502.2 65.6 501.6 72.5 500 C79.4 498.4 79.8 499.6 83 499.5" fill="none" stroke="#52749c" stroke-width="2.1" stroke-linejoin="round" stroke-linecap="round" stroke-opacity="0.85"/>
<path d="M129.5 491.2 C128.9 496.1 130.3 499.6 127.5 507.5 C124.7 515.4 124.5 512.6 120 517.5 C115.5 522.4 113.2 520.3 112.5 523.8 C111.8 527.2 110.8 527.1 117.5 529 C124.2 530.9 125.2 530 135 530 C144.8 530 142.5 527.5 150 529 C157.5 530.5 156.1 530.2 160 535 C163.9 539.8 162.8 538.2 163 545 C163.2 551.8 159.9 550 160.5 557.5 C161.1 565 162.2 562.5 165 570 C167.8 577.5 166.8 576.4 170 582.5 C173.2 588.6 170.8 587.4 175.5 590.5 C180.2 593.6 182.5 592.2 185.5 593" fill="none" stroke="#52749c" stroke-width="2.1" stroke-linejoin="round" stroke-linecap="round" stroke-opacity="0.85"/>
<path d="M167 493.8 C167.9 500.1 167.6 503.4 170 515 C172.4 526.6 170.3 524.2 175 532.5 C179.7 540.8 183.2 538 185.5 542.5 C187.8 547 187.2 544.5 182.5 547.5 C177.8 550.5 176.2 547.9 170 552.5 C163.8 557.1 164.4 559.9 162 563" fill="none" stroke="#52749c" stroke-width="2.1" stroke-linejoin="round" stroke-linecap="round" stroke-opacity="0.85"/>
<path d="M23.8 600.5 C28.6 600 31.4 601.8 40 598.8 C48.6 595.8 44.2 593.9 52.5 590.5 C60.8 587.1 58.5 589.9 67.5 587.5 C76.5 585.1 74.8 587.8 82.5 582.5 C90.2 577.2 91.3 576.6 93 570 C94.7 563.4 91.3 565 88 560.5 C84.7 556 83.8 556.6 82 555" fill="none" stroke="#52749c" stroke-width="2.1" stroke-linejoin="round" stroke-linecap="round" stroke-opacity="0.85"/>
<path d="M82 555 C86.7 558 89.1 560.4 97.5 565 C105.9 569.6 102.1 569.6 110 570.5 C117.9 571.4 116.2 566.6 123.8 568 C131.2 569.4 127.1 569.1 135 575 C142.9 580.9 145.5 583.8 150 587.5" fill="none" stroke="#52749c" stroke-width="2.1" stroke-linejoin="round" stroke-linecap="round" stroke-opacity="0.85"/>
<path d="M93.8 580 C95 583 97.2 584 98 590 C98.8 596 100.2 595.5 96.2 600 C92.3 604.5 88.4 603.5 85 605" fill="none" stroke="#52749c" stroke-width="2.1" stroke-linejoin="round" stroke-linecap="round" stroke-opacity="0.85"/>
<g transform="translate(35 512.5) rotate(-55)" stroke="#e8525e" stroke-width="0.75"><line x1="-3.4" y1="-2.7" x2="3.4" y2="-2.7"/><line x1="-3.4" y1="0" x2="3.4" y2="0"/><line x1="-3.4" y1="2.7" x2="3.4" y2="2.7"/></g>
<g transform="translate(47.5 510.5) rotate(-20)" stroke="#e8525e" stroke-width="0.75"><line x1="-3.4" y1="-2.7" x2="3.4" y2="-2.7"/><line x1="-3.4" y1="0" x2="3.4" y2="0"/><line x1="-3.4" y1="2.7" x2="3.4" y2="2.7"/></g>
<g transform="translate(127.5 516.25) rotate(-30)" stroke="#e8525e" stroke-width="0.75"><line x1="-3.4" y1="-2.7" x2="3.4" y2="-2.7"/><line x1="-3.4" y1="0" x2="3.4" y2="0"/><line x1="-3.4" y1="2.7" x2="3.4" y2="2.7"/></g>
<g transform="translate(123.75 501.25) rotate(80)" stroke="#e8525e" stroke-width="0.75"><line x1="-3.4" y1="-2.7" x2="3.4" y2="-2.7"/><line x1="-3.4" y1="0" x2="3.4" y2="0"/><line x1="-3.4" y1="2.7" x2="3.4" y2="2.7"/></g>
<g transform="translate(170 532.5) rotate(-25)" stroke="#e8525e" stroke-width="0.75"><line x1="-3.4" y1="-2.7" x2="3.4" y2="-2.7"/><line x1="-3.4" y1="0" x2="3.4" y2="0"/><line x1="-3.4" y1="2.7" x2="3.4" y2="2.7"/></g>
<g transform="translate(33.75 545) rotate(-35)" stroke="#e8525e" stroke-width="0.75"><line x1="-3.4" y1="-2.7" x2="3.4" y2="-2.7"/><line x1="-3.4" y1="0" x2="3.4" y2="0"/><line x1="-3.4" y1="2.7" x2="3.4" y2="2.7"/></g>
<g transform="translate(81.25 564.5) rotate(35)" stroke="#e8525e" stroke-width="0.75"><line x1="-3.4" y1="-2.7" x2="3.4" y2="-2.7"/><line x1="-3.4" y1="0" x2="3.4" y2="0"/><line x1="-3.4" y1="2.7" x2="3.4" y2="2.7"/></g>
<g transform="translate(120 558) rotate(-35)" stroke="#e8525e" stroke-width="0.75"><line x1="-3.4" y1="-2.7" x2="3.4" y2="-2.7"/><line x1="-3.4" y1="0" x2="3.4" y2="0"/><line x1="-3.4" y1="2.7" x2="3.4" y2="2.7"/></g>
<g transform="translate(132.5 568) rotate(0)" stroke="#e8525e" stroke-width="0.75"><line x1="-3.4" y1="-2.7" x2="3.4" y2="-2.7"/><line x1="-3.4" y1="0" x2="3.4" y2="0"/><line x1="-3.4" y1="2.7" x2="3.4" y2="2.7"/></g>
<g transform="translate(175.5 547.5) rotate(-30)" stroke="#e8525e" stroke-width="0.75"><line x1="-3.4" y1="-2.7" x2="3.4" y2="-2.7"/><line x1="-3.4" y1="0" x2="3.4" y2="0"/><line x1="-3.4" y1="2.7" x2="3.4" y2="2.7"/></g>
<g transform="translate(55 595) rotate(80)" stroke="#e8525e" stroke-width="0.75"><line x1="-3.4" y1="-2.7" x2="3.4" y2="-2.7"/><line x1="-3.4" y1="0" x2="3.4" y2="0"/><line x1="-3.4" y1="2.7" x2="3.4" y2="2.7"/></g>
<g transform="translate(92.5 592) rotate(-35)" stroke="#e8525e" stroke-width="0.75"><line x1="-3.4" y1="-2.7" x2="3.4" y2="-2.7"/><line x1="-3.4" y1="0" x2="3.4" y2="0"/><line x1="-3.4" y1="2.7" x2="3.4" y2="2.7"/></g>
<g transform="translate(173 578) rotate(-60)" stroke="#e8525e" stroke-width="0.75"><line x1="-3.4" y1="-2.7" x2="3.4" y2="-2.7"/><line x1="-3.4" y1="0" x2="3.4" y2="0"/><line x1="-3.4" y1="2.7" x2="3.4" y2="2.7"/></g>
<g transform="translate(150 587.5) rotate(-30)" stroke="#e8525e" stroke-width="0.75"><line x1="-3.4" y1="-2.7" x2="3.4" y2="-2.7"/><line x1="-3.4" y1="0" x2="3.4" y2="0"/><line x1="-3.4" y1="2.7" x2="3.4" y2="2.7"/></g>
<g transform="translate(52.5 536.25) rotate(-40)" stroke="#e8525e" stroke-width="0.75"><line x1="-3.4" y1="-2.7" x2="3.4" y2="-2.7"/><line x1="-3.4" y1="0" x2="3.4" y2="0"/><line x1="-3.4" y1="2.7" x2="3.4" y2="2.7"/></g>
<path d="M0 0 L0.5 -0.4 L1 -1.1 L1.5 -1.6 L2 -1.7 L2.5 -1.1 L3 0 L3.5 1.4 L4 2.7 L4.5 3.3 L5 3 L5.5 1.9 L6 0 L6.5 -2 L7 -3.6 L7.5 -4.3 L8 -3.8 L8.5 -2.2 L9 0 L9.5 2.3 L10 4 L10.5 4.6 L11 4 L11.5 2.3 L12 0 L12.5 -2.2 L13 -3.8 L13.5 -4.3 L14 -3.6 L14.5 -2 L15 0 L15.5 1.9 L16 3 L16.5 3.3 L17 2.7 L17.5 1.4 L18 0 L18.5 -1.1 L19 -1.7 L19.5 -1.6 L20 -1.1 L20.5 -0.4 L21 0" transform="translate(55.5 502) rotate(-8)" fill="none" stroke="url(#gw)" stroke-width="1.3" stroke-linejoin="round" stroke-linecap="round"/>
<path d="M0 0 L0.4 -0.4 L0.8 -1.1 L1.2 -1.6 L1.6 -1.7 L2 -1.1 L2.4 0 L2.8 1.4 L3.2 2.7 L3.6 3.3 L4 3 L4.5 1.9 L4.9 0 L5.3 -2 L5.7 -3.6 L6.1 -4.3 L6.5 -3.8 L6.9 -2.2 L7.3 0 L7.7 2.3 L8.1 4 L8.5 4.6 L8.9 4 L9.3 2.3 L9.7 0 L10.1 -2.2 L10.5 -3.8 L10.9 -4.3 L11.3 -3.6 L11.7 -2 L12.1 0 L12.5 1.9 L13 3 L13.4 3.3 L13.8 2.7 L14.2 1.4 L14.6 0 L15 -1.1 L15.4 -1.7 L15.8 -1.6 L16.2 -1.1 L16.6 -0.4 L17 0" transform="translate(89.5 518) rotate(-30)" fill="none" stroke="url(#gw)" stroke-width="1.3" stroke-linejoin="round" stroke-linecap="round"/>
<path d="M0 0 L0.5 -0.4 L1 -1.1 L1.5 -1.6 L2 -1.7 L2.5 -1.1 L3 0 L3.5 1.4 L4 2.7 L4.5 3.3 L5 3 L5.5 1.9 L6 0 L6.5 -2 L7 -3.6 L7.5 -4.3 L8 -3.8 L8.5 -2.2 L9 0 L9.5 2.3 L10 4 L10.5 4.6 L11 4 L11.5 2.3 L12 0 L12.5 -2.2 L13 -3.8 L13.5 -4.3 L14 -3.6 L14.5 -2 L15 0 L15.5 1.9 L16 3 L16.5 3.3 L17 2.7 L17.5 1.4 L18 0 L18.5 -1.1 L19 -1.7 L19.5 -1.6 L20 -1.1 L20.5 -0.4 L21 0" transform="translate(140 518.75) rotate(-5)" fill="none" stroke="url(#gw)" stroke-width="1.3" stroke-linejoin="round" stroke-linecap="round"/>
<path d="M0 0 L0.5 -0.4 L1 -1.1 L1.4 -1.6 L1.9 -1.7 L2.4 -1.1 L2.9 0 L3.3 1.4 L3.8 2.7 L4.3 3.3 L4.8 3 L5.2 1.9 L5.7 0 L6.2 -2 L6.7 -3.6 L7.1 -4.3 L7.6 -3.8 L8.1 -2.2 L8.6 0 L9 2.3 L9.5 4 L10 4.6 L10.5 4 L11 2.3 L11.4 0 L11.9 -2.2 L12.4 -3.8 L12.9 -4.3 L13.3 -3.6 L13.8 -2 L14.3 0 L14.8 1.9 L15.2 3 L15.7 3.3 L16.2 2.7 L16.7 1.4 L17.1 0 L17.6 -1.1 L18.1 -1.7 L18.6 -1.6 L19 -1.1 L19.5 -0.4 L20 0" transform="translate(50 531.25) rotate(45)" fill="none" stroke="url(#gw)" stroke-width="1.3" stroke-linejoin="round" stroke-linecap="round"/>
<path d="M0 0 L0.5 -0.4 L1 -1.1 L1.4 -1.6 L1.9 -1.7 L2.4 -1.1 L2.9 0 L3.3 1.4 L3.8 2.7 L4.3 3.3 L4.8 3 L5.2 1.9 L5.7 0 L6.2 -2 L6.7 -3.6 L7.1 -4.3 L7.6 -3.8 L8.1 -2.2 L8.6 0 L9 2.3 L9.5 4 L10 4.6 L10.5 4 L11 2.3 L11.4 0 L11.9 -2.2 L12.4 -3.8 L12.9 -4.3 L13.3 -3.6 L13.8 -2 L14.3 0 L14.8 1.9 L15.2 3 L15.7 3.3 L16.2 2.7 L16.7 1.4 L17.1 0 L17.6 -1.1 L18.1 -1.7 L18.6 -1.6 L19 -1.1 L19.5 -0.4 L20 0" transform="translate(121.25 546.25) rotate(-5)" fill="none" stroke="url(#gw)" stroke-width="1.3" stroke-linejoin="round" stroke-linecap="round"/>
<path d="M0 0 L0.5 -0.4 L1 -1.1 L1.4 -1.6 L1.9 -1.7 L2.4 -1.1 L2.9 0 L3.3 1.4 L3.8 2.7 L4.3 3.3 L4.8 3 L5.2 1.9 L5.7 0 L6.2 -2 L6.7 -3.6 L7.1 -4.3 L7.6 -3.8 L8.1 -2.2 L8.6 0 L9 2.3 L9.5 4 L10 4.6 L10.5 4 L11 2.3 L11.4 0 L11.9 -2.2 L12.4 -3.8 L12.9 -4.3 L13.3 -3.6 L13.8 -2 L14.3 0 L14.8 1.9 L15.2 3 L15.7 3.3 L16.2 2.7 L16.7 1.4 L17.1 0 L17.6 -1.1 L18.1 -1.7 L18.6 -1.6 L19 -1.1 L19.5 -0.4 L20 0" transform="translate(87 575) rotate(-8)" fill="none" stroke="url(#gw)" stroke-width="1.3" stroke-linejoin="round" stroke-linecap="round"/>
<path d="M0 0 L0.5 -0.4 L0.9 -1.1 L1.4 -1.6 L1.8 -1.7 L2.3 -1.1 L2.7 0 L3.2 1.4 L3.6 2.7 L4.1 3.3 L4.5 3 L5 1.9 L5.4 0 L5.9 -2 L6.3 -3.6 L6.8 -4.3 L7.2 -3.8 L7.7 -2.2 L8.1 0 L8.6 2.3 L9 4 L9.5 4.6 L10 4 L10.4 2.3 L10.9 0 L11.3 -2.2 L11.8 -3.8 L12.2 -4.3 L12.7 -3.6 L13.1 -2 L13.6 0 L14 1.9 L14.5 3 L14.9 3.3 L15.4 2.7 L15.8 1.4 L16.3 0 L16.7 -1.1 L17.2 -1.7 L17.6 -1.6 L18.1 -1.1 L18.5 -0.4 L19 0" transform="translate(145 573.75) rotate(-5)" fill="none" stroke="url(#gw)" stroke-width="1.3" stroke-linejoin="round" stroke-linecap="round"/>
<path d="M0 0 L0.5 -0.4 L1 -1.1 L1.5 -1.6 L2 -1.7 L2.5 -1.1 L3 0 L3.5 1.4 L4 2.7 L4.5 3.3 L5 3 L5.5 1.9 L6 0 L6.5 -2 L7 -3.6 L7.5 -4.3 L8 -3.8 L8.5 -2.2 L9 0 L9.5 2.3 L10 4 L10.5 4.6 L11 4 L11.5 2.3 L12 0 L12.5 -2.2 L13 -3.8 L13.5 -4.3 L14 -3.6 L14.5 -2 L15 0 L15.5 1.9 L16 3 L16.5 3.3 L17 2.7 L17.5 1.4 L18 0 L18.5 -1.1 L19 -1.7 L19.5 -1.6 L20 -1.1 L20.5 -0.4 L21 0" transform="translate(39.5 582) rotate(10)" fill="none" stroke="url(#gw)" stroke-width="1.3" stroke-linejoin="round" stroke-linecap="round"/>
<path d="M0 0 L0.3 -0.4 L0.7 -1.1 L1 -1.6 L1.3 -1.7 L1.7 -1.1 L2 0 L2.3 1.4 L2.7 2.7 L3 3.3 L3.3 3 L3.7 1.9 L4 0 L4.3 -2 L4.7 -3.6 L5 -4.3 L5.3 -3.8 L5.7 -2.2 L6 0 L6.3 2.3 L6.7 4 L7 4.6 L7.3 4 L7.7 2.3 L8 0 L8.3 -2.2 L8.7 -3.8 L9 -4.3 L9.3 -3.6 L9.7 -2 L10 0 L10.3 1.9 L10.7 3 L11 3.3 L11.3 2.7 L11.7 1.4 L12 0 L12.3 -1.1 L12.7 -1.7 L13 -1.6 L13.3 -1.1 L13.7 -0.4 L14 0" transform="translate(28 576.25) rotate(-45)" fill="none" stroke="url(#gw)" stroke-width="1.3" stroke-linejoin="round" stroke-linecap="round"/>
<path d="M0 0 L0.5 -0.4 L0.9 -1.1 L1.4 -1.6 L1.8 -1.7 L2.3 -1.1 L2.7 0 L3.2 1.4 L3.6 2.7 L4.1 3.3 L4.5 3 L5 1.9 L5.4 0 L5.9 -2 L6.3 -3.6 L6.8 -4.3 L7.2 -3.8 L7.7 -2.2 L8.1 0 L8.6 2.3 L9 4 L9.5 4.6 L10 4 L10.4 2.3 L10.9 0 L11.3 -2.2 L11.8 -3.8 L12.2 -4.3 L12.7 -3.6 L13.1 -2 L13.6 0 L14 1.9 L14.5 3 L14.9 3.3 L15.4 2.7 L15.8 1.4 L16.3 0 L16.7 -1.1 L17.2 -1.7 L17.6 -1.6 L18.1 -1.1 L18.5 -0.4 L19 0" transform="translate(126.25 590) rotate(30)" fill="none" stroke="url(#gw)" stroke-width="1.3" stroke-linejoin="round" stroke-linecap="round"/>
<path d="M0 0 L0.5 -0.4 L1 -1.1 L1.4 -1.6 L1.9 -1.7 L2.4 -1.1 L2.9 0 L3.3 1.4 L3.8 2.7 L4.3 3.3 L4.8 3 L5.2 1.9 L5.7 0 L6.2 -2 L6.7 -3.6 L7.1 -4.3 L7.6 -3.8 L8.1 -2.2 L8.6 0 L9 2.3 L9.5 4 L10 4.6 L10.5 4 L11 2.3 L11.4 0 L11.9 -2.2 L12.4 -3.8 L12.9 -4.3 L13.3 -3.6 L13.8 -2 L14.3 0 L14.8 1.9 L15.2 3 L15.7 3.3 L16.2 2.7 L16.7 1.4 L17.1 0 L17.6 -1.1 L18.1 -1.7 L18.6 -1.6 L19 -1.1 L19.5 -0.4 L20 0" transform="translate(168 599.5) rotate(-5)" fill="none" stroke="url(#gw)" stroke-width="1.3" stroke-linejoin="round" stroke-linecap="round"/>
<path d="M73.8 518 C74.8 516.3 70.8 513.5 77 513 C83.2 512.5 83.2 516.2 92.5 516.5 C101.8 516.8 97.1 516.8 105 514 C112.9 511.2 112.1 513.7 116.2 508 C120.4 502.3 117.1 500.7 117.5 497" fill="none" stroke="#1a1a2a" stroke-width="1" stroke-linejoin="round" stroke-linecap="butt" stroke-dasharray="2.6 1.8"/><polygon points="117.67,495.51 118.95,499.28 115.57,498.89" fill="#1a1a2a" />
<path d="M63.8 542.5 C69.2 540.5 66.2 538.8 80 536.5 C93.8 534.2 88.3 535.2 105 535.5 C121.7 535.8 115 535.4 130 537.5 C145 539.6 141.7 538 150 541.8 C158.3 545.5 153.7 545 155 548.8 C156.3 552.5 154.3 551.6 154 553" fill="none" stroke="#1a1a2a" stroke-width="1" stroke-linejoin="round" stroke-linecap="butt" stroke-dasharray="2.6 1.8"/><polygon points="153.66,554.46 152.83,550.57 156.14,551.35" fill="#1a1a2a" />
<path d="M20 564 C24.2 563.5 24.2 562.6 32.5 562.5 C40.8 562.4 35.8 562.4 45 563.8 C54.2 565.1 53 563.6 60 566.5 C67 569.4 63.7 568.2 66 572.5 C68.3 576.8 66.7 577.2 67 579.5" fill="none" stroke="#1a1a2a" stroke-width="1" stroke-linejoin="round" stroke-linecap="butt" stroke-dasharray="2.6 1.8"/><polygon points="67.21,580.98 65.02,577.66 68.39,577.18" fill="#1a1a2a" />
<path d="M111.2 577.5 C114.2 577.9 112.1 575.4 120 578.8 C127.9 582.1 125 582.1 135 587.5 C145 592.9 141.7 590 150 595 C158.3 600 154 598.2 160 602.5 C166 606.8 165.3 606.2 168 608" fill="none" stroke="#1a1a2a" stroke-width="1" stroke-linejoin="round" stroke-linecap="butt" stroke-dasharray="2.6 1.8"/>
<path d="M116.2 587.5 C117.3 590 117.4 590.2 119.5 595 C121.6 599.8 121.5 599.7 122.5 602" fill="none" stroke="#1a1a2a" stroke-width="1" stroke-linejoin="round" stroke-linecap="butt" stroke-dasharray="2.6 1.8"/><polygon points="123.09,603.38 120.11,600.74 123.24,599.4" fill="#1a1a2a" />
<path d="M182.5 495 C185 497.7 186.2 494.7 190 503 C193.8 511.3 192.9 508.5 193.8 520 C194.6 531.5 192.1 529.2 192.5 537.5 C192.9 545.8 194.2 542.5 195 545" fill="none" stroke="#1a1a2a" stroke-width="1" stroke-linejoin="round" stroke-linecap="butt" stroke-dasharray="2.6 1.8"/><polygon points="195.47,546.42 192.72,543.55 195.95,542.47" fill="#1a1a2a" />
<circle cx="110" cy="502.5" r="8.8" fill="url(#gy)" stroke="none" stroke-width="1" /><line x1="105.6" y1="502.5" x2="114.4" y2="502.5" stroke="#fff" stroke-width="1.6" /><line x1="110" y1="498.1" x2="110" y2="506.9" stroke="#fff" stroke-width="1.6" />
<circle cx="52.5" cy="526.25" r="8.8" fill="url(#gy)" stroke="none" stroke-width="1" /><line x1="48.1" y1="526.25" x2="56.9" y2="526.25" stroke="#fff" stroke-width="1.6" /><line x1="52.5" y1="521.85" x2="52.5" y2="530.65" stroke="#fff" stroke-width="1.6" />
<circle cx="112.5" cy="544.25" r="8.8" fill="url(#gy)" stroke="none" stroke-width="1" /><line x1="108.1" y1="544.25" x2="116.9" y2="544.25" stroke="#fff" stroke-width="1.6" /><line x1="112.5" y1="539.85" x2="112.5" y2="548.65" stroke="#fff" stroke-width="1.6" />
<circle cx="42.5" cy="557.5" r="8.8" fill="url(#gy)" stroke="none" stroke-width="1" /><line x1="38.1" y1="557.5" x2="46.9" y2="557.5" stroke="#fff" stroke-width="1.6" /><line x1="42.5" y1="553.1" x2="42.5" y2="561.9" stroke="#fff" stroke-width="1.6" />
<circle cx="186.25" cy="572.5" r="8.8" fill="url(#gy)" stroke="none" stroke-width="1" /><line x1="181.85" y1="572.5" x2="190.65" y2="572.5" stroke="#fff" stroke-width="1.6" /><line x1="186.25" y1="568.1" x2="186.25" y2="576.9" stroke="#fff" stroke-width="1.6" />
<circle cx="147.5" cy="600" r="8.8" fill="url(#gy)" stroke="none" stroke-width="1" /><line x1="143.1" y1="600" x2="151.9" y2="600" stroke="#fff" stroke-width="1.6" /><line x1="147.5" y1="595.6" x2="147.5" y2="604.4" stroke="#fff" stroke-width="1.6" />
<circle cx="83.75" cy="525" r="6.7" fill="url(#gg)" stroke="none" stroke-width="1" /><line x1="80.4" y1="525" x2="87.1" y2="525" stroke="#fff" stroke-width="1.5" />
<circle cx="68" cy="546.25" r="6.7" fill="url(#gg)" stroke="none" stroke-width="1" /><line x1="64.65" y1="546.25" x2="71.35" y2="546.25" stroke="#fff" stroke-width="1.5" />
<circle cx="145" cy="544.25" r="6.7" fill="url(#gg)" stroke="none" stroke-width="1" /><line x1="141.65" y1="544.25" x2="148.35" y2="544.25" stroke="#fff" stroke-width="1.5" />
<circle cx="188.75" cy="526.25" r="6.7" fill="url(#gg)" stroke="none" stroke-width="1" /><line x1="185.4" y1="526.25" x2="192.1" y2="526.25" stroke="#fff" stroke-width="1.5" />
<circle cx="29.5" cy="586.25" r="6.7" fill="url(#gg)" stroke="none" stroke-width="1" /><line x1="26.15" y1="586.25" x2="32.85" y2="586.25" stroke="#fff" stroke-width="1.5" />
<circle cx="118.75" cy="585.5" r="6.7" fill="url(#gg)" stroke="none" stroke-width="1" /><line x1="115.4" y1="585.5" x2="122.1" y2="585.5" stroke="#fff" stroke-width="1.5" />
</g>
<path d="M169 525 C170.4 523.6 170.5 523.1 173.4 520.8 C176.3 518.5 175.5 518.5 177.7 518.1 C179.9 517.7 181.8 522.1 179.9 519.6 C178 517.1 174.7 513.6 172 510.6" fill="none" stroke="#a8a4d4" stroke-width="1.2" stroke-linejoin="round" stroke-linecap="round" /><path d="M179.9 519.6 C177.3 516.6 169.4 512.2 172 510.6 C174.7 509 188.3 519.2 187.9 514.7 C187.6 510.3 176.6 503.1 171 497.3" fill="none" stroke="#5a66b0" stroke-width="1.5" stroke-linejoin="round" stroke-linecap="round" /><path d="M187.9 514.7 C182.3 508.9 166.9 500.2 171 497.3 C175.1 494.4 198 510.6 200.2 506 C202.5 501.4 177.7 488.5 177.7 483.5 C177.7 478.4 196.3 492.6 200.2 490.8 C204.2 489.1 189.5 481.8 189.5 478.1 C189.5 474.5 197.3 481.7 200.2 479.9 C203.1 478.1 198.9 475.1 198.2 472.7" fill="none" stroke="#14307c" stroke-width="1.8" stroke-linejoin="round" stroke-linecap="round" /><path d="M172 510.6 C177.3 512 188.3 519.2 187.9 514.7 C187.6 510.3 176.6 503.1 171 497.3" fill="none" stroke="#2c428e" stroke-width="1.6" stroke-linejoin="round" stroke-linecap="round" /><polyline points="173.05,524.49 168.95,525.1 170.28,520.59" fill="none" stroke="#b4aed8" stroke-width="1" stroke-linejoin="round" stroke-linecap="round" />
</g>
<g>
<rect x="217" y="502" width="159.3" height="101" fill="none" stroke="#666" stroke-width="0.8" stroke-dasharray="1.3 1.5"/>
<line x1="195.3" y1="492.5" x2="217" y2="502" stroke="#777" stroke-width="0.7" stroke-dasharray="1.3 1.5"/>
<line x1="195.3" y1="608.8" x2="217" y2="603" stroke="#777" stroke-width="0.7" stroke-dasharray="1.3 1.5"/>
<path d="M220 520 C223 519.4 222.5 517.9 230 518 C237.5 518.1 235.2 520.4 245 520.5 C254.8 520.6 252 518.4 262.5 518.5 C273 518.6 269.5 520.6 280 520.8 C290.5 520.9 287 520 297.5 519 C308 518 305.2 517.2 315 517.5 C324.8 517.8 321 519.9 330 520 C339 520.1 336 518 345 518 C354 518 352.9 519.7 360 520 C367.1 520.3 366.1 519.3 368.8 519" fill="none" stroke="#8db6e2" stroke-width="2.2" stroke-linejoin="round" stroke-linecap="round" />
<path d="M222.5 588.8 C226.2 589.1 226.8 590.4 235 590 C243.2 589.6 241 587.4 250 587.5 C259 587.6 256 590.4 265 590.5 C274 590.6 270.2 588.1 280 588 C289.8 587.9 287 590.3 297.5 590 C308 589.7 305.2 588.6 315 587 C324.8 585.4 321 585.9 330 584.5 C339 583.1 336 582.5 345 582.5 C354 582.5 351.4 584.6 360 584.5 C368.6 584.4 369.6 582.8 373.8 582" fill="none" stroke="#8db6e2" stroke-width="2.2" stroke-linejoin="round" stroke-linecap="round" />
<polygon points="239.25,535.5 250,532 255.5,540 248.75,548 238.75,545.5" fill="none" stroke="#e8d070" stroke-width="1.1"/>
<line x1="240.75" y1="544.5" x2="248" y2="546.25" stroke="#e8d070" stroke-width="0.8" />
<line x1="241.5" y1="536.5" x2="249.5" y2="533.75" stroke="#e8d070" stroke-width="0.8" />
<polyline points="258,541.5 267,544 273.25,537.5" fill="none" stroke="#e8d070" stroke-width="1.1" stroke-linejoin="round" stroke-linecap="round" />
<line x1="227.5" y1="538" x2="237" y2="535.5" stroke="#e8d070" stroke-width="0.9" />
<text x="223.25" y="541.66" font-size="5.2" font-weight="bold" fill="#e8d070" text-anchor="middle" >Cl</text>
<text x="276.75" y="537.44" font-size="6" font-weight="bold" fill="#e8d070" text-anchor="middle" >R</text>
<text x="255.75" y="542.69" font-size="6" font-weight="bold" fill="#e8d070" text-anchor="middle" >N</text>
<text x="239.25" y="536.3" font-size="5.6" font-weight="bold" fill="#e8d070" text-anchor="middle" >N</text>
<line x1="255.5" y1="545.5" x2="255.5" y2="552.5" stroke="#f06070" stroke-width="1" stroke-dasharray="1 1"/>
<text x="255.5" y="557.27" font-size="6.2" font-weight="bold" fill="#3b8be0" text-anchor="middle" >H</text>
<line x1="255.5" y1="558" x2="255.5" y2="563.5" stroke="#3b8be0" stroke-width="1.1" />
<text x="255.5" y="568.59" font-size="6.4" font-weight="bold" fill="#3b8be0" text-anchor="middle" >N</text>
<text x="235.75" y="569.09" font-size="6.4" font-weight="bold" fill="#3b8be0" text-anchor="middle" >O</text>
<polyline points="239,567.5 245.5,572 252.5,568" fill="none" stroke="#3b8be0" stroke-width="1.1" stroke-linejoin="round" stroke-linecap="round" />
<line x1="239.5" y1="565.75" x2="245.5" y2="570" stroke="#3b8be0" stroke-width="0.9" />
<line x1="245.5" y1="572" x2="245.5" y2="588.75" stroke="#3b8be0" stroke-width="1.1" />
<polyline points="258.5,568 265,572.5 272.5,568" fill="none" stroke="#3b8be0" stroke-width="1.1" stroke-linejoin="round" stroke-linecap="round" />
<line x1="265" y1="572.5" x2="265" y2="589.5" stroke="#3b8be0" stroke-width="1.1" />
<polyline points="298.75,539.5 307.5,533.75 315,538.5" fill="none" stroke="#3b8be0" stroke-width="1.1" stroke-linejoin="round" stroke-linecap="round" />
<line x1="307.5" y1="533.75" x2="307.5" y2="520" stroke="#3b8be0" stroke-width="1.1" />
<text x="318.75" y="541.84" font-size="6.4" font-weight="bold" fill="#3b8be0" text-anchor="middle" >N</text>
<polyline points="322,538.5 328.25,533.75 335.75,538.5" fill="none" stroke="#3b8be0" stroke-width="1.1" stroke-linejoin="round" stroke-linecap="round" />
<line x1="329" y1="535.5" x2="335" y2="540" stroke="#3b8be0" stroke-width="0.9" />
<line x1="328.25" y1="533.75" x2="328.25" y2="520" stroke="#3b8be0" stroke-width="1.1" />
<polyline points="324.5,520 328.25,523 332,520" fill="none" stroke="#3b8be0" stroke-width="1.1" stroke-linejoin="round" stroke-linecap="round" />
<text x="339.25" y="541.84" font-size="6.4" font-weight="bold" fill="#3b8be0" text-anchor="middle" >O</text>
<line x1="318.75" y1="542.5" x2="318.75" y2="545.5" stroke="#3b8be0" stroke-width="1.1" />
<text x="318.75" y="550.02" font-size="6.2" font-weight="bold" fill="#3b8be0" text-anchor="middle" >H</text>
<line x1="318.75" y1="551" x2="318.75" y2="559" stroke="#f06070" stroke-width="1" stroke-dasharray="1 1"/>
<text x="319.5" y="564.59" font-size="6.4" font-weight="bold" fill="#6a8ee8" text-anchor="middle" >O</text>
<line x1="339.25" y1="542.5" x2="339.25" y2="549.5" stroke="#f06070" stroke-width="1" stroke-dasharray="1 1"/>
<text x="339.25" y="554.77" font-size="6.2" font-weight="bold" fill="#3b8be0" text-anchor="middle" >H</text>
<line x1="339.25" y1="555.5" x2="339.25" y2="560" stroke="#3b8be0" stroke-width="1.1" />
<text x="339.25" y="565.34" font-size="6.4" font-weight="bold" fill="#3b8be0" text-anchor="middle" >N</text>
<polyline points="322.5,564 329,568 336.25,564.5" fill="none" stroke="#3b8be0" stroke-width="1.1" stroke-linejoin="round" stroke-linecap="round" />
<line x1="323" y1="562.25" x2="329" y2="566" stroke="#3b8be0" stroke-width="0.9" />
<line x1="329" y1="568" x2="329" y2="585" stroke="#3b8be0" stroke-width="1.1" />
<polyline points="325,585 329,581.25 333.75,585" fill="none" stroke="#3b8be0" stroke-width="1.1" stroke-linejoin="round" stroke-linecap="round" />
<polyline points="342.5,564.5 349.25,568.75 360,562.5" fill="none" stroke="#3b8be0" stroke-width="1.1" stroke-linejoin="round" stroke-linecap="round" />
<line x1="349.25" y1="568.75" x2="349.25" y2="583" stroke="#3b8be0" stroke-width="1.1" />
<ellipse cx="233.75" cy="531.25" rx="8.2" ry="5.6" transform="rotate(35 233.75 531.25)" fill="none" stroke="#222" stroke-width="0.7" stroke-dasharray="1.4 1.2"/>
<text x="231.55" y="531.05" font-size="4" font-weight="bold" fill="#f0c830" text-anchor="middle"  stroke="#f0c830" stroke-width="0.22">+</text>
<text x="236.55" y="534.45" font-size="3.4" font-weight="bold" fill="#f0c830" text-anchor="middle"  stroke="#f0c830" stroke-width="0.22">+</text>
<ellipse cx="282" cy="550.5" rx="8.2" ry="5.6" transform="rotate(-35 282 550.5)" fill="none" stroke="#222" stroke-width="0.7" stroke-dasharray="1.4 1.2"/>
<text x="279.8" y="550.3" font-size="4" font-weight="bold" fill="#f0c830" text-anchor="middle"  stroke="#f0c830" stroke-width="0.22">+</text>
<text x="284.8" y="553.7" font-size="3.4" font-weight="bold" fill="#f0c830" text-anchor="middle"  stroke="#f0c830" stroke-width="0.22">+</text>
<ellipse cx="228.75" cy="576.25" rx="8.2" ry="5.6" transform="rotate(40 228.75 576.25)" fill="none" stroke="#222" stroke-width="0.7" stroke-dasharray="1.4 1.2"/>
<text x="226.55" y="576.05" font-size="4" font-weight="bold" fill="#f0c830" text-anchor="middle"  stroke="#f0c830" stroke-width="0.22">+</text>
<text x="231.55" y="579.45" font-size="3.4" font-weight="bold" fill="#f0c830" text-anchor="middle"  stroke="#f0c830" stroke-width="0.22">+</text>
<ellipse cx="362" cy="548.75" rx="8.2" ry="5.6" transform="rotate(50 362 548.75)" fill="none" stroke="#222" stroke-width="0.7" stroke-dasharray="1.4 1.2"/>
<text x="359.8" y="548.55" font-size="4" font-weight="bold" fill="#f0c830" text-anchor="middle"  stroke="#f0c830" stroke-width="0.22">+</text>
<text x="364.8" y="551.95" font-size="3.4" font-weight="bold" fill="#f0c830" text-anchor="middle"  stroke="#f0c830" stroke-width="0.22">+</text>
<rect x="-4.2" y="-2.2" width="8.4" height="4.4" rx="2.2" fill="#f6c445" transform="translate(280.5 570) rotate(-50)"/>
<rect x="-4.2" y="-2.2" width="8.4" height="4.4" rx="2.2" fill="#f6c445" transform="translate(315 569.5) rotate(50)"/>
<rect x="293" y="557.5" width="10" height="4" rx="2" fill="#8fd08f"/>
<path d="M286.2 569.5 C287.9 567.6 286.7 566.2 291.2 563.8 C295.8 561.2 294.2 561.2 300 562 C305.8 562.8 304.4 562.1 308.8 566.2 C313.1 570.4 311.6 571.8 313 574.5" fill="none" stroke="#222" stroke-width="0.9" stroke-linejoin="round" stroke-linecap="butt" stroke-dasharray="2 1.5"/>
<polygon points="314.25,577 310.5,573.75 313.25,572" fill="#222" />
<text x="295.5" y="583.25" font-size="7" font-weight="bold" fill="#111" text-anchor="middle"  stroke="#111" stroke-width="0.22">Ion migration</text>
</g>
<g>
<polygon points="435.59,510.96 479.44,530.35 436.43,550.59 392.59,529.51" fill="#f7fafe" />
<polygon points="392.59,529.51 436.43,550.59 435.59,604.55 397.65,579.26" fill="#e9f1fa" />
<polygon points="436.43,550.59 479.44,530.35 475.22,579.26 435.59,604.55" fill="#f0f6fc" />
<polygon points="435.59,510.96 479.44,530.35 436.43,550.59 392.59,529.51" fill="#5a9ad8" filter="url(#spkT)"/>
<polygon points="392.59,529.51 436.43,550.59 435.59,604.55 397.65,579.26" fill="#5a9ad8" filter="url(#spkL)"/>
<polygon points="436.43,550.59 479.44,530.35 475.22,579.26 435.59,604.55" fill="#5a9ad8" filter="url(#spkR)"/>
<rect x="393.43" y="547.22" width="21.08" height="17.71" fill="none" stroke="#777" stroke-width="0.7" stroke-dasharray="1.3 1.5"/>
<rect x="452.45" y="546.37" width="21.08" height="18.55" fill="none" stroke="#777" stroke-width="0.7" stroke-dasharray="1.3 1.5"/>
<line x1="376.3" y1="502" x2="393.43" y2="547.22" stroke="#777" stroke-width="0.7" stroke-dasharray="1.3 1.5"/>
<line x1="376.3" y1="603" x2="393.43" y2="564.92" stroke="#777" stroke-width="0.7" stroke-dasharray="1.3 1.5"/>
<line x1="473.53" y1="546.37" x2="501.4" y2="503.1" stroke="#777" stroke-width="0.7" stroke-dasharray="1.3 1.5"/>
<line x1="473.53" y1="564.92" x2="501.4" y2="600.1" stroke="#777" stroke-width="0.7" stroke-dasharray="1.3 1.5"/>
</g>
<g>
<clipPath id="cm2"><rect x="501.4" y="503.1" width="104.7" height="97"/></clipPath>
<g clip-path="url(#cm2)">
<rect x="501.4" y="503.1" width="104.7" height="97" fill="#7ba8d8" stroke="none" stroke-width="1" />
<path d="M496.6 513 C499 501.6 502.9 515.7 507 516.2 C511.1 516.6 511.2 516 514.2 514.9 C517.2 513.8 518 513.3 519.8 511.4 C521.6 509.4 521.5 509.6 521.9 506.6 C522.2 503.6 513.3 500.5 521.4 498.6 C529.5 496.7 548.7 496.4 556.5 498.6 C564.4 500.8 556.6 505.4 554.9 508.2 C553.3 511 552.1 509.5 549.3 510.6 C546.6 511.7 545.6 511.5 543 513 C540.3 514.5 540.4 515.7 538.2 517 C535.9 518.3 535.5 518.7 533.4 518.6 C531.2 518.5 530.8 516.7 528.9 516.5 C527 516.3 526.3 516.4 525.4 517.8 C524.4 519.2 524.4 520 524.7 522.6 C525.1 525.2 526.6 526 527 529 C527.3 532 527.4 533.5 526.3 535.4 C525.3 537.2 522.3 536.1 522.5 537 C522.6 537.8 526.1 537.6 527 538.9 C527.8 540.2 528 541.5 526.2 542.6 C524.3 543.6 521.6 542.4 519 543.4 C516.4 544.3 516.1 543.9 515 546.6 C513.9 549.2 514 551.2 514.2 554.5 C514.4 557.9 516.2 558.7 515.8 560.9 C515.4 563.2 514.8 563.6 512.6 564.1 C510.3 564.7 508.2 562.9 506.2 563.3 C504.1 563.8 506 565.7 503.8 566.1 C501.6 566.4 498.3 577.3 496.6 564.9 C494.9 552.6 494.2 524.4 496.6 513Z" fill="#d0e3f4" />
<path d="M558.9 498.6 C546.8 500.8 557.4 505 558.1 508.2 C558.9 511.4 559.3 511.1 562.1 512.2 C564.9 513.3 567.1 512.4 570.1 513 C573.1 513.6 574.2 513.6 574.9 514.9 C575.7 516.2 572.6 517.6 573.3 518.7 C574.1 519.9 575.5 520.2 578.1 519.7 C580.7 519.2 581.5 518.2 584.5 516.5 C587.5 514.8 587.9 513.3 590.9 512.5 C593.9 511.7 595.1 511.8 597.3 513 C599.5 514.2 600.5 515.4 600.5 517.8 C600.5 520.2 599.5 521.9 597.3 523.4 C595.1 524.9 593.8 523.5 590.9 524.2 C588 524.8 584.8 525.3 584.8 526.1 C584.8 526.9 587.6 527.4 590.9 527.7 C594.2 528 596.4 526.5 598.9 527.4 C601.4 528.2 601.6 529.5 601.8 531.4 C602 533.2 597.8 534.6 599.7 535.4 C601.6 536.1 607.7 543.1 610.1 534.6 C612.5 526 622 507 610.1 498.6 C598.2 490.2 571.1 496.4 558.9 498.6Z" fill="#d0e3f4" />
<path d="M546.2 545 C546.2 542 546.4 540.1 547 537 C547.5 533.8 546.9 533 548.5 531.4 C550.2 529.7 551.7 529.7 554.1 529.8 C556.6 529.8 556.7 532.1 558.9 531.5 C561.2 531 561.5 528.7 563.7 527.4 C566 526 566.3 525 568.5 525.8 C570.8 526.5 571.8 528.3 573.3 530.6 C574.8 532.8 575.7 534.4 574.9 535.4 C574.2 536.3 572 534.5 570.1 534.7 C568.3 534.9 568 534.3 566.9 536.3 C565.8 538.3 566.5 541.3 565.3 543.4 C564.2 545.4 563.6 545.7 562.1 545 C560.6 544.2 560.4 541.4 558.9 540.2 C557.4 538.9 557.2 538.4 555.7 539.5 C554.2 540.6 553.9 542.6 552.5 545 C551.2 547.3 551.5 548.6 550.1 549.7 C548.8 550.9 547.9 550.9 547 549.7 C546 548.6 546.2 547.9 546.2 545Z" fill="#d0e3f4" />
<path d="M574.9 537 C577.6 534.9 579.3 536.2 584.5 536.2 C589.7 536.2 593.9 536 597.3 537 C600.7 537.9 599.2 538.3 599.2 540.2 C599.2 542 599.2 544.2 597.3 545 C595.4 545.7 593.5 543.4 590.9 543.4 C588.3 543.4 588 543.1 586.1 545 C584.2 546.8 584.4 548.4 582.9 551.3 C581.4 554.3 580.1 554.8 579.7 557.7 C579.3 560.7 580.3 561.5 581.3 564.1 C582.3 566.7 583.7 566.8 583.9 568.9 C584.1 571 583.5 572.5 582.1 573.1 C580.8 573.7 579.8 573.6 578.1 571.5 C576.4 569.4 576 568.1 574.9 564.1 C573.8 560.2 573.8 559 573.3 554.5 C572.9 550.1 572.6 549.1 573 545 C573.4 540.9 572.2 539 574.9 537Z" fill="#d0e3f4" />
<path d="M522.2 555.3 C522.2 553.7 524 552.7 527 552.1 C530 551.6 531.2 552 535 552.9 C538.7 553.9 540.2 554.3 543 556.1 C545.8 558 545.8 558.7 547 560.9 C548.1 563.2 546.4 565.2 548.1 565.7 C549.7 566.3 551.8 563.7 554.1 563.3 C556.5 563 557 563 558.3 564.1 C559.6 565.3 560.1 566.3 559.9 568.1 C559.7 570 558.6 570.7 557.3 572.1 C556.1 573.5 554.1 572.9 554.5 574 C554.8 575.2 557.1 576.6 558.9 576.9 C560.7 577.2 559.9 575.5 562.1 575.3 C564.4 575.1 565.5 575.4 568.5 576.1 C571.5 576.9 573.4 576.1 574.9 578.5 C576.5 580.9 576 583.5 575.2 586.5 C574.5 589.5 574 589.8 571.7 591.3 C569.4 592.8 568.3 591.8 565.3 592.9 C562.3 594 561.2 593.5 558.9 596.1 C556.7 598.7 558.5 602.2 555.7 604.1 C552.9 606 548.3 606.7 547 604.1 C545.6 601.5 548.5 597 550.1 592.9 C551.8 588.8 552.8 589.1 554.1 586.5 C555.4 583.9 556.9 584 555.7 581.7 C554.6 579.5 552.3 578.4 549.3 576.9 C546.4 575.4 545.9 575.7 543 575.3 C540 575 538.8 576.3 536.6 575.3 C534.3 574.4 533.4 573.6 533.4 571.3 C533.4 569.1 535.4 568.2 536.6 565.7 C537.7 563.3 538.9 562.4 538.2 560.9 C537.4 559.4 536 559.7 533.4 559.3 C530.8 559 529.6 560.3 527 559.3 C524.4 558.4 522.2 557 522.2 555.3Z" fill="#d0e3f4" />
<path d="M496.6 592.9 C499.2 589.9 503.3 590.9 507.8 591.3 C512.3 591.7 512.4 594.1 515.8 594.5 C519.1 594.9 518.8 594 522.2 592.9 C525.5 591.8 526.8 589.7 530.2 589.7 C533.5 589.7 533.6 591.4 536.6 592.9 C539.5 594.4 540.2 593.5 543 596.1 C545.8 598.7 559.4 602.2 548.5 604.1 C537.7 606 508.7 606.7 496.6 604.1 C484.5 601.5 494 595.9 496.6 592.9Z" fill="#d0e3f4" />
<path d="M594.1 580.1 C595 578.8 596.7 577.8 598.9 578.5 C601.1 579.3 601.1 582 603.7 583.3 C606.3 584.6 608.6 581.4 610.1 584.1 C611.6 586.8 612 592.8 610.1 594.8 C608.2 596.9 604.7 594.8 602.1 592.9 C599.5 591 600.6 588.5 598.9 586.5 C597.2 584.5 596 585.8 594.9 584.3 C593.8 582.8 593.2 581.5 594.1 580.1Z" fill="#d0e3f4" />
<path d="M590.6 604.1 C587.6 602.3 592.8 598.5 597.3 596.4 C601.9 594.4 607.1 593.5 610.1 595.3 C613.1 597.1 614.6 602 610.1 604.1 C605.5 606.1 593.6 605.9 590.6 604.1Z" fill="#d0e3f4" />
<path d="M496.6 498.6 C502.1 495.4 514.7 496.9 520.3 498.6 C525.9 500.3 521.2 502.7 520.6 505.8 C519.9 508.8 519.6 509.7 517.4 511.7 C515.1 513.7 514 513.6 511 514.3 C508 514.9 507.9 515.1 504.6 514.6 C501.2 514.1 498.5 515.9 496.6 512.2 C494.7 508.5 491.1 501.8 496.6 498.6Z" fill="#7ba8d8" />
<path d="M511 531.4 C511 529.8 512.5 528.2 514.2 525.8 C515.9 523.3 517.1 521 518.2 521 C519.3 521 519.2 523.3 519 525.8 C518.8 528.2 518.5 529.8 517.4 531.4 C516.3 532.9 515.7 532.5 514.2 532.5 C512.7 532.5 511 532.9 511 531.4Z" fill="#7ba8d8" />
<path d="M576.8 508.2 C577.4 506.4 578 506.1 581.3 505.3 C584.6 504.6 587 504.6 590.9 505 C594.8 505.4 596.6 505.3 598.1 506.9 C599.6 508.5 599 510.6 597.3 511.7 C595.6 512.8 593.9 511 590.9 511.7 C587.9 512.5 587.3 514.6 584.5 514.9 C581.7 515.2 580.7 514.6 578.9 513 C577.1 511.4 576.3 510 576.8 508.2Z" fill="#7ba8d8" />
<path d="M602.4 498.6 C604.4 496.4 608.3 495.2 610.1 498.6 C611.9 502 611.2 509.3 610.1 513 C609 516.7 607.2 515.7 605.3 514.6 C603.4 513.5 602.4 511.9 601.8 508.2 C601.1 504.5 600.5 500.8 602.4 498.6Z" fill="#7ba8d8" />
<path d="M560.5 498.6 C563.1 497 572.3 497.1 574.9 498.6 C577.5 500.1 574.3 503.4 571.7 505 C569.1 506.6 566.3 506.8 563.7 505.3 C561.1 503.8 557.9 500.2 560.5 498.6Z" fill="#7ba8d8" />
</g>
<rect x="501.4" y="503.1" width="104.7" height="97" fill="none" stroke="#8a8a8a" stroke-width="0.8" stroke-dasharray="3 1.5"/>
<rect x="574.12" y="536.16" width="24.78" height="22.38" fill="none" stroke="#777" stroke-width="0.8" stroke-dasharray="1.3 1.5"/>
<line x1="598.9" y1="536.16" x2="623.8" y2="492.5" stroke="#777" stroke-width="0.7" stroke-dasharray="1.3 1.5"/>
<line x1="598.9" y1="558.54" x2="623.8" y2="608.8" stroke="#777" stroke-width="0.7" stroke-dasharray="1.3 1.5"/>
</g>
<g>
<clipPath id="cm3"><rect x="623.8" y="492.5" width="174.2" height="116.3"/></clipPath>
<g clip-path="url(#cm3)">
<rect x="623.8" y="492.5" width="174.2" height="116.3" fill="#7ba8d8" stroke="none" stroke-width="1" />
<path d="M640 515 C645.6 511.8 651.8 511.9 660 513 C668.2 514.1 664.4 514 667.5 518.8 C670.6 523.5 667.5 525 670.5 528.8 C673.5 532.5 674.6 533.9 677.5 531.2 C680.4 528.6 680.8 525.2 680 520 C679.2 514.8 675.8 517.5 675 513.8 C674.2 510 674.5 510.1 677.5 507.5 C680.5 504.9 680.4 504.6 685 505 C689.6 505.4 688.5 504.2 693 508.8 C697.5 513.2 696.2 518.1 700 520 C703.8 521.9 701.8 521 705.5 515 C709.2 509 708.1 507.5 712.5 500 C716.9 492.5 713.9 493 720 490 C726.1 487 730 485.5 733 490 C736 494.5 733.1 497.5 730 505 C726.9 512.5 726.2 509.8 722.5 515 C718.8 520.2 721.2 518.8 717.5 522.5 C713.8 526.2 710 524.5 710 527.5 C710 530.5 711.5 531.4 717.5 532.5 C723.5 533.6 721.8 531.6 730 531.2 C738.2 530.9 736.8 529.8 745 531.2 C753.2 532.8 751.5 532.1 757.5 536.2 C763.5 540.4 763.1 539.8 765 545 C766.9 550.2 766.8 550.4 763.8 553.8 C760.8 557.1 762.1 556.2 755 556.2 C747.9 556.2 749 554.5 740 553.8 C731 553 732.5 552.6 725 553.8 C717.5 554.9 721 556.4 715 557.5 C709 558.6 711 558.6 705 557.5 C699 556.4 701.8 555.2 695 553.8 C688.2 552.2 689.2 551.8 682.5 552.5 C675.8 553.2 676.2 552.5 672.5 556.2 C668.8 560 669.2 559.4 670 565 C670.8 570.6 672 570.5 675 575 C678 579.5 680 577 680 580 C680 583 679.5 584.6 675 585 C670.5 585.4 670.2 584.2 665 581.2 C659.8 578.2 662 578.4 657.5 575 C653 571.6 656 571.9 650 570 C644 568.1 644.2 568.8 637.5 568.8 C630.8 568.8 632.8 570.2 627.5 570 C622.2 569.8 622.2 571.8 620 568 C617.8 564.2 616.2 561.4 620 557.5 C623.8 553.6 626.5 558.8 632.5 555 C638.5 551.2 636.6 551.8 640 545 C643.4 538.2 643.4 538.9 643.8 532.5 C644.1 526.1 642.4 529 641.2 523.8 C640.1 518.5 634.4 518.2 640 515Z" fill="#d0e3f4" />
<path d="M620 568.2 C625.2 559.5 631.5 566.4 637.5 568.2 C643.5 570.1 639.5 569.5 640 574.5 C640.5 579.5 640.5 579.6 639 585 C637.5 590.4 638.5 589.3 635 592.5 C631.5 595.7 632 594.2 627.5 595.8 C623 597.2 622.2 605.8 620 597.5 C617.8 589.2 614.8 577 620 568.2Z" fill="#d0e3f4" />
<path d="M657 612.5 C647.4 610.1 656.6 607.4 663.5 604.5 C670.4 601.6 671.9 602.5 680 603 C688.1 603.5 685.9 603.1 690.5 606 C695.1 608.9 705.5 610.5 695.5 612.5 C685.5 614.5 666.6 614.9 657 612.5Z" fill="#d0e3f4" />
<path d="M710 575 C713 570.4 715 571.2 722.5 572 C730 572.8 729 573.6 735 577.5 C741 581.4 736.5 581.2 742.5 585 C748.5 588.8 746.8 587 755 590 C763.2 593 764.6 590.5 770 595 C775.4 599.5 776 599.8 773 605 C770 610.2 774.4 610.2 760 612.5 C745.6 614.8 737 616.2 725 612.5 C713 608.8 723.8 607.5 720 600 C716.2 592.5 715.5 595 712.5 587.5 C709.5 580 707 579.6 710 575Z" fill="#d0e3f4" />
<path d="M786.2 540 C789.6 535.5 791.1 535.9 797.5 532.5 C803.9 529.1 804.5 504.8 807.5 528.8 C810.5 552.8 811.6 587.4 807.5 612.5 C803.4 637.6 798.2 619.2 793.8 612.5 C789.2 605.8 795.1 600.5 792.5 590 C789.9 579.5 790.2 583.5 785 577.5 C779.8 571.5 778.8 574.5 775 570 C771.2 565.5 771 567 772.5 562.5 C774 558 775.9 559.5 780 555 C784.1 550.5 784.4 552 786.2 547.5 C788.1 543 782.9 544.5 786.2 540Z" fill="#d0e3f4" />
<path d="M779.5 487.5 C787.4 483.8 799.1 478.1 807.5 487.5 C815.9 496.9 812 510.5 807.5 518.8 C803 527 798.9 518.4 792.5 515 C786.1 511.6 789.6 512 786.2 507.5 C782.9 503 783.3 506 781.2 500 C779.2 494 771.6 491.2 779.5 487.5Z" fill="#d0e3f4" />
<path d="M617.5 568.5 C620.6 563.5 624.4 566.7 628 569 C631.6 571.3 629.6 571.8 629.5 576.2 C629.4 580.7 631.1 581 627.5 583.8 C623.9 586.5 620.5 590.1 617.5 585.5 C614.5 580.9 614.4 573.5 617.5 568.5Z" fill="#7ba8d8" />
<path d="M626.2 551.2 C627.8 546.4 628.9 545.9 631.2 535 C633.6 524.1 634.4 525.5 634 515 C633.6 504.5 629 503 630 500 C631 497 631.5 502.3 637.5 505 C643.5 507.7 641.8 509.8 650 509 C658.2 508.2 656 505.4 665 502.5 C674 499.6 673.5 500.4 680 499.5 C686.5 498.6 684.7 499.5 686.8 499.5" fill="none" stroke="#52749c" stroke-width="2.1" stroke-linejoin="round" stroke-linecap="round" stroke-opacity="0.85"/>
<path d="M731.8 491.2 C731.2 496.1 732.8 499.6 730 507.5 C727.2 515.4 726.6 512.6 722.5 517.5 C718.4 522.4 716.2 520.3 716.2 523.8 C716.2 527.2 715.4 527.4 722.5 529 C729.6 530.6 730.2 528.7 740 529 C749.8 529.3 747.5 527.5 755 530 C762.5 532.5 760.5 531.5 765 537.5 C769.5 543.5 769.2 541.8 770 550 C770.8 558.2 766.8 556.8 767.5 565 C768.2 573.2 768.6 569.9 772.5 577.5 C776.4 585.1 779.4 585.9 780.5 590.5 C781.6 595.1 782.4 594.5 776.2 593 C770.1 591.5 772.4 589.8 760 585.5 C747.6 581.2 742.5 580.8 735 578.8" fill="none" stroke="#52749c" stroke-width="2.1" stroke-linejoin="round" stroke-linecap="round" stroke-opacity="0.85"/>
<path d="M690 557.5 C693 559.1 693.2 559.5 700 563 C706.8 566.5 703.5 568.5 712.5 569.2 C721.5 570 718.8 567.5 730 565.5 C741.2 563.5 738 564.1 750 562.5 C762 560.9 759.5 562.2 770 560 C780.5 557.8 779 559.5 785 555 C791 550.5 789.9 555.5 790 545 C790.1 534.5 787.4 532.4 785.5 520 C783.6 507.6 784.3 508.6 783.8 503.8" fill="none" stroke="#52749c" stroke-width="2.1" stroke-linejoin="round" stroke-linecap="round" stroke-opacity="0.85"/>
<path d="M627.5 602.5 C632.8 601.8 637.5 603 645 600 C652.5 597 646.5 595.9 652.5 592.5 C658.5 589.1 656 588.8 665 588.8 C674 588.8 672.8 589 682.5 592.5 C692.2 596 691.4 599 697.5 600.5 C703.6 602 703 602.1 703 597.5 C703 592.9 702.9 592.5 697.5 585 C692.1 577.5 690.4 577.9 685 572.5 C679.6 567.1 681.1 568.6 679.5 567" fill="none" stroke="#52749c" stroke-width="2.1" stroke-linejoin="round" stroke-linecap="round" stroke-opacity="0.85"/>
<polyline points="625,566.25 633.25,557.75 659.25,572.25 666.25,565 672.5,545 680,534.5 690,545 701.25,556.25 725,551.25 757.5,542.5" fill="none" stroke="#858585" stroke-width="1.4" stroke-linejoin="round" stroke-linecap="butt" stroke-dasharray="1.5 1.7"/>
<polyline points="701.25,556.25 710,575 720,593.75 740,596.25 765,600" fill="none" stroke="#858585" stroke-width="1.4" stroke-linejoin="round" stroke-linecap="butt" stroke-dasharray="1.5 1.7"/>
<line x1="633.25" y1="557.75" x2="626.3" y2="560.28" stroke="#d82020" stroke-width="0.9" stroke-dasharray="1.4 1.0"/><polygon points="625.17,560.69 627.39,560.95 626.71,559.07" fill="#d82020" /><line x1="633.25" y1="557.75" x2="630.72" y2="564.7" stroke="#d82020" stroke-width="0.9" stroke-dasharray="1.4 1.0"/><polygon points="630.31,565.83 631.93,564.29 630.05,563.61" fill="#d82020" /><line x1="633.25" y1="557.75" x2="636.95" y2="564.16" stroke="#d82020" stroke-width="0.9" stroke-dasharray="1.4 1.0"/><polygon points="637.55,565.2 637.42,562.97 635.68,563.97" fill="#d82020" /><line x1="633.25" y1="557.75" x2="633.25" y2="550.35" stroke="#d82020" stroke-width="0.9" stroke-dasharray="1.4 1.0"/><polygon points="633.25,549.15 632.25,551.15 634.25,551.15" fill="#d82020" />
<line x1="659.25" y1="572.25" x2="665.66" y2="568.55" stroke="#d82020" stroke-width="0.9" stroke-dasharray="1.4 1.0"/><polygon points="666.7,567.95 664.47,568.08 665.47,569.82" fill="#d82020" /><line x1="659.25" y1="572.25" x2="661.78" y2="565.3" stroke="#d82020" stroke-width="0.9" stroke-dasharray="1.4 1.0"/><polygon points="662.19,564.17 660.57,565.71 662.45,566.39" fill="#d82020" /><line x1="659.25" y1="572.25" x2="656.72" y2="565.3" stroke="#d82020" stroke-width="0.9" stroke-dasharray="1.4 1.0"/><polygon points="656.31,564.17 656.05,566.39 657.93,565.71" fill="#d82020" /><line x1="659.25" y1="572.25" x2="652.84" y2="568.55" stroke="#d82020" stroke-width="0.9" stroke-dasharray="1.4 1.0"/><polygon points="651.8,567.95 653.03,569.82 654.03,568.08" fill="#d82020" />
<line x1="680" y1="534.5" x2="687.29" y2="535.78" stroke="#d82020" stroke-width="0.9" stroke-dasharray="1.4 1.0"/><polygon points="688.47,535.99 686.67,534.66 686.33,536.63" fill="#d82020" /><line x1="680" y1="534.5" x2="686.41" y2="530.8" stroke="#d82020" stroke-width="0.9" stroke-dasharray="1.4 1.0"/><polygon points="687.45,530.2 685.22,530.33 686.22,532.07" fill="#d82020" /><line x1="680" y1="534.5" x2="682.53" y2="541.45" stroke="#d82020" stroke-width="0.9" stroke-dasharray="1.4 1.0"/><polygon points="682.94,542.58 683.2,540.36 681.32,541.04" fill="#d82020" /><line x1="680" y1="534.5" x2="677.47" y2="541.45" stroke="#d82020" stroke-width="0.9" stroke-dasharray="1.4 1.0"/><polygon points="677.06,542.58 678.68,541.04 676.8,540.36" fill="#d82020" />
<line x1="701.25" y1="556.25" x2="702.53" y2="548.96" stroke="#d82020" stroke-width="0.9" stroke-dasharray="1.4 1.0"/><polygon points="702.74,547.78 701.41,549.58 703.38,549.92" fill="#d82020" /><line x1="701.25" y1="556.25" x2="697.55" y2="549.84" stroke="#d82020" stroke-width="0.9" stroke-dasharray="1.4 1.0"/><polygon points="696.95,548.8 697.08,551.03 698.82,550.03" fill="#d82020" /><line x1="701.25" y1="556.25" x2="694.3" y2="553.72" stroke="#d82020" stroke-width="0.9" stroke-dasharray="1.4 1.0"/><polygon points="693.17,553.31 694.71,554.93 695.39,553.05" fill="#d82020" /><line x1="701.25" y1="556.25" x2="706.92" y2="551.49" stroke="#d82020" stroke-width="0.9" stroke-dasharray="1.4 1.0"/><polygon points="707.84,550.72 705.66,551.24 706.95,552.77" fill="#d82020" />
<line x1="757.5" y1="542.5" x2="751.09" y2="538.8" stroke="#d82020" stroke-width="0.9" stroke-dasharray="1.4 1.0"/><polygon points="750.05,538.2 751.28,540.07 752.28,538.33" fill="#d82020" /><line x1="757.5" y1="542.5" x2="750.21" y2="543.78" stroke="#d82020" stroke-width="0.9" stroke-dasharray="1.4 1.0"/><polygon points="749.03,543.99 751.17,544.63 750.83,542.66" fill="#d82020" /><line x1="757.5" y1="542.5" x2="752.74" y2="548.17" stroke="#d82020" stroke-width="0.9" stroke-dasharray="1.4 1.0"/><polygon points="751.97,549.09 754.02,548.2 752.49,546.91" fill="#d82020" /><line x1="757.5" y1="542.5" x2="757.5" y2="549.9" stroke="#d82020" stroke-width="0.9" stroke-dasharray="1.4 1.0"/><polygon points="757.5,551.1 758.5,549.1 756.5,549.1" fill="#d82020" />
<line x1="720" y1="593.75" x2="725.67" y2="588.99" stroke="#d82020" stroke-width="0.9" stroke-dasharray="1.4 1.0"/><polygon points="726.59,588.22 724.41,588.74 725.7,590.27" fill="#d82020" /><line x1="720" y1="593.75" x2="727.4" y2="593.75" stroke="#d82020" stroke-width="0.9" stroke-dasharray="1.4 1.0"/><polygon points="728.6,593.75 726.6,592.75 726.6,594.75" fill="#d82020" /><line x1="720" y1="593.75" x2="725.67" y2="598.51" stroke="#d82020" stroke-width="0.9" stroke-dasharray="1.4 1.0"/><polygon points="726.59,599.28 725.7,597.23 724.41,598.76" fill="#d82020" /><line x1="720" y1="593.75" x2="721.28" y2="601.04" stroke="#d82020" stroke-width="0.9" stroke-dasharray="1.4 1.0"/><polygon points="721.49,602.22 722.13,600.08 720.16,600.42" fill="#d82020" />
</g>
<path d="M762.1 522.9 C763.5 521.5 763.6 521 766.5 518.7 C769.4 516.5 768.6 516.5 770.8 516.1 C773 515.7 774.9 520 773 517.5 C771.1 515 767.8 511.6 765.1 508.6" fill="none" stroke="#a8a4d4" stroke-width="1.2" stroke-linejoin="round" stroke-linecap="round" /><path d="M773 517.5 C770.4 514.5 762.5 510.2 765.1 508.6 C767.8 507 781.4 517.1 781 512.7 C780.7 508.2 769.7 501.1 764.1 495.3" fill="none" stroke="#5a66b0" stroke-width="1.5" stroke-linejoin="round" stroke-linecap="round" /><path d="M781 512.7 C775.4 506.9 760 498.2 764.1 495.3 C768.2 492.4 791.1 508.6 793.3 504 C795.6 499.4 770.8 486.5 770.8 481.4 C770.8 476.4 789.4 490.6 793.3 488.8 C797.3 487 782.6 479.7 782.6 476.1 C782.6 472.4 790.4 479.6 793.3 477.8 C796.2 476 792 473 791.3 470.6" fill="none" stroke="#14307c" stroke-width="1.8" stroke-linejoin="round" stroke-linecap="round" /><path d="M765.1 508.6 C770.4 510 781.4 517.1 781 512.7 C780.7 508.2 769.7 501.1 764.1 495.3" fill="none" stroke="#2c428e" stroke-width="1.6" stroke-linejoin="round" stroke-linecap="round" /><polyline points="766.15,522.44 762.05,523.05 763.38,518.54" fill="none" stroke="#b4aed8" stroke-width="1" stroke-linejoin="round" stroke-linecap="round" />
</g>
<g>
<polygon points="18.6,636.2 32.2,622.6 32.2,629 785,629 785,622.6 798.5,636.2 785,649.8 785,643.4 32.2,643.4 32.2,649.8" fill="url(#garrow)" />
<text x="151" y="640.6" font-size="12.2" font-weight="bold" fill="#eaf0f9" text-anchor="middle"  stroke="#eaf0f9" stroke-width="0.22">Enhanced Conduction loss</text>
<text x="438.5" y="640.6" font-size="12.2" font-weight="bold" fill="#f4f7fc" text-anchor="middle"  stroke="#f4f7fc" stroke-width="0.22">PNIAPM gel absorbers</text>
<text x="570" y="640" font-size="12.1" font-weight="bold" fill="#eef3fa" text-anchor="start"  stroke="#eef3fa" stroke-width="0.22">Multiphase&#160; interfacial reflection</text>
<line x1="32.4" y1="666.8" x2="32.4" y2="676.2" stroke="#ee3434" stroke-width="1.5" />
<line x1="36.6" y1="666.8" x2="36.6" y2="676.2" stroke="#ee3434" stroke-width="1.5" />
<line x1="40.8" y1="666.8" x2="40.8" y2="676.2" stroke="#ee3434" stroke-width="1.5" />
<text x="50" y="675.8" font-size="10.1" font-weight="bold" fill="#111" text-anchor="start"  stroke="#111" stroke-width="0.22">Hydrogen bond</text>
<circle cx="152.5" cy="671.3" r="9.6" fill="url(#gy)" stroke="none" stroke-width="1" /><line x1="147.7" y1="671.3" x2="157.3" y2="671.3" stroke="#fff" stroke-width="1.6" /><line x1="152.5" y1="666.5" x2="152.5" y2="676.1" stroke="#fff" stroke-width="1.6" />
<circle cx="170.6" cy="671.3" r="7.6" fill="url(#gg)" stroke="none" stroke-width="1" /><line x1="166.8" y1="671.3" x2="174.4" y2="671.3" stroke="#fff" stroke-width="1.5" />
<text x="185" y="674.8" font-size="10.1" font-weight="bold" fill="#111" text-anchor="start"  stroke="#111" stroke-width="0.22">ILs</text>
<path d="M213 669.5 L213.4 669.4 L213.8 669.2 L214.2 668.9 L214.6 668.5 L215 668.3 L215.4 668.2 L215.9 668.4 L216.3 669 L216.7 669.9 L217.1 671 L217.5 672.1 L217.9 673 L218.3 673.5 L218.7 673.5 L219.1 672.8 L219.5 671.5 L219.9 669.8 L220.3 667.8 L220.8 665.8 L221.2 664.2 L221.6 663.2 L222 663.1 L222.4 663.8 L222.8 665.4 L223.2 667.7 L223.6 670.3 L224 672.8 L224.4 675 L224.8 676.4 L225.2 676.9 L225.7 676.4 L226.1 675 L226.5 672.8 L226.9 670.3 L227.3 667.7 L227.7 665.4 L228.1 663.8 L228.5 663.1 L228.9 663.2 L229.3 664.2 L229.7 665.8 L230.2 667.8 L230.6 669.8 L231 671.5 L231.4 672.8 L231.8 673.5 L232.2 673.5 L232.6 673 L233 672.1 L233.4 671 L233.8 669.9 L234.2 669 L234.6 668.4 L235.1 668.2 L235.5 668.3 L235.9 668.5 L236.3 668.9 L236.7 669.2 L237.1 669.4 L237.5 669.5" fill="none" stroke="#2a4a9a" stroke-width="1.1" stroke-linejoin="round" stroke-linecap="round"/>
<text x="243.8" y="675.8" font-size="10.1" font-weight="bold" fill="#111" text-anchor="start"  stroke="#111" stroke-width="0.22">Incident microwaves</text>
<path d="M354 669.5 L354.4 669.4 L354.8 669.2 L355.1 668.9 L355.5 668.5 L355.9 668.3 L356.2 668.2 L356.6 668.4 L357 669 L357.4 669.9 L357.8 671 L358.1 672.1 L358.5 673 L358.9 673.5 L359.2 673.5 L359.6 672.8 L360 671.5 L360.4 669.8 L360.8 667.8 L361.1 665.8 L361.5 664.2 L361.9 663.2 L362.2 663.1 L362.6 663.8 L363 665.4 L363.4 667.7 L363.8 670.3 L364.1 672.8 L364.5 675 L364.9 676.4 L365.2 676.9 L365.6 676.4 L366 675 L366.4 672.8 L366.8 670.3 L367.1 667.7 L367.5 665.4 L367.9 663.8 L368.2 663.1 L368.6 663.2 L369 664.2 L369.4 665.8 L369.8 667.8 L370.1 669.8 L370.5 671.5 L370.9 672.8 L371.2 673.5 L371.6 673.5 L372 673 L372.4 672.1 L372.8 671 L373.1 669.9 L373.5 669 L373.9 668.4 L374.2 668.2 L374.6 668.3 L375 668.5 L375.4 668.9 L375.8 669.2 L376.1 669.4 L376.5 669.5" fill="none" stroke="#e0382c" stroke-width="1.1" stroke-linejoin="round" stroke-linecap="round"/>
<text x="384.2" y="675.8" font-size="10.1" font-weight="bold" fill="#111" text-anchor="start"  stroke="#111" stroke-width="0.22">Absorbed microwaves</text>
<rect x="509" y="663.4" width="18.5" height="14" fill="#78a6d8" stroke="none" stroke-width="0" rx="1.2"/>
<text x="530.5" y="674.2" font-size="10.1" font-weight="bold" fill="#111" text-anchor="start"  stroke="#111" stroke-width="0.22">PNIPAM Phase</text>
<rect x="614.4" y="664" width="16.8" height="13.4" fill="#cfe2f3" stroke="none" stroke-width="0" rx="1.2"/>
<text x="635.3" y="674.8" font-size="10.1" font-weight="bold" fill="#111" text-anchor="start"  stroke="#111" stroke-width="0.22">ILs Phase</text>
<path d="M702 673.5 C703.3 672.8 703.3 671.2 706 671.5 C708.7 671.8 707 674.8 710 674.5 C713 674.2 712 671.2 715 670.5 C718 669.8 716 671.7 719 672.5 C722 673.3 722.3 672.8 724 673" fill="none" stroke="#7d8fa8" stroke-width="1.3" stroke-linejoin="round" stroke-linecap="round" />
<text x="725.8" y="675.6" font-size="10.1" font-weight="bold" fill="#111" text-anchor="start"  stroke="#111" stroke-width="0.22">PNIPAM</text>
<g opacity="0.62">
<ellipse cx="441" cy="645" rx="8.6" ry="7.4" fill="#8a8a8a" stroke="none" stroke-width="1" />
<polygon points="434.5,650 433,654.5 438.5,651.8" fill="#8a8a8a" />
<ellipse cx="451.5" cy="650" rx="7.4" ry="6.2" fill="#9a9a9a" stroke="#fff" stroke-width="0.8" />
<polygon points="456,654.5 458.2,658 453,655.8" fill="#9a9a9a" />
<circle cx="438" cy="642.8" r="1" fill="#fff" stroke="none" stroke-width="1" />
<circle cx="444.4" cy="642.8" r="1" fill="#fff" stroke="none" stroke-width="1" />
<circle cx="449" cy="648.4" r="0.85" fill="#fff" stroke="none" stroke-width="1" />
<circle cx="454.2" cy="648.4" r="0.85" fill="#fff" stroke="none" stroke-width="1" />
<text x="466.5" y="659.0" font-size="20" fill="#7a7a7a" letter-spacing="2.0" font-weight="normal">公众号 · 西工大化学与化工学院</text>
</g>
<text x="9" y="484.5" font-size="24.5" font-weight="bold" fill="#000" text-anchor="start"  stroke="#000" stroke-width="0.22">m</text>
</g>
</g>
</svg>
</body></html>
